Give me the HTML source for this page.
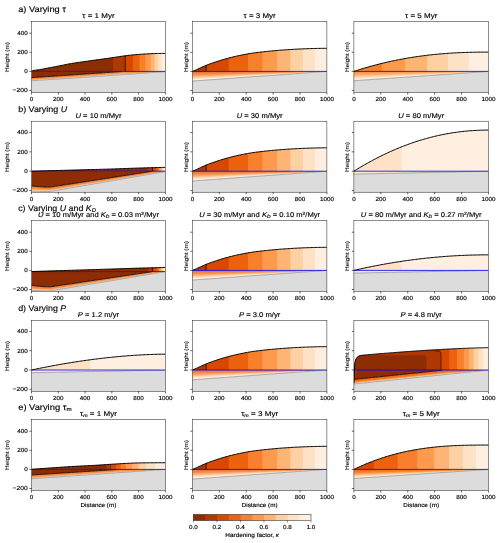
<!DOCTYPE html>
<html><head><meta charset="utf-8"><style>
html,body{margin:0;padding:0;background:#fff;width:500px;height:543px;overflow:hidden;position:relative;}
svg{display:block;position:absolute;left:0;top:0;will-change:transform;}
.yl{position:absolute;font-family:"Liberation Sans", sans-serif;color:#000;white-space:nowrap;line-height:1;transform-origin:0 0;will-change:transform;-webkit-text-stroke:0.08px #000;}
text{font-family:"Liberation Sans", sans-serif;fill:#000;stroke:#000;stroke-width:0.14px;text-rendering:geometricPrecision;}
</style></head><body>
<svg width="500" height="543" viewBox="0 0 500 543">
<defs><linearGradient id="g1" x1="0" y1="0" x2="0" y2="1"><stop offset="0" stop-color="#dc4c04"/><stop offset="0.38" stop-color="#f6802e"/><stop offset="0.7" stop-color="#fdcc9c"/><stop offset="0.9" stop-color="#fff1e4"/><stop offset="1" stop-color="#fff5eb"/></linearGradient>
<linearGradient id="g2" x1="0" y1="0" x2="0" y2="1"><stop offset="0" stop-color="#ea6010"/><stop offset="0.38" stop-color="#f88a3a"/><stop offset="0.72" stop-color="#fdd0a0"/><stop offset="0.92" stop-color="#fff3e6"/><stop offset="1" stop-color="#fff5eb"/></linearGradient>
<linearGradient id="g3" x1="0" y1="0" x2="0" y2="1"><stop offset="0" stop-color="#f98a3a"/><stop offset="0.35" stop-color="#fdac6a"/><stop offset="0.75" stop-color="#fee6cc"/><stop offset="1" stop-color="#fff5eb"/></linearGradient>
<linearGradient id="g4" x1="0" y1="0" x2="0" y2="1"><stop offset="0" stop-color="#e85a0a"/><stop offset="0.5" stop-color="#f57a22"/><stop offset="0.75" stop-color="#fcac6a"/><stop offset="0.9" stop-color="#feead6"/><stop offset="1" stop-color="#fff5eb"/></linearGradient>
<linearGradient id="g5" x1="0" y1="0" x2="0" y2="1"><stop offset="0" stop-color="#fee0c4"/><stop offset="1" stop-color="#fff3e8"/></linearGradient>
<clipPath id="clip00"><rect x="31.5" y="21.4" width="133.9" height="71"/></clipPath>
<clipPath id="clip01"><rect x="192.4" y="21.4" width="134.5" height="71"/></clipPath>
<clipPath id="clip02"><rect x="353.9" y="21.4" width="134.6" height="71"/></clipPath>
<clipPath id="clip10"><rect x="31.5" y="121.2" width="133.9" height="71"/></clipPath>
<clipPath id="clip11"><rect x="192.4" y="121.2" width="134.5" height="71"/></clipPath>
<clipPath id="clip12"><rect x="353.9" y="121.2" width="134.6" height="71"/></clipPath>
<clipPath id="clip20"><rect x="31.5" y="220.3" width="133.9" height="71"/></clipPath>
<clipPath id="clip21"><rect x="192.4" y="220.3" width="134.5" height="71"/></clipPath>
<clipPath id="clip22"><rect x="353.9" y="220.3" width="134.6" height="71"/></clipPath>
<clipPath id="clip30"><rect x="31.5" y="320.4" width="133.9" height="71"/></clipPath>
<clipPath id="clip31"><rect x="192.4" y="320.4" width="134.5" height="71"/></clipPath>
<clipPath id="clip32"><rect x="353.9" y="320.4" width="134.6" height="71"/></clipPath>
<clipPath id="clip40"><rect x="31.5" y="419.4" width="133.9" height="71"/></clipPath>
<clipPath id="clip41"><rect x="192.4" y="419.4" width="134.5" height="71"/></clipPath>
<clipPath id="clip42"><rect x="353.9" y="419.4" width="134.6" height="71"/></clipPath></defs>
<rect width="500" height="543" fill="#fff"/>
<g clip-path="url(#clip00)">
<path d="M31.5,80.76 L34.18,80.58 L36.86,80.4 L39.53,80.21 L42.21,80.03 L44.89,79.85 L47.57,79.67 L50.25,79.49 L52.92,79.31 L55.6,79.13 L58.28,78.94 L60.96,78.76 L63.64,78.58 L66.31,78.4 L68.99,78.22 L71.67,78.04 L74.35,77.86 L77.03,77.67 L79.7,77.49 L82.38,77.31 L85.06,77.13 L87.74,76.95 L90.42,76.77 L93.09,76.59 L95.77,76.4 L98.45,76.22 L101.13,76.04 L103.81,75.86 L106.48,75.68 L109.16,75.5 L111.84,75.32 L114.52,75.13 L117.2,74.95 L119.87,74.77 L122.55,74.59 L125.23,74.41 L127.91,74.23 L130.59,74.05 L133.26,73.86 L135.94,73.68 L138.62,73.5 L141.3,73.32 L143.98,73.14 L146.65,72.96 L149.33,72.78 L152.01,72.59 L154.69,72.41 L157.37,72.23 L160.04,72.05 L162.72,71.87 L165.4,71.69 L165.4,92.41 L31.5,92.41 Z" fill="#dcdcdc"/>
<rect x="31.5" y="77.57" width="1.15" height="3.15" fill="url(#g4)"/>
<rect x="32.5" y="77.51" width="1.15" height="3.15" fill="url(#g4)"/>
<rect x="33.5" y="77.44" width="1.15" height="3.15" fill="url(#g4)"/>
<rect x="34.5" y="77.37" width="1.15" height="3.15" fill="url(#g4)"/>
<rect x="35.5" y="77.3" width="1.15" height="3.15" fill="url(#g4)"/>
<rect x="36.5" y="77.23" width="1.15" height="3.15" fill="url(#g4)"/>
<rect x="37.5" y="77.17" width="1.15" height="3.15" fill="url(#g4)"/>
<rect x="38.5" y="77.1" width="1.15" height="3.15" fill="url(#g4)"/>
<rect x="39.5" y="77.03" width="1.15" height="3.15" fill="url(#g4)"/>
<rect x="40.5" y="76.96" width="1.15" height="3.15" fill="url(#g4)"/>
<rect x="41.5" y="76.9" width="1.15" height="3.15" fill="url(#g4)"/>
<rect x="42.5" y="76.83" width="1.15" height="3.15" fill="url(#g4)"/>
<rect x="43.5" y="76.76" width="1.15" height="3.15" fill="url(#g4)"/>
<rect x="44.5" y="76.69" width="1.15" height="3.15" fill="url(#g4)"/>
<rect x="45.5" y="76.63" width="1.15" height="3.15" fill="url(#g4)"/>
<rect x="46.5" y="76.56" width="1.15" height="3.15" fill="url(#g4)"/>
<rect x="47.5" y="76.49" width="1.15" height="3.15" fill="url(#g4)"/>
<rect x="48.5" y="76.42" width="1.15" height="3.15" fill="url(#g4)"/>
<rect x="49.5" y="76.35" width="1.15" height="3.15" fill="url(#g4)"/>
<rect x="50.5" y="76.29" width="1.15" height="3.15" fill="url(#g4)"/>
<rect x="51.5" y="76.22" width="1.15" height="3.15" fill="url(#g4)"/>
<rect x="52.5" y="76.15" width="1.15" height="3.15" fill="url(#g4)"/>
<rect x="53.5" y="76.08" width="1.15" height="3.15" fill="url(#g4)"/>
<rect x="54.5" y="76.02" width="1.15" height="3.15" fill="url(#g4)"/>
<rect x="55.5" y="75.95" width="1.15" height="3.15" fill="url(#g4)"/>
<rect x="56.5" y="75.88" width="1.15" height="3.15" fill="url(#g4)"/>
<rect x="57.5" y="75.81" width="1.15" height="3.15" fill="url(#g4)"/>
<rect x="58.5" y="75.74" width="1.15" height="3.15" fill="url(#g4)"/>
<rect x="59.5" y="75.68" width="1.15" height="3.15" fill="url(#g4)"/>
<rect x="60.5" y="75.61" width="1.15" height="3.15" fill="url(#g4)"/>
<rect x="61.5" y="75.54" width="1.15" height="3.15" fill="url(#g4)"/>
<rect x="62.5" y="75.47" width="1.15" height="3.15" fill="url(#g4)"/>
<rect x="63.5" y="75.41" width="1.15" height="3.15" fill="url(#g4)"/>
<rect x="64.5" y="75.34" width="1.15" height="3.15" fill="url(#g4)"/>
<rect x="65.5" y="75.27" width="1.15" height="3.15" fill="url(#g4)"/>
<rect x="66.5" y="75.2" width="1.15" height="3.15" fill="url(#g4)"/>
<rect x="67.5" y="75.13" width="1.15" height="3.15" fill="url(#g4)"/>
<rect x="68.5" y="75.07" width="1.15" height="3.15" fill="url(#g4)"/>
<rect x="69.5" y="75" width="1.15" height="3.15" fill="url(#g4)"/>
<rect x="70.5" y="74.93" width="1.15" height="3.15" fill="url(#g4)"/>
<rect x="71.5" y="74.86" width="1.15" height="3.15" fill="url(#g4)"/>
<rect x="72.5" y="74.8" width="1.15" height="3.15" fill="url(#g4)"/>
<rect x="73.5" y="74.73" width="1.15" height="3.15" fill="url(#g4)"/>
<rect x="74.5" y="74.66" width="1.15" height="3.15" fill="url(#g4)"/>
<rect x="75.5" y="74.59" width="1.15" height="3.15" fill="url(#g4)"/>
<rect x="76.5" y="74.52" width="1.15" height="3.15" fill="url(#g4)"/>
<rect x="77.5" y="74.46" width="1.15" height="3.15" fill="url(#g4)"/>
<rect x="78.5" y="74.39" width="1.15" height="3.15" fill="url(#g4)"/>
<rect x="79.5" y="74.32" width="1.15" height="3.15" fill="url(#g4)"/>
<rect x="80.5" y="74.25" width="1.15" height="3.15" fill="url(#g4)"/>
<rect x="81.5" y="74.19" width="1.15" height="3.15" fill="url(#g4)"/>
<rect x="82.5" y="74.12" width="1.15" height="3.15" fill="url(#g4)"/>
<rect x="83.5" y="74.05" width="1.15" height="3.15" fill="url(#g4)"/>
<rect x="84.5" y="73.98" width="1.15" height="3.15" fill="url(#g4)"/>
<rect x="85.5" y="73.91" width="1.15" height="3.15" fill="url(#g4)"/>
<rect x="86.5" y="73.85" width="1.15" height="3.15" fill="url(#g4)"/>
<rect x="87.5" y="73.78" width="1.15" height="3.15" fill="url(#g4)"/>
<rect x="88.5" y="73.71" width="1.15" height="3.15" fill="url(#g4)"/>
<rect x="89.5" y="73.64" width="1.15" height="3.15" fill="url(#g4)"/>
<rect x="90.5" y="73.58" width="1.15" height="3.15" fill="url(#g4)"/>
<rect x="91.5" y="73.51" width="1.15" height="3.15" fill="url(#g4)"/>
<rect x="92.5" y="73.44" width="1.15" height="3.15" fill="url(#g4)"/>
<rect x="93.5" y="73.37" width="1.15" height="3.15" fill="url(#g4)"/>
<rect x="94.5" y="73.31" width="1.15" height="3.15" fill="url(#g4)"/>
<rect x="95.5" y="73.24" width="1.15" height="3.15" fill="url(#g4)"/>
<rect x="96.5" y="73.17" width="1.15" height="3.15" fill="url(#g4)"/>
<rect x="97.5" y="73.1" width="1.15" height="3.15" fill="url(#g4)"/>
<rect x="98.5" y="73.03" width="1.15" height="3.15" fill="url(#g4)"/>
<rect x="99.5" y="72.97" width="1.15" height="3.15" fill="url(#g4)"/>
<rect x="100.5" y="72.9" width="1.15" height="3.15" fill="url(#g4)"/>
<rect x="101.5" y="72.83" width="1.15" height="3.15" fill="url(#g4)"/>
<rect x="102.5" y="72.76" width="1.15" height="3.15" fill="url(#g4)"/>
<rect x="103.5" y="72.7" width="1.15" height="3.15" fill="url(#g4)"/>
<rect x="104.5" y="72.63" width="1.15" height="3.15" fill="url(#g4)"/>
<rect x="105.5" y="72.56" width="1.15" height="3.15" fill="url(#g4)"/>
<rect x="106.5" y="72.49" width="1.15" height="3.15" fill="url(#g4)"/>
<rect x="107.5" y="72.42" width="1.15" height="3.15" fill="url(#g4)"/>
<rect x="108.5" y="72.36" width="1.15" height="3.15" fill="url(#g4)"/>
<rect x="109.5" y="72.29" width="1.15" height="3.15" fill="url(#g4)"/>
<rect x="110.5" y="72.22" width="1.15" height="3.15" fill="url(#g4)"/>
<rect x="111.5" y="72.15" width="1.15" height="3.15" fill="url(#g4)"/>
<rect x="112.5" y="72.09" width="1.15" height="3.15" fill="url(#g4)"/>
<rect x="113.5" y="72.02" width="1.15" height="3.15" fill="url(#g4)"/>
<rect x="114.5" y="71.95" width="1.15" height="3.15" fill="url(#g4)"/>
<rect x="115.5" y="71.88" width="1.15" height="3.15" fill="url(#g4)"/>
<rect x="116.5" y="71.81" width="1.15" height="3.15" fill="url(#g4)"/>
<rect x="117.5" y="71.75" width="1.15" height="3.15" fill="url(#g4)"/>
<rect x="118.5" y="71.68" width="1.15" height="3.15" fill="url(#g4)"/>
<rect x="119.5" y="71.61" width="1.15" height="3.15" fill="url(#g4)"/>
<rect x="120.5" y="71.54" width="1.15" height="3.15" fill="url(#g4)"/>
<rect x="121.5" y="71.48" width="1.15" height="3.15" fill="url(#g4)"/>
<rect x="122.5" y="71.41" width="1.15" height="3.15" fill="url(#g4)"/>
<rect x="123.5" y="71.4" width="1.15" height="3.09" fill="url(#g4)"/>
<rect x="124.5" y="71.4" width="1.15" height="3.02" fill="url(#g4)"/>
<rect x="125.5" y="71.4" width="1.15" height="2.96" fill="url(#g4)"/>
<rect x="126.5" y="71.4" width="1.15" height="2.89" fill="url(#g4)"/>
<rect x="127.5" y="71.4" width="1.15" height="2.82" fill="url(#g4)"/>
<rect x="128.5" y="71.4" width="1.15" height="2.75" fill="url(#g4)"/>
<rect x="129.5" y="71.4" width="1.15" height="2.69" fill="url(#g4)"/>
<rect x="130.5" y="71.4" width="1.15" height="2.62" fill="url(#g4)"/>
<rect x="131.5" y="71.4" width="1.15" height="2.55" fill="url(#g4)"/>
<rect x="132.5" y="71.4" width="1.15" height="2.48" fill="url(#g4)"/>
<rect x="133.5" y="71.4" width="1.15" height="2.41" fill="url(#g4)"/>
<rect x="134.5" y="71.4" width="1.15" height="2.35" fill="url(#g4)"/>
<rect x="135.5" y="71.4" width="1.15" height="2.28" fill="url(#g4)"/>
<rect x="136.5" y="71.4" width="1.15" height="2.21" fill="url(#g4)"/>
<rect x="137.5" y="71.4" width="1.15" height="2.14" fill="url(#g4)"/>
<rect x="138.5" y="71.4" width="1.15" height="2.08" fill="url(#g4)"/>
<rect x="139.5" y="71.4" width="1.15" height="2.01" fill="url(#g4)"/>
<rect x="140.5" y="71.4" width="1.15" height="1.94" fill="url(#g4)"/>
<rect x="141.5" y="71.4" width="1.15" height="1.87" fill="url(#g4)"/>
<rect x="142.5" y="71.4" width="1.15" height="1.8" fill="url(#g4)"/>
<rect x="143.5" y="71.4" width="1.15" height="1.74" fill="url(#g4)"/>
<rect x="144.5" y="71.4" width="1.15" height="1.67" fill="url(#g4)"/>
<rect x="145.5" y="71.4" width="1.15" height="1.6" fill="url(#g4)"/>
<rect x="146.5" y="71.4" width="1.15" height="1.53" fill="url(#g4)"/>
<rect x="147.5" y="71.4" width="1.15" height="1.47" fill="url(#g4)"/>
<rect x="148.5" y="71.4" width="1.15" height="1.4" fill="url(#g4)"/>
<rect x="149.5" y="71.4" width="1.15" height="1.33" fill="url(#g4)"/>
<rect x="150.5" y="71.4" width="1.15" height="1.26" fill="url(#g4)"/>
<rect x="151.5" y="71.4" width="1.15" height="1.19" fill="url(#g4)"/>
<rect x="152.5" y="71.4" width="1.15" height="1.13" fill="url(#g4)"/>
<rect x="153.5" y="71.4" width="1.15" height="1.06" fill="url(#g4)"/>
<rect x="154.5" y="71.4" width="1.15" height="0.99" fill="url(#g4)"/>
<rect x="155.5" y="71.4" width="1.15" height="0.92" fill="url(#g4)"/>
<rect x="156.5" y="71.4" width="1.15" height="0.86" fill="url(#g4)"/>
<rect x="157.5" y="71.4" width="1.15" height="0.79" fill="url(#g4)"/>
<rect x="158.5" y="71.4" width="1.15" height="0.72" fill="url(#g4)"/>
<rect x="159.5" y="71.4" width="1.15" height="0.65" fill="url(#g4)"/>
<rect x="160.5" y="71.4" width="1.15" height="0.58" fill="url(#g4)"/>
<rect x="161.5" y="71.4" width="1.15" height="0.52" fill="url(#g4)"/>
<rect x="162.5" y="71.4" width="1.15" height="0.45" fill="url(#g4)"/>
<rect x="163.5" y="71.4" width="1.15" height="0.38" fill="url(#g4)"/>
<rect x="164.5" y="71.4" width="1.05" height="0.32" fill="url(#g4)"/>
<path d="M31.5,71.4 L31.5,77.61 L32.84,77.52 L34.18,77.43 L35.52,77.34 L36.86,77.24 L38.2,77.15 L39.53,77.06 L40.87,76.97 L42.21,76.88 L43.55,76.79 L44.89,76.7 L46.23,76.61 L47.57,76.52 L48.91,76.43 L50.25,76.34 L51.59,76.25 L52.92,76.16 L54.26,76.07 L55.6,75.97 L56.94,75.88 L58.28,75.79 L59.62,75.7 L60.96,75.61 L62.3,75.52 L63.64,75.43 L64.97,75.34 L66.31,75.25 L67.65,75.16 L68.99,75.07 L70.33,74.98 L71.67,74.89 L73.01,74.8 L74.35,74.7 L75.69,74.61 L77.03,74.52 L78.37,74.43 L79.7,74.34 L81.04,74.25 L82.38,74.16 L83.72,74.07 L85.06,73.98 L86.4,73.89 L87.74,73.8 L89.08,73.71 L90.42,73.62 L91.75,73.52 L93.09,73.43 L94.43,73.34 L95.77,73.25 L97.11,73.16 L98.45,73.07 L99.79,72.98 L101.13,72.89 L102.47,72.8 L103.81,72.71 L105.15,72.62 L106.48,72.53 L107.82,72.44 L109.16,72.35 L110.5,72.25 L111.84,72.16 L113.18,72.07 L114.52,71.98 L115.86,71.89 L117.2,71.8 L118.54,71.71 L119.87,71.62 L121.21,71.53 L122.55,71.44 L123.89,71.4 L125.23,71.4 L126.57,71.4 L127.91,71.4 L129.25,71.4 L130.59,71.4 L131.93,71.4 L133.26,71.4 L134.6,71.4 L135.94,71.4 L137.28,71.4 L138.62,71.4 L139.96,71.4 L141.3,71.4 L142.64,71.4 L143.98,71.4 L145.31,71.4 L146.65,71.4 L147.99,71.4 L149.33,71.4 L150.67,71.4 L152.01,71.4 L153.35,71.4 L154.69,71.4 L156.03,71.4 L157.37,71.4 L158.7,71.4 L160.04,71.4 L161.38,71.4 L162.72,71.4 L164.06,71.4 L165.4,71.4 L165.4,71.4 Z" fill="#8e2d04"/>
<path d="M31.5,77.61 L32.84,77.52 L34.18,77.43 L35.52,77.34 L36.86,77.24 L38.2,77.15 L39.53,77.06 L40.87,76.97 L42.21,76.88 L43.55,76.79 L44.89,76.7 L46.23,76.61 L47.57,76.52 L48.91,76.43 L50.25,76.34 L51.59,76.25 L52.92,76.16 L54.26,76.07 L55.6,75.97 L56.94,75.88 L58.28,75.79 L59.62,75.7 L60.96,75.61 L62.3,75.52 L63.64,75.43 L64.97,75.34 L66.31,75.25 L67.65,75.16 L68.99,75.07 L70.33,74.98 L71.67,74.89 L73.01,74.8 L74.35,74.7 L75.69,74.61 L77.03,74.52 L78.37,74.43 L79.7,74.34 L81.04,74.25 L82.38,74.16 L83.72,74.07 L85.06,73.98 L86.4,73.89 L87.74,73.8 L89.08,73.71 L90.42,73.62 L91.75,73.52 L93.09,73.43 L94.43,73.34 L95.77,73.25 L97.11,73.16 L98.45,73.07 L99.79,72.98 L101.13,72.89 L102.47,72.8 L103.81,72.71 L105.15,72.62 L106.48,72.53 L107.82,72.44 L109.16,72.35 L110.5,72.25 L111.84,72.16 L113.18,72.07 L114.52,71.98 L115.86,71.89 L117.2,71.8 L118.54,71.71 L119.87,71.62 L121.21,71.53" fill="none" stroke="#1a0600" stroke-width="0.95" stroke-linejoin="round" stroke-linecap="butt" opacity="0.9"/>
<path d="M31.5,80.76 L34.18,80.58 L36.86,80.4 L39.53,80.21 L42.21,80.03 L44.89,79.85 L47.57,79.67 L50.25,79.49 L52.92,79.31 L55.6,79.13 L58.28,78.94 L60.96,78.76 L63.64,78.58 L66.31,78.4 L68.99,78.22 L71.67,78.04 L74.35,77.86 L77.03,77.67 L79.7,77.49 L82.38,77.31 L85.06,77.13 L87.74,76.95 L90.42,76.77 L93.09,76.59 L95.77,76.4 L98.45,76.22 L101.13,76.04 L103.81,75.86 L106.48,75.68 L109.16,75.5 L111.84,75.32 L114.52,75.13 L117.2,74.95 L119.87,74.77 L122.55,74.59 L125.23,74.41 L127.91,74.23 L130.59,74.05 L133.26,73.86 L135.94,73.68 L138.62,73.5 L141.3,73.32 L143.98,73.14 L146.65,72.96 L149.33,72.78 L152.01,72.59 L154.69,72.41 L157.37,72.23 L160.04,72.05 L162.72,71.87 L165.4,71.69" fill="none" stroke="#6a6a6a" stroke-width="0.55" stroke-linejoin="round" stroke-linecap="butt"/>
<path d="M31.5,71.4 L36.68,70 L41.86,69.25 L47.04,68.25 L52.22,67.25 L57.4,66.27 L62.58,65.24 L67.76,64.16 L72.94,63.26 L78.12,62.47 L83.3,61.74 L88.48,61.02 L93.66,60.29 L98.84,59.57 L104.02,58.86 L109.2,58.14 L114.38,57.37 L114.38,71.4 L31.5,71.4 Z" fill="#8e2d04"/>
<path d="M113.18,57.55 L114.01,57.43 L114.84,57.3 L115.66,57.17 L116.49,57.04 L117.32,56.91 L118.15,56.78 L118.98,56.66 L119.8,56.53 L120.63,56.41 L121.46,56.29 L122.29,56.17 L123.12,56.05 L123.95,55.94 L124.77,55.83 L125.6,55.73 L126.43,55.62 L126.43,71.4 L113.18,71.4 Z" fill="#b03903"/>
<path d="M125.23,55.77 L125.78,55.7 L126.33,55.63 L126.89,55.57 L127.44,55.5 L127.99,55.44 L128.54,55.37 L129.09,55.31 L129.65,55.25 L130.2,55.19 L130.75,55.13 L131.3,55.07 L131.85,55.02 L132.41,54.96 L132.96,54.91 L133.51,54.86 L134.06,54.8 L134.06,71.4 L125.23,71.4 Z" fill="#d94801"/>
<path d="M132.86,54.92 L133.36,54.87 L133.85,54.82 L134.34,54.78 L134.84,54.73 L135.33,54.69 L135.82,54.64 L136.32,54.6 L136.81,54.56 L137.3,54.51 L137.8,54.47 L138.29,54.43 L138.78,54.39 L139.28,54.35 L139.77,54.32 L140.26,54.28 L140.76,54.25 L140.76,71.4 L132.86,71.4 Z" fill="#ec620f"/>
<path d="M139.56,54.33 L140,54.3 L140.44,54.27 L140.89,54.24 L141.33,54.21 L141.77,54.18 L142.22,54.15 L142.66,54.12 L143.1,54.09 L143.55,54.06 L143.99,54.04 L144.43,54.01 L144.88,53.98 L145.32,53.96 L145.76,53.93 L146.21,53.91 L146.65,53.88 L146.65,71.4 L139.56,71.4 Z" fill="#f87f2c"/>
<path d="M145.45,53.95 L145.85,53.93 L146.25,53.9 L146.65,53.88 L147.05,53.86 L147.46,53.84 L147.86,53.82 L148.26,53.8 L148.66,53.79 L149.06,53.77 L149.46,53.75 L149.86,53.74 L150.27,53.72 L150.67,53.71 L151.07,53.69 L151.47,53.68 L151.87,53.67 L151.87,71.4 L145.45,71.4 Z" fill="#fd9a4e"/>
<path d="M150.67,53.71 L150.99,53.7 L151.31,53.69 L151.62,53.68 L151.94,53.66 L152.26,53.65 L152.58,53.64 L152.89,53.63 L153.21,53.62 L153.53,53.61 L153.85,53.6 L154.17,53.59 L154.48,53.58 L154.8,53.57 L155.12,53.56 L155.44,53.55 L155.75,53.54 L155.75,71.4 L150.67,71.4 Z" fill="#fdb576"/>
<path d="M154.55,53.58 L154.84,53.57 L155.12,53.56 L155.41,53.55 L155.69,53.54 L155.98,53.53 L156.26,53.52 L156.54,53.52 L156.83,53.51 L157.11,53.5 L157.4,53.49 L157.68,53.48 L157.96,53.48 L158.25,53.47 L158.53,53.46 L158.82,53.46 L159.1,53.45 L159.1,71.4 L154.55,71.4 Z" fill="#fdd1a3"/>
<path d="M157.9,53.48 L158.21,53.47 L158.52,53.46 L158.83,53.45 L159.14,53.45 L159.45,53.44 L159.76,53.43 L160.07,53.43 L160.38,53.42 L160.69,53.41 L160.99,53.41 L161.3,53.4 L161.61,53.4 L161.92,53.39 L162.23,53.39 L162.54,53.38 L162.85,53.38 L162.85,71.4 L157.9,71.4 Z" fill="#fee2c6"/>
<path d="M161.65,53.39 L161.89,53.39 L162.12,53.39 L162.35,53.38 L162.59,53.38 L162.82,53.38 L163.06,53.37 L163.29,53.37 L163.53,53.37 L163.76,53.36 L163.99,53.36 L164.23,53.36 L164.46,53.36 L164.7,53.36 L164.93,53.35 L165.17,53.35 L165.4,53.35 L165.4,71.4 L161.65,71.4 Z" fill="#ffefe0"/>
<path d="M125.23,71.4 L125.23,55.77" fill="none" stroke="#000" stroke-width="0.7" stroke-linejoin="round" stroke-linecap="butt" opacity="1.0"/>
<path d="M31.5,71.4 L165.4,71.4" fill="none" stroke="#0000ff" stroke-width="1.0" stroke-linejoin="round" stroke-linecap="butt" opacity="0.82"/>
<path d="M31.5,71.4 L32.84,70.68 L34.18,70.36 L35.52,70.14 L36.86,69.98 L38.2,69.83 L39.53,69.65 L40.87,69.43 L42.21,69.18 L43.55,68.93 L44.89,68.67 L46.23,68.41 L47.57,68.14 L48.91,67.88 L50.25,67.62 L51.59,67.37 L52.92,67.12 L54.26,66.87 L55.6,66.61 L56.94,66.36 L58.28,66.1 L59.62,65.84 L60.96,65.58 L62.3,65.3 L63.64,65.02 L64.97,64.73 L66.31,64.46 L67.65,64.18 L68.99,63.93 L70.33,63.69 L71.67,63.46 L73.01,63.25 L74.35,63.03 L75.69,62.83 L77.03,62.63 L78.37,62.43 L79.7,62.24 L81.04,62.05 L82.38,61.86 L83.72,61.68 L85.06,61.49 L86.4,61.31 L87.74,61.12 L89.08,60.93 L90.42,60.74 L91.75,60.55 L93.09,60.36 L94.43,60.18 L95.77,59.99 L97.11,59.81 L98.45,59.63 L99.79,59.44 L101.13,59.26 L102.47,59.08 L103.81,58.89 L105.15,58.71 L106.48,58.52 L107.82,58.33 L109.16,58.14 L110.5,57.95 L111.84,57.76 L113.18,57.55 L114.52,57.35 L115.86,57.14 L117.2,56.93 L118.54,56.72 L119.87,56.52 L121.21,56.32 L122.55,56.13 L123.89,55.95 L125.23,55.77 L126.57,55.61 L127.91,55.45 L129.25,55.29 L130.59,55.15 L131.93,55.01 L133.26,54.88 L134.6,54.75 L135.94,54.63 L137.28,54.52 L138.62,54.41 L139.96,54.3 L141.3,54.21 L142.64,54.12 L143.98,54.04 L145.31,53.96 L146.65,53.88 L147.99,53.82 L149.33,53.76 L150.67,53.71 L152.01,53.66 L153.35,53.62 L154.69,53.57 L156.03,53.53 L157.37,53.49 L158.7,53.46 L160.04,53.43 L161.38,53.4 L162.72,53.38 L164.06,53.36 L165.4,53.35" fill="none" stroke="#000" stroke-width="1.0" stroke-linejoin="round" stroke-linecap="butt"/>
</g>
<path d="M31.5,92.4 v2.1 M58.28,92.4 v2.1 M85.06,92.4 v2.1 M111.84,92.4 v2.1 M138.62,92.4 v2.1 M165.4,92.4 v2.1 M31.5,90.5 h-2.1 M31.5,71.4 h-2.1 M31.5,52.3 h-2.1 M31.5,33.2 h-2.1" stroke="#000" stroke-width="0.6" fill="none"/>
<rect x="31.5" y="21.4" width="133.9" height="71" fill="none" stroke="#000" stroke-width="0.45"/>
<text x="31.5" y="100.75" font-size="5.83" text-anchor="middle" textLength="3.5" lengthAdjust="spacingAndGlyphs">0</text>
<text x="58.28" y="100.75" font-size="5.83" text-anchor="middle" textLength="10.5" lengthAdjust="spacingAndGlyphs">200</text>
<text x="85.06" y="100.75" font-size="5.83" text-anchor="middle" textLength="10.5" lengthAdjust="spacingAndGlyphs">400</text>
<text x="111.84" y="100.75" font-size="5.83" text-anchor="middle" textLength="10.5" lengthAdjust="spacingAndGlyphs">600</text>
<text x="138.62" y="100.75" font-size="5.83" text-anchor="middle" textLength="10.5" lengthAdjust="spacingAndGlyphs">800</text>
<text x="165.4" y="100.75" font-size="5.83" text-anchor="middle" textLength="14" lengthAdjust="spacingAndGlyphs">1000</text>
<text x="27.65" y="92.4" font-size="5.83" text-anchor="end" textLength="15.11" lengthAdjust="spacingAndGlyphs">−200</text>
<text x="27.65" y="73.3" font-size="5.83" text-anchor="end" textLength="3.5" lengthAdjust="spacingAndGlyphs">0</text>
<text x="27.65" y="54.2" font-size="5.83" text-anchor="end" textLength="10.5" lengthAdjust="spacingAndGlyphs">200</text>
<text x="27.65" y="35.1" font-size="5.83" text-anchor="end" textLength="10.5" lengthAdjust="spacingAndGlyphs">400</text>
<g clip-path="url(#clip01)">
<path d="M192.4,81.05 L195.09,80.85 L197.78,80.66 L200.47,80.47 L203.16,80.27 L205.85,80.08 L208.54,79.89 L211.23,79.7 L213.92,79.5 L216.61,79.31 L219.3,79.12 L221.99,78.92 L224.68,78.73 L227.37,78.54 L230.06,78.34 L232.75,78.15 L235.44,77.96 L238.13,77.77 L240.82,77.57 L243.51,77.38 L246.2,77.19 L248.89,76.99 L251.58,76.8 L254.27,76.61 L256.96,76.42 L259.65,76.22 L262.34,76.03 L265.03,75.84 L267.72,75.64 L270.41,75.45 L273.1,75.26 L275.79,75.07 L278.48,74.87 L281.17,74.68 L283.86,74.49 L286.55,74.29 L289.24,74.1 L291.93,73.91 L294.62,73.71 L297.31,73.52 L300,73.33 L302.69,73.14 L305.38,72.94 L308.07,72.75 L310.76,72.56 L313.45,72.36 L316.14,72.17 L318.83,71.98 L321.52,71.79 L324.21,71.59 L326.9,71.4 L326.9,92.41 L192.4,92.41 Z" fill="#dcdcdc"/>
<rect x="192.4" y="71.4" width="1.15" height="9.61" fill="url(#g1)"/>
<rect x="193.4" y="71.4" width="1.15" height="9.54" fill="url(#g1)"/>
<rect x="194.4" y="71.4" width="1.15" height="9.47" fill="url(#g1)"/>
<rect x="195.4" y="71.4" width="1.15" height="9.39" fill="url(#g1)"/>
<rect x="196.4" y="71.4" width="1.15" height="9.32" fill="url(#g1)"/>
<rect x="197.4" y="71.4" width="1.15" height="9.25" fill="url(#g1)"/>
<rect x="198.4" y="71.4" width="1.15" height="9.18" fill="url(#g1)"/>
<rect x="199.4" y="71.4" width="1.15" height="9.11" fill="url(#g1)"/>
<rect x="200.4" y="71.4" width="1.15" height="9.04" fill="url(#g1)"/>
<rect x="201.4" y="71.4" width="1.15" height="8.96" fill="url(#g1)"/>
<rect x="202.4" y="71.4" width="1.15" height="8.89" fill="url(#g1)"/>
<rect x="203.4" y="71.4" width="1.15" height="8.82" fill="url(#g1)"/>
<rect x="204.4" y="71.4" width="1.15" height="8.75" fill="url(#g1)"/>
<rect x="205.4" y="71.4" width="1.15" height="8.68" fill="url(#g1)"/>
<rect x="206.4" y="71.4" width="1.15" height="8.61" fill="url(#g1)"/>
<rect x="207.4" y="71.4" width="1.15" height="8.53" fill="url(#g1)"/>
<rect x="208.4" y="71.4" width="1.15" height="8.46" fill="url(#g1)"/>
<rect x="209.4" y="71.4" width="1.15" height="8.39" fill="url(#g1)"/>
<rect x="210.4" y="71.4" width="1.15" height="8.32" fill="url(#g1)"/>
<rect x="211.4" y="71.4" width="1.15" height="8.25" fill="url(#g1)"/>
<rect x="212.4" y="71.4" width="1.15" height="8.18" fill="url(#g1)"/>
<rect x="213.4" y="71.4" width="1.15" height="8.1" fill="url(#g1)"/>
<rect x="214.4" y="71.4" width="1.15" height="8.03" fill="url(#g1)"/>
<rect x="215.4" y="71.4" width="1.15" height="7.96" fill="url(#g1)"/>
<rect x="216.4" y="71.4" width="1.15" height="7.89" fill="url(#g1)"/>
<rect x="217.4" y="71.4" width="1.15" height="7.82" fill="url(#g1)"/>
<rect x="218.4" y="71.4" width="1.15" height="7.75" fill="url(#g1)"/>
<rect x="219.4" y="71.4" width="1.15" height="7.67" fill="url(#g1)"/>
<rect x="220.4" y="71.4" width="1.15" height="7.6" fill="url(#g1)"/>
<rect x="221.4" y="71.4" width="1.15" height="7.53" fill="url(#g1)"/>
<rect x="222.4" y="71.4" width="1.15" height="7.46" fill="url(#g1)"/>
<rect x="223.4" y="71.4" width="1.15" height="7.39" fill="url(#g1)"/>
<rect x="224.4" y="71.4" width="1.15" height="7.31" fill="url(#g1)"/>
<rect x="225.4" y="71.4" width="1.15" height="7.24" fill="url(#g1)"/>
<rect x="226.4" y="71.4" width="1.15" height="7.17" fill="url(#g1)"/>
<rect x="227.4" y="71.4" width="1.15" height="7.1" fill="url(#g1)"/>
<rect x="228.4" y="71.4" width="1.15" height="7.03" fill="url(#g1)"/>
<rect x="229.4" y="71.4" width="1.15" height="6.96" fill="url(#g1)"/>
<rect x="230.4" y="71.4" width="1.15" height="6.88" fill="url(#g1)"/>
<rect x="231.4" y="71.4" width="1.15" height="6.81" fill="url(#g1)"/>
<rect x="232.4" y="71.4" width="1.15" height="6.74" fill="url(#g1)"/>
<rect x="233.4" y="71.4" width="1.15" height="6.67" fill="url(#g1)"/>
<rect x="234.4" y="71.4" width="1.15" height="6.6" fill="url(#g1)"/>
<rect x="235.4" y="71.4" width="1.15" height="6.53" fill="url(#g1)"/>
<rect x="236.4" y="71.4" width="1.15" height="6.45" fill="url(#g1)"/>
<rect x="237.4" y="71.4" width="1.15" height="6.38" fill="url(#g1)"/>
<rect x="238.4" y="71.4" width="1.15" height="6.31" fill="url(#g1)"/>
<rect x="239.4" y="71.4" width="1.15" height="6.24" fill="url(#g1)"/>
<rect x="240.4" y="71.4" width="1.15" height="6.17" fill="url(#g1)"/>
<rect x="241.4" y="71.4" width="1.15" height="6.1" fill="url(#g1)"/>
<rect x="242.4" y="71.4" width="1.15" height="6.02" fill="url(#g1)"/>
<rect x="243.4" y="71.4" width="1.15" height="5.95" fill="url(#g1)"/>
<rect x="244.4" y="71.4" width="1.15" height="5.88" fill="url(#g1)"/>
<rect x="245.4" y="71.4" width="1.15" height="5.81" fill="url(#g1)"/>
<rect x="246.4" y="71.4" width="1.15" height="5.74" fill="url(#g1)"/>
<rect x="247.4" y="71.4" width="1.15" height="5.67" fill="url(#g1)"/>
<rect x="248.4" y="71.4" width="1.15" height="5.59" fill="url(#g1)"/>
<rect x="249.4" y="71.4" width="1.15" height="5.52" fill="url(#g1)"/>
<rect x="250.4" y="71.4" width="1.15" height="5.45" fill="url(#g1)"/>
<rect x="251.4" y="71.4" width="1.15" height="5.38" fill="url(#g1)"/>
<rect x="252.4" y="71.4" width="1.15" height="5.31" fill="url(#g1)"/>
<rect x="253.4" y="71.4" width="1.15" height="5.24" fill="url(#g1)"/>
<rect x="254.4" y="71.4" width="1.15" height="5.16" fill="url(#g1)"/>
<rect x="255.4" y="71.4" width="1.15" height="5.09" fill="url(#g1)"/>
<rect x="256.4" y="71.4" width="1.15" height="5.02" fill="url(#g1)"/>
<rect x="257.4" y="71.4" width="1.15" height="4.95" fill="url(#g1)"/>
<rect x="258.4" y="71.4" width="1.15" height="4.88" fill="url(#g1)"/>
<rect x="259.4" y="71.4" width="1.15" height="4.8" fill="url(#g1)"/>
<rect x="260.4" y="71.4" width="1.15" height="4.73" fill="url(#g1)"/>
<rect x="261.4" y="71.4" width="1.15" height="4.66" fill="url(#g1)"/>
<rect x="262.4" y="71.4" width="1.15" height="4.59" fill="url(#g1)"/>
<rect x="263.4" y="71.4" width="1.15" height="4.52" fill="url(#g1)"/>
<rect x="264.4" y="71.4" width="1.15" height="4.45" fill="url(#g1)"/>
<rect x="265.4" y="71.4" width="1.15" height="4.37" fill="url(#g1)"/>
<rect x="266.4" y="71.4" width="1.15" height="4.3" fill="url(#g1)"/>
<rect x="267.4" y="71.4" width="1.15" height="4.23" fill="url(#g1)"/>
<rect x="268.4" y="71.4" width="1.15" height="4.16" fill="url(#g1)"/>
<rect x="269.4" y="71.4" width="1.15" height="4.09" fill="url(#g1)"/>
<rect x="270.4" y="71.4" width="1.15" height="4.02" fill="url(#g1)"/>
<rect x="271.4" y="71.4" width="1.15" height="3.94" fill="url(#g1)"/>
<rect x="272.4" y="71.4" width="1.15" height="3.87" fill="url(#g1)"/>
<rect x="273.4" y="71.4" width="1.15" height="3.8" fill="url(#g1)"/>
<rect x="274.4" y="71.4" width="1.15" height="3.73" fill="url(#g1)"/>
<rect x="275.4" y="71.4" width="1.15" height="3.66" fill="url(#g1)"/>
<rect x="276.4" y="71.4" width="1.15" height="3.59" fill="url(#g1)"/>
<rect x="277.4" y="71.4" width="1.15" height="3.51" fill="url(#g1)"/>
<rect x="278.4" y="71.4" width="1.15" height="3.44" fill="url(#g1)"/>
<rect x="279.4" y="71.4" width="1.15" height="3.37" fill="url(#g1)"/>
<rect x="280.4" y="71.4" width="1.15" height="3.3" fill="url(#g1)"/>
<rect x="281.4" y="71.4" width="1.15" height="3.23" fill="url(#g1)"/>
<rect x="282.4" y="71.4" width="1.15" height="3.16" fill="url(#g1)"/>
<rect x="283.4" y="71.4" width="1.15" height="3.08" fill="url(#g1)"/>
<rect x="284.4" y="71.4" width="1.15" height="3.01" fill="url(#g1)"/>
<rect x="285.4" y="71.4" width="1.15" height="2.94" fill="url(#g1)"/>
<rect x="286.4" y="71.4" width="1.15" height="2.87" fill="url(#g1)"/>
<rect x="287.4" y="71.4" width="1.15" height="2.8" fill="url(#g1)"/>
<rect x="288.4" y="71.4" width="1.15" height="2.73" fill="url(#g1)"/>
<rect x="289.4" y="71.4" width="1.15" height="2.65" fill="url(#g1)"/>
<rect x="290.4" y="71.4" width="1.15" height="2.58" fill="url(#g1)"/>
<rect x="291.4" y="71.4" width="1.15" height="2.51" fill="url(#g1)"/>
<rect x="292.4" y="71.4" width="1.15" height="2.44" fill="url(#g1)"/>
<rect x="293.4" y="71.4" width="1.15" height="2.37" fill="url(#g1)"/>
<rect x="294.4" y="71.4" width="1.15" height="2.29" fill="url(#g1)"/>
<rect x="295.4" y="71.4" width="1.15" height="2.22" fill="url(#g1)"/>
<rect x="296.4" y="71.4" width="1.15" height="2.15" fill="url(#g1)"/>
<rect x="297.4" y="71.4" width="1.15" height="2.08" fill="url(#g1)"/>
<rect x="298.4" y="71.4" width="1.15" height="2.01" fill="url(#g1)"/>
<rect x="299.4" y="71.4" width="1.15" height="1.94" fill="url(#g1)"/>
<rect x="300.4" y="71.4" width="1.15" height="1.86" fill="url(#g1)"/>
<rect x="301.4" y="71.4" width="1.15" height="1.79" fill="url(#g1)"/>
<rect x="302.4" y="71.4" width="1.15" height="1.72" fill="url(#g1)"/>
<rect x="303.4" y="71.4" width="1.15" height="1.65" fill="url(#g1)"/>
<rect x="304.4" y="71.4" width="1.15" height="1.58" fill="url(#g1)"/>
<rect x="305.4" y="71.4" width="1.15" height="1.51" fill="url(#g1)"/>
<rect x="306.4" y="71.4" width="1.15" height="1.43" fill="url(#g1)"/>
<rect x="307.4" y="71.4" width="1.15" height="1.36" fill="url(#g1)"/>
<rect x="308.4" y="71.4" width="1.15" height="1.29" fill="url(#g1)"/>
<rect x="309.4" y="71.4" width="1.15" height="1.22" fill="url(#g1)"/>
<rect x="310.4" y="71.4" width="1.15" height="1.15" fill="url(#g1)"/>
<rect x="311.4" y="71.4" width="1.15" height="1.08" fill="url(#g1)"/>
<rect x="312.4" y="71.4" width="1.15" height="1" fill="url(#g1)"/>
<rect x="313.4" y="71.4" width="1.15" height="0.93" fill="url(#g1)"/>
<rect x="314.4" y="71.4" width="1.15" height="0.86" fill="url(#g1)"/>
<rect x="315.4" y="71.4" width="1.15" height="0.79" fill="url(#g1)"/>
<rect x="316.4" y="71.4" width="1.15" height="0.72" fill="url(#g1)"/>
<rect x="317.4" y="71.4" width="1.15" height="0.65" fill="url(#g1)"/>
<rect x="318.4" y="71.4" width="1.15" height="0.57" fill="url(#g1)"/>
<rect x="319.4" y="71.4" width="1.15" height="0.5" fill="url(#g1)"/>
<rect x="320.4" y="71.4" width="1.15" height="0.43" fill="url(#g1)"/>
<rect x="321.4" y="71.4" width="1.15" height="0.36" fill="url(#g1)"/>
<rect x="322.4" y="71.4" width="1.15" height="0.29" fill="url(#g1)"/>
<rect x="323.4" y="71.4" width="1.15" height="0.22" fill="url(#g1)"/>
<rect x="324.4" y="71.4" width="1.15" height="0.14" fill="url(#g1)"/>
<rect x="325.4" y="71.4" width="1.15" height="0.07" fill="url(#g1)"/>
<path d="M192.4,81.05 L195.09,80.85 L197.78,80.66 L200.47,80.47 L203.16,80.27 L205.85,80.08 L208.54,79.89 L211.23,79.7 L213.92,79.5 L216.61,79.31 L219.3,79.12 L221.99,78.92 L224.68,78.73 L227.37,78.54 L230.06,78.34 L232.75,78.15 L235.44,77.96 L238.13,77.77 L240.82,77.57 L243.51,77.38 L246.2,77.19 L248.89,76.99 L251.58,76.8 L254.27,76.61 L256.96,76.42 L259.65,76.22 L262.34,76.03 L265.03,75.84 L267.72,75.64 L270.41,75.45 L273.1,75.26 L275.79,75.07 L278.48,74.87 L281.17,74.68 L283.86,74.49 L286.55,74.29 L289.24,74.1 L291.93,73.91 L294.62,73.71 L297.31,73.52 L300,73.33 L302.69,73.14 L305.38,72.94 L308.07,72.75 L310.76,72.56 L313.45,72.36 L316.14,72.17 L318.83,71.98 L321.52,71.79 L324.21,71.59 L326.9,71.4" fill="none" stroke="#6a6a6a" stroke-width="0.55" stroke-linejoin="round" stroke-linecap="butt"/>
<path d="M192.4,71.4 L193.33,71.04 L194.26,70.68 L195.2,70.3 L196.13,69.9 L197.06,69.48 L197.99,69.05 L198.93,68.62 L199.86,68.18 L200.79,67.73 L201.72,67.3 L202.66,66.86 L203.59,66.44 L204.52,66.03 L205.45,65.64 L206.39,65.27 L207.32,64.9 L207.32,71.4 L192.4,71.4 Z" fill="#b03903"/>
<path d="M206.12,65.37 L207.61,64.79 L209.09,64.23 L210.58,63.69 L212.07,63.16 L213.56,62.65 L215.04,62.15 L216.53,61.66 L218.02,61.18 L219.5,60.7 L220.99,60.24 L222.48,59.79 L223.97,59.34 L225.45,58.92 L226.94,58.5 L228.43,58.1 L229.91,57.72 L229.91,71.4 L206.12,71.4 Z" fill="#d94801"/>
<path d="M228.72,58.03 L230,57.7 L231.29,57.38 L232.57,57.06 L233.86,56.75 L235.14,56.45 L236.43,56.16 L237.71,55.87 L239,55.6 L240.28,55.33 L241.57,55.07 L242.86,54.81 L244.14,54.56 L245.43,54.32 L246.71,54.08 L248,53.85 L249.28,53.63 L249.28,71.4 L228.72,71.4 Z" fill="#ec620f"/>
<path d="M248.08,53.84 L249.05,53.67 L250.02,53.51 L250.98,53.36 L251.95,53.21 L252.91,53.07 L253.88,52.93 L254.85,52.8 L255.81,52.67 L256.78,52.55 L257.74,52.43 L258.71,52.32 L259.68,52.21 L260.64,52.1 L261.61,51.99 L262.57,51.89 L263.54,51.78 L263.54,71.4 L248.08,71.4 Z" fill="#f87f2c"/>
<path d="M262.34,51.91 L263.34,51.8 L264.34,51.69 L265.34,51.59 L266.34,51.48 L267.34,51.37 L268.34,51.27 L269.34,51.17 L270.34,51.07 L271.34,50.97 L272.34,50.88 L273.34,50.78 L274.34,50.69 L275.34,50.6 L276.34,50.52 L277.34,50.44 L278.33,50.35 L278.33,71.4 L262.34,71.4 Z" fill="#fd9a4e"/>
<path d="M277.13,50.45 L278.04,50.38 L278.95,50.31 L279.86,50.23 L280.76,50.16 L281.67,50.1 L282.58,50.03 L283.49,49.96 L284.39,49.9 L285.3,49.84 L286.21,49.77 L287.11,49.71 L288.02,49.66 L288.93,49.6 L289.84,49.54 L290.74,49.49 L291.65,49.44 L291.65,71.4 L277.13,71.4 Z" fill="#fdb576"/>
<path d="M290.45,49.51 L291.3,49.46 L292.15,49.41 L293,49.36 L293.84,49.31 L294.69,49.26 L295.54,49.21 L296.39,49.17 L297.24,49.12 L298.09,49.08 L298.93,49.04 L299.78,49 L300.63,48.96 L301.48,48.92 L302.33,48.89 L303.18,48.85 L304.02,48.82 L304.02,71.4 L290.45,71.4 Z" fill="#fdd1a3"/>
<path d="M302.82,48.87 L303.67,48.83 L304.52,48.8 L305.37,48.77 L306.22,48.74 L307.07,48.71 L307.91,48.68 L308.76,48.65 L309.61,48.62 L310.46,48.6 L311.31,48.57 L312.16,48.55 L313,48.53 L313.85,48.5 L314.7,48.48 L315.55,48.47 L316.4,48.45 L316.4,71.4 L302.82,71.4 Z" fill="#fee2c6"/>
<path d="M315.2,48.47 L315.93,48.46 L316.66,48.44 L317.39,48.43 L318.12,48.41 L318.86,48.4 L319.59,48.39 L320.32,48.37 L321.05,48.36 L321.78,48.35 L322.51,48.34 L323.24,48.33 L323.97,48.32 L324.71,48.31 L325.44,48.3 L326.17,48.3 L326.9,48.29 L326.9,71.4 L315.2,71.4 Z" fill="#ffefe0"/>
<path d="M206.12,71.4 L206.12,65.37" fill="none" stroke="#000" stroke-width="0.7" stroke-linejoin="round" stroke-linecap="butt" opacity="1.0"/>
<path d="M192.4,71.4 L326.9,71.4" fill="none" stroke="#0000ff" stroke-width="1.0" stroke-linejoin="round" stroke-linecap="butt" opacity="0.82"/>
<path d="M192.4,71.4 L193.75,70.88 L195.09,70.34 L196.44,69.76 L197.78,69.15 L199.12,68.52 L200.47,67.89 L201.81,67.25 L203.16,66.63 L204.5,66.04 L205.85,65.48 L207.19,64.95 L208.54,64.44 L209.88,63.94 L211.23,63.45 L212.57,62.98 L213.92,62.52 L215.27,62.07 L216.61,61.63 L217.96,61.2 L219.3,60.77 L220.65,60.35 L221.99,59.93 L223.34,59.53 L224.68,59.14 L226.03,58.76 L227.37,58.39 L228.72,58.03 L230.06,57.68 L231.41,57.35 L232.75,57.02 L234.09,56.7 L235.44,56.38 L236.78,56.08 L238.13,55.78 L239.47,55.5 L240.82,55.22 L242.16,54.95 L243.51,54.68 L244.85,54.43 L246.2,54.18 L247.54,53.93 L248.89,53.7 L250.23,53.48 L251.58,53.26 L252.93,53.06 L254.27,52.88 L255.61,52.7 L256.96,52.53 L258.31,52.37 L259.65,52.21 L261,52.06 L262.34,51.91 L263.69,51.76 L265.03,51.62 L266.38,51.48 L267.72,51.33 L269.06,51.2 L270.41,51.06 L271.75,50.93 L273.1,50.81 L274.44,50.68 L275.79,50.56 L277.13,50.45 L278.48,50.34 L279.82,50.24 L281.17,50.13 L282.51,50.03 L283.86,49.94 L285.2,49.84 L286.55,49.75 L287.89,49.66 L289.24,49.58 L290.58,49.5 L291.93,49.42 L293.27,49.34 L294.62,49.26 L295.96,49.19 L297.31,49.12 L298.65,49.05 L300,48.99 L301.34,48.93 L302.69,48.87 L304.03,48.82 L305.38,48.77 L306.72,48.72 L308.07,48.67 L309.41,48.63 L310.76,48.59 L312.1,48.55 L313.45,48.51 L314.79,48.48 L316.14,48.45 L317.49,48.43 L318.83,48.4 L320.17,48.38 L321.52,48.35 L322.87,48.33 L324.21,48.32 L325.55,48.3 L326.9,48.29" fill="none" stroke="#000" stroke-width="1.0" stroke-linejoin="round" stroke-linecap="butt"/>
</g>
<path d="M192.4,92.4 v2.1 M219.3,92.4 v2.1 M246.2,92.4 v2.1 M273.1,92.4 v2.1 M300,92.4 v2.1 M326.9,92.4 v2.1 M192.4,90.5 h-2.1 M192.4,71.4 h-2.1 M192.4,52.3 h-2.1 M192.4,33.2 h-2.1" stroke="#000" stroke-width="0.6" fill="none"/>
<rect x="192.4" y="21.4" width="134.5" height="71" fill="none" stroke="#000" stroke-width="0.45"/>
<text x="192.4" y="100.75" font-size="5.83" text-anchor="middle" textLength="3.5" lengthAdjust="spacingAndGlyphs">0</text>
<text x="219.3" y="100.75" font-size="5.83" text-anchor="middle" textLength="10.5" lengthAdjust="spacingAndGlyphs">200</text>
<text x="246.2" y="100.75" font-size="5.83" text-anchor="middle" textLength="10.5" lengthAdjust="spacingAndGlyphs">400</text>
<text x="273.1" y="100.75" font-size="5.83" text-anchor="middle" textLength="10.5" lengthAdjust="spacingAndGlyphs">600</text>
<text x="300" y="100.75" font-size="5.83" text-anchor="middle" textLength="10.5" lengthAdjust="spacingAndGlyphs">800</text>
<text x="326.9" y="100.75" font-size="5.83" text-anchor="middle" textLength="14" lengthAdjust="spacingAndGlyphs">1000</text>
<g clip-path="url(#clip02)">
<path d="M353.9,80.76 L356.59,80.57 L359.28,80.38 L361.98,80.2 L364.67,80.01 L367.36,79.82 L370.05,79.64 L372.74,79.45 L375.44,79.26 L378.13,79.07 L380.82,78.89 L383.51,78.7 L386.2,78.51 L388.9,78.33 L391.59,78.14 L394.28,77.95 L396.97,77.76 L399.66,77.58 L402.36,77.39 L405.05,77.2 L407.74,77.02 L410.43,76.83 L413.12,76.64 L415.82,76.45 L418.51,76.27 L421.2,76.08 L423.89,75.89 L426.58,75.71 L429.28,75.52 L431.97,75.33 L434.66,75.14 L437.35,74.96 L440.04,74.77 L442.74,74.58 L445.43,74.39 L448.12,74.21 L450.81,74.02 L453.5,73.83 L456.2,73.65 L458.89,73.46 L461.58,73.27 L464.27,73.08 L466.96,72.9 L469.66,72.71 L472.35,72.52 L475.04,72.34 L477.73,72.15 L480.42,71.96 L483.12,71.77 L485.81,71.59 L488.5,71.4 L488.5,92.41 L353.9,92.41 Z" fill="#dcdcdc"/>
<rect x="353.9" y="71.4" width="1.15" height="9.32" fill="url(#g3)"/>
<rect x="354.9" y="71.4" width="1.15" height="9.25" fill="url(#g3)"/>
<rect x="355.9" y="71.4" width="1.15" height="9.19" fill="url(#g3)"/>
<rect x="356.9" y="71.4" width="1.15" height="9.12" fill="url(#g3)"/>
<rect x="357.9" y="71.4" width="1.15" height="9.05" fill="url(#g3)"/>
<rect x="358.9" y="71.4" width="1.15" height="8.98" fill="url(#g3)"/>
<rect x="359.9" y="71.4" width="1.15" height="8.91" fill="url(#g3)"/>
<rect x="360.9" y="71.4" width="1.15" height="8.84" fill="url(#g3)"/>
<rect x="361.9" y="71.4" width="1.15" height="8.77" fill="url(#g3)"/>
<rect x="362.9" y="71.4" width="1.15" height="8.7" fill="url(#g3)"/>
<rect x="363.9" y="71.4" width="1.15" height="8.63" fill="url(#g3)"/>
<rect x="364.9" y="71.4" width="1.15" height="8.56" fill="url(#g3)"/>
<rect x="365.9" y="71.4" width="1.15" height="8.49" fill="url(#g3)"/>
<rect x="366.9" y="71.4" width="1.15" height="8.42" fill="url(#g3)"/>
<rect x="367.9" y="71.4" width="1.15" height="8.35" fill="url(#g3)"/>
<rect x="368.9" y="71.4" width="1.15" height="8.28" fill="url(#g3)"/>
<rect x="369.9" y="71.4" width="1.15" height="8.21" fill="url(#g3)"/>
<rect x="370.9" y="71.4" width="1.15" height="8.14" fill="url(#g3)"/>
<rect x="371.9" y="71.4" width="1.15" height="8.07" fill="url(#g3)"/>
<rect x="372.9" y="71.4" width="1.15" height="8" fill="url(#g3)"/>
<rect x="373.9" y="71.4" width="1.15" height="7.93" fill="url(#g3)"/>
<rect x="374.9" y="71.4" width="1.15" height="7.86" fill="url(#g3)"/>
<rect x="375.9" y="71.4" width="1.15" height="7.79" fill="url(#g3)"/>
<rect x="376.9" y="71.4" width="1.15" height="7.72" fill="url(#g3)"/>
<rect x="377.9" y="71.4" width="1.15" height="7.66" fill="url(#g3)"/>
<rect x="378.9" y="71.4" width="1.15" height="7.59" fill="url(#g3)"/>
<rect x="379.9" y="71.4" width="1.15" height="7.52" fill="url(#g3)"/>
<rect x="380.9" y="71.4" width="1.15" height="7.45" fill="url(#g3)"/>
<rect x="381.9" y="71.4" width="1.15" height="7.38" fill="url(#g3)"/>
<rect x="382.9" y="71.4" width="1.15" height="7.31" fill="url(#g3)"/>
<rect x="383.9" y="71.4" width="1.15" height="7.24" fill="url(#g3)"/>
<rect x="384.9" y="71.4" width="1.15" height="7.17" fill="url(#g3)"/>
<rect x="385.9" y="71.4" width="1.15" height="7.1" fill="url(#g3)"/>
<rect x="386.9" y="71.4" width="1.15" height="7.03" fill="url(#g3)"/>
<rect x="387.9" y="71.4" width="1.15" height="6.96" fill="url(#g3)"/>
<rect x="388.9" y="71.4" width="1.15" height="6.89" fill="url(#g3)"/>
<rect x="389.9" y="71.4" width="1.15" height="6.82" fill="url(#g3)"/>
<rect x="390.9" y="71.4" width="1.15" height="6.75" fill="url(#g3)"/>
<rect x="391.9" y="71.4" width="1.15" height="6.68" fill="url(#g3)"/>
<rect x="392.9" y="71.4" width="1.15" height="6.61" fill="url(#g3)"/>
<rect x="393.9" y="71.4" width="1.15" height="6.54" fill="url(#g3)"/>
<rect x="394.9" y="71.4" width="1.15" height="6.47" fill="url(#g3)"/>
<rect x="395.9" y="71.4" width="1.15" height="6.4" fill="url(#g3)"/>
<rect x="396.9" y="71.4" width="1.15" height="6.33" fill="url(#g3)"/>
<rect x="397.9" y="71.4" width="1.15" height="6.26" fill="url(#g3)"/>
<rect x="398.9" y="71.4" width="1.15" height="6.2" fill="url(#g3)"/>
<rect x="399.9" y="71.4" width="1.15" height="6.13" fill="url(#g3)"/>
<rect x="400.9" y="71.4" width="1.15" height="6.06" fill="url(#g3)"/>
<rect x="401.9" y="71.4" width="1.15" height="5.99" fill="url(#g3)"/>
<rect x="402.9" y="71.4" width="1.15" height="5.92" fill="url(#g3)"/>
<rect x="403.9" y="71.4" width="1.15" height="5.85" fill="url(#g3)"/>
<rect x="404.9" y="71.4" width="1.15" height="5.78" fill="url(#g3)"/>
<rect x="405.9" y="71.4" width="1.15" height="5.71" fill="url(#g3)"/>
<rect x="406.9" y="71.4" width="1.15" height="5.64" fill="url(#g3)"/>
<rect x="407.9" y="71.4" width="1.15" height="5.57" fill="url(#g3)"/>
<rect x="408.9" y="71.4" width="1.15" height="5.5" fill="url(#g3)"/>
<rect x="409.9" y="71.4" width="1.15" height="5.43" fill="url(#g3)"/>
<rect x="410.9" y="71.4" width="1.15" height="5.36" fill="url(#g3)"/>
<rect x="411.9" y="71.4" width="1.15" height="5.29" fill="url(#g3)"/>
<rect x="412.9" y="71.4" width="1.15" height="5.22" fill="url(#g3)"/>
<rect x="413.9" y="71.4" width="1.15" height="5.15" fill="url(#g3)"/>
<rect x="414.9" y="71.4" width="1.15" height="5.08" fill="url(#g3)"/>
<rect x="415.9" y="71.4" width="1.15" height="5.01" fill="url(#g3)"/>
<rect x="416.9" y="71.4" width="1.15" height="4.94" fill="url(#g3)"/>
<rect x="417.9" y="71.4" width="1.15" height="4.87" fill="url(#g3)"/>
<rect x="418.9" y="71.4" width="1.15" height="4.8" fill="url(#g3)"/>
<rect x="419.9" y="71.4" width="1.15" height="4.74" fill="url(#g3)"/>
<rect x="420.9" y="71.4" width="1.15" height="4.67" fill="url(#g3)"/>
<rect x="421.9" y="71.4" width="1.15" height="4.6" fill="url(#g3)"/>
<rect x="422.9" y="71.4" width="1.15" height="4.53" fill="url(#g3)"/>
<rect x="423.9" y="71.4" width="1.15" height="4.46" fill="url(#g3)"/>
<rect x="424.9" y="71.4" width="1.15" height="4.39" fill="url(#g3)"/>
<rect x="425.9" y="71.4" width="1.15" height="4.32" fill="url(#g3)"/>
<rect x="426.9" y="71.4" width="1.15" height="4.25" fill="url(#g3)"/>
<rect x="427.9" y="71.4" width="1.15" height="4.18" fill="url(#g3)"/>
<rect x="428.9" y="71.4" width="1.15" height="4.11" fill="url(#g3)"/>
<rect x="429.9" y="71.4" width="1.15" height="4.04" fill="url(#g3)"/>
<rect x="430.9" y="71.4" width="1.15" height="3.97" fill="url(#g3)"/>
<rect x="431.9" y="71.4" width="1.15" height="3.9" fill="url(#g3)"/>
<rect x="432.9" y="71.4" width="1.15" height="3.83" fill="url(#g3)"/>
<rect x="433.9" y="71.4" width="1.15" height="3.76" fill="url(#g3)"/>
<rect x="434.9" y="71.4" width="1.15" height="3.69" fill="url(#g3)"/>
<rect x="435.9" y="71.4" width="1.15" height="3.62" fill="url(#g3)"/>
<rect x="436.9" y="71.4" width="1.15" height="3.55" fill="url(#g3)"/>
<rect x="437.9" y="71.4" width="1.15" height="3.48" fill="url(#g3)"/>
<rect x="438.9" y="71.4" width="1.15" height="3.41" fill="url(#g3)"/>
<rect x="439.9" y="71.4" width="1.15" height="3.34" fill="url(#g3)"/>
<rect x="440.9" y="71.4" width="1.15" height="3.27" fill="url(#g3)"/>
<rect x="441.9" y="71.4" width="1.15" height="3.21" fill="url(#g3)"/>
<rect x="442.9" y="71.4" width="1.15" height="3.14" fill="url(#g3)"/>
<rect x="443.9" y="71.4" width="1.15" height="3.07" fill="url(#g3)"/>
<rect x="444.9" y="71.4" width="1.15" height="3" fill="url(#g3)"/>
<rect x="445.9" y="71.4" width="1.15" height="2.93" fill="url(#g3)"/>
<rect x="446.9" y="71.4" width="1.15" height="2.86" fill="url(#g3)"/>
<rect x="447.9" y="71.4" width="1.15" height="2.79" fill="url(#g3)"/>
<rect x="448.9" y="71.4" width="1.15" height="2.72" fill="url(#g3)"/>
<rect x="449.9" y="71.4" width="1.15" height="2.65" fill="url(#g3)"/>
<rect x="450.9" y="71.4" width="1.15" height="2.58" fill="url(#g3)"/>
<rect x="451.9" y="71.4" width="1.15" height="2.51" fill="url(#g3)"/>
<rect x="452.9" y="71.4" width="1.15" height="2.44" fill="url(#g3)"/>
<rect x="453.9" y="71.4" width="1.15" height="2.37" fill="url(#g3)"/>
<rect x="454.9" y="71.4" width="1.15" height="2.3" fill="url(#g3)"/>
<rect x="455.9" y="71.4" width="1.15" height="2.23" fill="url(#g3)"/>
<rect x="456.9" y="71.4" width="1.15" height="2.16" fill="url(#g3)"/>
<rect x="457.9" y="71.4" width="1.15" height="2.09" fill="url(#g3)"/>
<rect x="458.9" y="71.4" width="1.15" height="2.02" fill="url(#g3)"/>
<rect x="459.9" y="71.4" width="1.15" height="1.95" fill="url(#g3)"/>
<rect x="460.9" y="71.4" width="1.15" height="1.88" fill="url(#g3)"/>
<rect x="461.9" y="71.4" width="1.15" height="1.81" fill="url(#g3)"/>
<rect x="462.9" y="71.4" width="1.15" height="1.75" fill="url(#g3)"/>
<rect x="463.9" y="71.4" width="1.15" height="1.68" fill="url(#g3)"/>
<rect x="464.9" y="71.4" width="1.15" height="1.61" fill="url(#g3)"/>
<rect x="465.9" y="71.4" width="1.15" height="1.54" fill="url(#g3)"/>
<rect x="466.9" y="71.4" width="1.15" height="1.47" fill="url(#g3)"/>
<rect x="467.9" y="71.4" width="1.15" height="1.4" fill="url(#g3)"/>
<rect x="468.9" y="71.4" width="1.15" height="1.33" fill="url(#g3)"/>
<rect x="469.9" y="71.4" width="1.15" height="1.26" fill="url(#g3)"/>
<rect x="470.9" y="71.4" width="1.15" height="1.19" fill="url(#g3)"/>
<rect x="471.9" y="71.4" width="1.15" height="1.12" fill="url(#g3)"/>
<rect x="472.9" y="71.4" width="1.15" height="1.05" fill="url(#g3)"/>
<rect x="473.9" y="71.4" width="1.15" height="0.98" fill="url(#g3)"/>
<rect x="474.9" y="71.4" width="1.15" height="0.91" fill="url(#g3)"/>
<rect x="475.9" y="71.4" width="1.15" height="0.84" fill="url(#g3)"/>
<rect x="476.9" y="71.4" width="1.15" height="0.77" fill="url(#g3)"/>
<rect x="477.9" y="71.4" width="1.15" height="0.7" fill="url(#g3)"/>
<rect x="478.9" y="71.4" width="1.15" height="0.63" fill="url(#g3)"/>
<rect x="479.9" y="71.4" width="1.15" height="0.56" fill="url(#g3)"/>
<rect x="480.9" y="71.4" width="1.15" height="0.49" fill="url(#g3)"/>
<rect x="481.9" y="71.4" width="1.15" height="0.42" fill="url(#g3)"/>
<rect x="482.9" y="71.4" width="1.15" height="0.35" fill="url(#g3)"/>
<rect x="483.9" y="71.4" width="1.15" height="0.29" fill="url(#g3)"/>
<rect x="484.9" y="71.4" width="1.15" height="0.22" fill="url(#g3)"/>
<rect x="485.9" y="71.4" width="1.15" height="0.15" fill="url(#g3)"/>
<rect x="486.9" y="71.4" width="1.15" height="0.08" fill="url(#g3)"/>
<path d="M353.9,80.76 L356.59,80.57 L359.28,80.38 L361.98,80.2 L364.67,80.01 L367.36,79.82 L370.05,79.64 L372.74,79.45 L375.44,79.26 L378.13,79.07 L380.82,78.89 L383.51,78.7 L386.2,78.51 L388.9,78.33 L391.59,78.14 L394.28,77.95 L396.97,77.76 L399.66,77.58 L402.36,77.39 L405.05,77.2 L407.74,77.02 L410.43,76.83 L413.12,76.64 L415.82,76.45 L418.51,76.27 L421.2,76.08 L423.89,75.89 L426.58,75.71 L429.28,75.52 L431.97,75.33 L434.66,75.14 L437.35,74.96 L440.04,74.77 L442.74,74.58 L445.43,74.39 L448.12,74.21 L450.81,74.02 L453.5,73.83 L456.2,73.65 L458.89,73.46 L461.58,73.27 L464.27,73.08 L466.96,72.9 L469.66,72.71 L472.35,72.52 L475.04,72.34 L477.73,72.15 L480.42,71.96 L483.12,71.77 L485.81,71.59 L488.5,71.4" fill="none" stroke="#6a6a6a" stroke-width="0.55" stroke-linejoin="round" stroke-linecap="butt"/>
<path d="M353.9,71.4 L355.72,70.81 L357.53,70.22 L359.35,69.65 L361.17,69.09 L362.98,68.54 L364.8,68 L366.61,67.46 L368.43,66.94 L370.25,66.43 L372.06,65.93 L373.88,65.44 L375.7,64.96 L377.51,64.49 L379.33,64.03 L381.15,63.58 L382.96,63.13 L382.96,71.4 L353.9,71.4 Z" fill="#f87f2c"/>
<path d="M381.76,63.42 L383.29,63.06 L384.82,62.69 L386.35,62.34 L387.88,61.99 L389.41,61.65 L390.94,61.31 L392.47,60.98 L394.01,60.66 L395.54,60.34 L397.07,60.04 L398.6,59.73 L400.13,59.44 L401.66,59.15 L403.19,58.87 L404.72,58.59 L406.25,58.32 L406.25,71.4 L381.76,71.4 Z" fill="#fd9a4e"/>
<path d="M405.05,58.53 L406.51,58.28 L407.97,58.03 L409.44,57.78 L410.9,57.54 L412.36,57.31 L413.83,57.08 L415.29,56.86 L416.75,56.65 L418.22,56.44 L419.68,56.23 L421.14,56.03 L422.6,55.84 L424.07,55.65 L425.53,55.47 L426.99,55.29 L428.46,55.12 L428.46,71.4 L405.05,71.4 Z" fill="#fdb576"/>
<path d="M427.26,55.26 L428.63,55.1 L430,54.95 L431.37,54.8 L432.74,54.65 L434.11,54.51 L435.48,54.37 L436.85,54.24 L438.22,54.11 L439.59,53.99 L440.96,53.87 L442.33,53.76 L443.7,53.65 L445.07,53.54 L446.44,53.44 L447.81,53.34 L449.19,53.25 L449.19,71.4 L427.26,71.4 Z" fill="#fdd1a3"/>
<path d="M447.99,53.33 L449.36,53.24 L450.73,53.15 L452.1,53.06 L453.47,52.98 L454.84,52.91 L456.21,52.83 L457.58,52.76 L458.95,52.7 L460.32,52.64 L461.69,52.58 L463.06,52.53 L464.43,52.48 L465.8,52.43 L467.17,52.39 L468.54,52.35 L469.91,52.31 L469.91,71.4 L447.99,71.4 Z" fill="#fee2c6"/>
<path d="M468.71,52.34 L469.95,52.31 L471.19,52.28 L472.42,52.25 L473.66,52.23 L474.9,52.21 L476.13,52.19 L477.37,52.17 L478.61,52.16 L479.84,52.14 L481.08,52.13 L482.32,52.13 L483.55,52.12 L484.79,52.11 L486.03,52.11 L487.26,52.11 L488.5,52.11 L488.5,71.4 L468.71,71.4 Z" fill="#ffefe0"/>
<path d="M353.9,71.4 L488.5,71.4" fill="none" stroke="#0000ff" stroke-width="1.0" stroke-linejoin="round" stroke-linecap="butt" opacity="0.82"/>
<path d="M353.9,71.4 L355.25,70.96 L356.59,70.52 L357.94,70.09 L359.28,69.67 L360.63,69.25 L361.98,68.84 L363.32,68.43 L364.67,68.03 L366.01,67.64 L367.36,67.25 L368.71,66.86 L370.05,66.49 L371.4,66.11 L372.74,65.75 L374.09,65.38 L375.44,65.03 L376.78,64.68 L378.13,64.33 L379.47,63.99 L380.82,63.66 L382.17,63.33 L383.51,63 L384.86,62.68 L386.2,62.37 L387.55,62.06 L388.9,61.76 L390.24,61.46 L391.59,61.17 L392.93,60.88 L394.28,60.6 L395.63,60.33 L396.97,60.05 L398.32,59.79 L399.66,59.53 L401.01,59.27 L402.36,59.02 L403.7,58.77 L405.05,58.53 L406.39,58.3 L407.74,58.07 L409.09,57.84 L410.43,57.62 L411.78,57.4 L413.12,57.19 L414.47,56.99 L415.82,56.78 L417.16,56.59 L418.51,56.4 L419.85,56.21 L421.2,56.03 L422.55,55.85 L423.89,55.68 L425.24,55.51 L426.58,55.34 L427.93,55.18 L429.28,55.03 L430.62,54.88 L431.97,54.73 L433.31,54.59 L434.66,54.45 L436.01,54.32 L437.35,54.19 L438.7,54.07 L440.04,53.95 L441.39,53.83 L442.74,53.72 L444.08,53.62 L445.43,53.51 L446.77,53.41 L448.12,53.32 L449.47,53.23 L450.81,53.14 L452.16,53.06 L453.5,52.98 L454.85,52.9 L456.2,52.83 L457.54,52.77 L458.89,52.7 L460.23,52.64 L461.58,52.59 L462.93,52.53 L464.27,52.48 L465.62,52.44 L466.96,52.39 L468.31,52.35 L469.66,52.32 L471,52.29 L472.35,52.26 L473.69,52.23 L475.04,52.21 L476.39,52.18 L477.73,52.17 L479.08,52.15 L480.42,52.14 L481.77,52.13 L483.12,52.12 L484.46,52.12 L485.81,52.11 L487.15,52.11 L488.5,52.11" fill="none" stroke="#000" stroke-width="1.0" stroke-linejoin="round" stroke-linecap="butt"/>
</g>
<path d="M353.9,92.4 v2.1 M380.82,92.4 v2.1 M407.74,92.4 v2.1 M434.66,92.4 v2.1 M461.58,92.4 v2.1 M488.5,92.4 v2.1 M353.9,90.5 h-2.1 M353.9,71.4 h-2.1 M353.9,52.3 h-2.1 M353.9,33.2 h-2.1" stroke="#000" stroke-width="0.6" fill="none"/>
<rect x="353.9" y="21.4" width="134.6" height="71" fill="none" stroke="#000" stroke-width="0.45"/>
<text x="353.9" y="100.75" font-size="5.83" text-anchor="middle" textLength="3.5" lengthAdjust="spacingAndGlyphs">0</text>
<text x="380.82" y="100.75" font-size="5.83" text-anchor="middle" textLength="10.5" lengthAdjust="spacingAndGlyphs">200</text>
<text x="407.74" y="100.75" font-size="5.83" text-anchor="middle" textLength="10.5" lengthAdjust="spacingAndGlyphs">400</text>
<text x="434.66" y="100.75" font-size="5.83" text-anchor="middle" textLength="10.5" lengthAdjust="spacingAndGlyphs">600</text>
<text x="461.58" y="100.75" font-size="5.83" text-anchor="middle" textLength="10.5" lengthAdjust="spacingAndGlyphs">800</text>
<text x="488.5" y="100.75" font-size="5.83" text-anchor="middle" textLength="14" lengthAdjust="spacingAndGlyphs">1000</text>
<g clip-path="url(#clip10)">
<path d="M31.5,190.94 L34.18,191.07 L36.86,191.19 L39.53,191.32 L42.21,191.41 L44.89,191.49 L47.57,191.57 L50.25,191.38 L52.92,190.92 L55.6,190.46 L58.28,190 L60.96,189.53 L63.64,189.07 L66.31,188.61 L68.99,188.14 L71.67,187.68 L74.35,187.22 L77.03,186.76 L79.7,186.29 L82.38,185.83 L85.06,185.37 L87.74,184.91 L90.42,184.44 L93.09,183.98 L95.77,183.52 L98.45,183.06 L101.13,182.59 L103.81,182.13 L106.48,181.67 L109.16,181.21 L111.84,180.74 L114.52,180.28 L117.2,179.82 L119.87,179.35 L122.55,178.89 L125.23,178.43 L127.91,177.97 L130.59,177.5 L133.26,177.04 L135.94,176.58 L138.62,176.12 L141.3,175.65 L143.98,175.19 L146.65,174.73 L149.33,174.27 L152.01,173.8 L154.69,173.34 L157.37,172.88 L160.04,172.42 L162.72,171.95 L165.4,171.49 L165.4,192.48 L31.5,192.48 Z" fill="#dcdcdc"/>
<rect x="31.5" y="186.05" width="1.15" height="4.91" fill="url(#g4)"/>
<rect x="32.5" y="186.14" width="1.15" height="4.87" fill="url(#g4)"/>
<rect x="33.5" y="186.23" width="1.15" height="4.83" fill="url(#g4)"/>
<rect x="34.5" y="186.32" width="1.15" height="4.79" fill="url(#g4)"/>
<rect x="35.5" y="186.41" width="1.15" height="4.74" fill="url(#g4)"/>
<rect x="36.5" y="186.5" width="1.15" height="4.71" fill="url(#g4)"/>
<rect x="37.5" y="186.57" width="1.15" height="4.68" fill="url(#g4)"/>
<rect x="38.5" y="186.64" width="1.15" height="4.66" fill="url(#g4)"/>
<rect x="39.5" y="186.71" width="1.15" height="4.62" fill="url(#g4)"/>
<rect x="40.5" y="186.79" width="1.15" height="4.58" fill="url(#g4)"/>
<rect x="41.5" y="186.86" width="1.15" height="4.54" fill="url(#g4)"/>
<rect x="42.5" y="186.93" width="1.15" height="4.5" fill="url(#g4)"/>
<rect x="43.5" y="186.98" width="1.15" height="4.49" fill="url(#g4)"/>
<rect x="44.5" y="186.99" width="1.15" height="4.5" fill="url(#g4)"/>
<rect x="45.5" y="187.01" width="1.15" height="4.52" fill="url(#g4)"/>
<rect x="46.5" y="187.02" width="1.15" height="4.54" fill="url(#g4)"/>
<rect x="47.5" y="187.03" width="1.15" height="4.55" fill="url(#g4)"/>
<rect x="48.5" y="187.05" width="1.15" height="4.55" fill="url(#g4)"/>
<rect x="49.5" y="187.06" width="1.15" height="4.36" fill="url(#g4)"/>
<rect x="50.5" y="186.95" width="1.15" height="4.3" fill="url(#g4)"/>
<rect x="51.5" y="186.8" width="1.15" height="4.28" fill="url(#g4)"/>
<rect x="52.5" y="186.64" width="1.15" height="4.27" fill="url(#g4)"/>
<rect x="53.5" y="186.49" width="1.15" height="4.25" fill="url(#g4)"/>
<rect x="54.5" y="186.33" width="1.15" height="4.23" fill="url(#g4)"/>
<rect x="55.5" y="186.18" width="1.15" height="4.21" fill="url(#g4)"/>
<rect x="56.5" y="186.02" width="1.15" height="4.2" fill="url(#g4)"/>
<rect x="57.5" y="185.87" width="1.15" height="4.18" fill="url(#g4)"/>
<rect x="58.5" y="185.71" width="1.15" height="4.16" fill="url(#g4)"/>
<rect x="59.5" y="185.56" width="1.15" height="4.14" fill="url(#g4)"/>
<rect x="60.5" y="185.4" width="1.15" height="4.12" fill="url(#g4)"/>
<rect x="61.5" y="185.25" width="1.15" height="4.11" fill="url(#g4)"/>
<rect x="62.5" y="185.09" width="1.15" height="4.09" fill="url(#g4)"/>
<rect x="63.5" y="184.94" width="1.15" height="4.07" fill="url(#g4)"/>
<rect x="64.5" y="184.78" width="1.15" height="4.05" fill="url(#g4)"/>
<rect x="65.5" y="184.63" width="1.15" height="4.03" fill="url(#g4)"/>
<rect x="66.5" y="184.47" width="1.15" height="4.02" fill="url(#g4)"/>
<rect x="67.5" y="184.32" width="1.15" height="4" fill="url(#g4)"/>
<rect x="68.5" y="184.16" width="1.15" height="3.98" fill="url(#g4)"/>
<rect x="69.5" y="184.01" width="1.15" height="3.96" fill="url(#g4)"/>
<rect x="70.5" y="183.85" width="1.15" height="3.95" fill="url(#g4)"/>
<rect x="71.5" y="183.7" width="1.15" height="3.93" fill="url(#g4)"/>
<rect x="72.5" y="183.54" width="1.15" height="3.91" fill="url(#g4)"/>
<rect x="73.5" y="183.39" width="1.15" height="3.89" fill="url(#g4)"/>
<rect x="74.5" y="183.23" width="1.15" height="3.87" fill="url(#g4)"/>
<rect x="75.5" y="183.08" width="1.15" height="3.86" fill="url(#g4)"/>
<rect x="76.5" y="182.92" width="1.15" height="3.84" fill="url(#g4)"/>
<rect x="77.5" y="182.77" width="1.15" height="3.82" fill="url(#g4)"/>
<rect x="78.5" y="182.61" width="1.15" height="3.8" fill="url(#g4)"/>
<rect x="79.5" y="182.46" width="1.15" height="3.78" fill="url(#g4)"/>
<rect x="80.5" y="182.3" width="1.15" height="3.77" fill="url(#g4)"/>
<rect x="81.5" y="182.15" width="1.15" height="3.75" fill="url(#g4)"/>
<rect x="82.5" y="181.99" width="1.15" height="3.73" fill="url(#g4)"/>
<rect x="83.5" y="181.84" width="1.15" height="3.71" fill="url(#g4)"/>
<rect x="84.5" y="181.68" width="1.15" height="3.7" fill="url(#g4)"/>
<rect x="85.5" y="181.53" width="1.15" height="3.68" fill="url(#g4)"/>
<rect x="86.5" y="181.37" width="1.15" height="3.66" fill="url(#g4)"/>
<rect x="87.5" y="181.22" width="1.15" height="3.64" fill="url(#g4)"/>
<rect x="88.5" y="181.06" width="1.15" height="3.62" fill="url(#g4)"/>
<rect x="89.5" y="180.91" width="1.15" height="3.61" fill="url(#g4)"/>
<rect x="90.5" y="180.75" width="1.15" height="3.59" fill="url(#g4)"/>
<rect x="91.5" y="180.6" width="1.15" height="3.57" fill="url(#g4)"/>
<rect x="92.5" y="180.44" width="1.15" height="3.55" fill="url(#g4)"/>
<rect x="93.5" y="180.29" width="1.15" height="3.54" fill="url(#g4)"/>
<rect x="94.5" y="180.13" width="1.15" height="3.52" fill="url(#g4)"/>
<rect x="95.5" y="179.98" width="1.15" height="3.5" fill="url(#g4)"/>
<rect x="96.5" y="179.82" width="1.15" height="3.48" fill="url(#g4)"/>
<rect x="97.5" y="179.67" width="1.15" height="3.46" fill="url(#g4)"/>
<rect x="98.5" y="179.51" width="1.15" height="3.45" fill="url(#g4)"/>
<rect x="99.5" y="179.36" width="1.15" height="3.43" fill="url(#g4)"/>
<rect x="100.5" y="179.21" width="1.15" height="3.41" fill="url(#g4)"/>
<rect x="101.5" y="179.05" width="1.15" height="3.39" fill="url(#g4)"/>
<rect x="102.5" y="178.9" width="1.15" height="3.37" fill="url(#g4)"/>
<rect x="103.5" y="178.74" width="1.15" height="3.36" fill="url(#g4)"/>
<rect x="104.5" y="178.59" width="1.15" height="3.34" fill="url(#g4)"/>
<rect x="105.5" y="178.43" width="1.15" height="3.32" fill="url(#g4)"/>
<rect x="106.5" y="178.28" width="1.15" height="3.3" fill="url(#g4)"/>
<rect x="107.5" y="178.12" width="1.15" height="3.29" fill="url(#g4)"/>
<rect x="108.5" y="177.97" width="1.15" height="3.27" fill="url(#g4)"/>
<rect x="109.5" y="177.81" width="1.15" height="3.25" fill="url(#g4)"/>
<rect x="110.5" y="177.66" width="1.15" height="3.23" fill="url(#g4)"/>
<rect x="111.5" y="177.5" width="1.15" height="3.21" fill="url(#g4)"/>
<rect x="112.5" y="177.35" width="1.15" height="3.2" fill="url(#g4)"/>
<rect x="113.5" y="177.19" width="1.15" height="3.18" fill="url(#g4)"/>
<rect x="114.5" y="177.04" width="1.15" height="3.16" fill="url(#g4)"/>
<rect x="115.5" y="176.88" width="1.15" height="3.14" fill="url(#g4)"/>
<rect x="116.5" y="176.73" width="1.15" height="3.12" fill="url(#g4)"/>
<rect x="117.5" y="176.57" width="1.15" height="3.11" fill="url(#g4)"/>
<rect x="118.5" y="176.42" width="1.15" height="3.09" fill="url(#g4)"/>
<rect x="119.5" y="176.26" width="1.15" height="3.07" fill="url(#g4)"/>
<rect x="120.5" y="176.11" width="1.15" height="3.05" fill="url(#g4)"/>
<rect x="121.5" y="175.95" width="1.15" height="3.04" fill="url(#g4)"/>
<rect x="122.5" y="175.8" width="1.15" height="3.02" fill="url(#g4)"/>
<rect x="123.5" y="175.64" width="1.15" height="3" fill="url(#g4)"/>
<rect x="124.5" y="175.49" width="1.15" height="2.98" fill="url(#g4)"/>
<rect x="125.5" y="175.33" width="1.15" height="2.96" fill="url(#g4)"/>
<rect x="126.5" y="175.18" width="1.15" height="2.95" fill="url(#g4)"/>
<rect x="127.5" y="175.02" width="1.15" height="2.93" fill="url(#g4)"/>
<rect x="128.5" y="174.87" width="1.15" height="2.91" fill="url(#g4)"/>
<rect x="129.5" y="174.71" width="1.15" height="2.89" fill="url(#g4)"/>
<rect x="130.5" y="174.56" width="1.15" height="2.87" fill="url(#g4)"/>
<rect x="131.5" y="174.4" width="1.15" height="2.86" fill="url(#g4)"/>
<rect x="132.5" y="174.25" width="1.15" height="2.84" fill="url(#g4)"/>
<rect x="133.5" y="174.09" width="1.15" height="2.82" fill="url(#g4)"/>
<rect x="134.5" y="173.94" width="1.15" height="2.8" fill="url(#g4)"/>
<rect x="135.5" y="173.78" width="1.15" height="2.79" fill="url(#g4)"/>
<rect x="136.5" y="173.63" width="1.15" height="2.77" fill="url(#g4)"/>
<rect x="137.5" y="173.47" width="1.15" height="2.75" fill="url(#g4)"/>
<rect x="138.5" y="173.32" width="1.15" height="2.73" fill="url(#g4)"/>
<rect x="139.5" y="173.16" width="1.15" height="2.71" fill="url(#g4)"/>
<rect x="140.5" y="173.01" width="1.15" height="2.7" fill="url(#g4)"/>
<rect x="141.5" y="172.85" width="1.15" height="2.68" fill="url(#g4)"/>
<rect x="142.5" y="172.7" width="1.15" height="2.66" fill="url(#g4)"/>
<rect x="143.5" y="172.54" width="1.15" height="2.64" fill="url(#g4)"/>
<rect x="144.5" y="172.39" width="1.15" height="2.62" fill="url(#g4)"/>
<rect x="145.5" y="172.23" width="1.15" height="2.61" fill="url(#g4)"/>
<rect x="146.5" y="172.08" width="1.15" height="2.59" fill="url(#g4)"/>
<rect x="147.5" y="171.92" width="1.15" height="2.57" fill="url(#g4)"/>
<rect x="148.5" y="171.77" width="1.15" height="2.55" fill="url(#g4)"/>
<rect x="149.5" y="171.62" width="1.15" height="2.54" fill="url(#g4)"/>
<rect x="150.5" y="171.46" width="1.15" height="2.52" fill="url(#g4)"/>
<rect x="151.5" y="171.31" width="1.15" height="2.5" fill="url(#g4)"/>
<rect x="152.5" y="171.2" width="1.15" height="2.43" fill="url(#g4)"/>
<rect x="153.5" y="171.2" width="1.15" height="2.26" fill="url(#g4)"/>
<rect x="154.5" y="171.2" width="1.15" height="2.09" fill="url(#g4)"/>
<rect x="155.5" y="171.2" width="1.15" height="1.91" fill="url(#g4)"/>
<rect x="156.5" y="171.2" width="1.15" height="1.74" fill="url(#g4)"/>
<rect x="157.5" y="171.2" width="1.15" height="1.57" fill="url(#g4)"/>
<rect x="158.5" y="171.2" width="1.15" height="1.4" fill="url(#g4)"/>
<rect x="159.5" y="171.2" width="1.15" height="1.22" fill="url(#g4)"/>
<rect x="160.5" y="171.2" width="1.15" height="1.05" fill="url(#g4)"/>
<rect x="161.5" y="171.2" width="1.15" height="0.88" fill="url(#g4)"/>
<rect x="162.5" y="171.2" width="1.15" height="0.7" fill="url(#g4)"/>
<rect x="163.5" y="171.2" width="1.15" height="0.53" fill="url(#g4)"/>
<rect x="164.5" y="171.2" width="1.05" height="0.37" fill="url(#g4)"/>
<path d="M31.5,171.2 L31.5,186 L32.84,186.12 L34.18,186.24 L35.52,186.37 L36.86,186.49 L38.2,186.58 L39.53,186.68 L40.87,186.78 L42.21,186.87 L43.55,186.97 L44.89,186.99 L46.23,187.01 L47.57,187.03 L48.91,187.05 L50.25,187.07 L51.59,186.86 L52.92,186.65 L54.26,186.44 L55.6,186.24 L56.94,186.03 L58.28,185.82 L59.62,185.62 L60.96,185.41 L62.3,185.2 L63.64,184.99 L64.97,184.79 L66.31,184.58 L67.65,184.37 L68.99,184.16 L70.33,183.96 L71.67,183.75 L73.01,183.54 L74.35,183.33 L75.69,183.13 L77.03,182.92 L78.37,182.71 L79.7,182.5 L81.04,182.3 L82.38,182.09 L83.72,181.88 L85.06,181.67 L86.4,181.47 L87.74,181.26 L89.08,181.05 L90.42,180.84 L91.75,180.64 L93.09,180.43 L94.43,180.22 L95.77,180.01 L97.11,179.81 L98.45,179.6 L99.79,179.39 L101.13,179.19 L102.47,178.98 L103.81,178.77 L105.15,178.56 L106.48,178.36 L107.82,178.15 L109.16,177.94 L110.5,177.73 L111.84,177.53 L113.18,177.32 L114.52,177.11 L115.86,176.9 L117.2,176.7 L118.54,176.49 L119.87,176.28 L121.21,176.07 L122.55,175.87 L123.89,175.66 L125.23,175.45 L126.57,175.24 L127.91,175.04 L129.25,174.83 L130.59,174.62 L131.93,174.41 L133.26,174.21 L134.6,174 L135.94,173.79 L137.28,173.59 L138.62,173.38 L139.96,173.17 L141.3,172.96 L142.64,172.76 L143.98,172.55 L145.31,172.34 L146.65,172.13 L147.99,171.93 L149.33,171.72 L150.67,171.51 L152.01,171.3 L153.35,171.2 L154.69,171.2 L156.03,171.2 L157.37,171.2 L158.7,171.2 L160.04,171.2 L161.38,171.2 L162.72,171.2 L164.06,171.2 L165.4,171.2 L165.4,171.2 Z" fill="#8e2d04"/>
<path d="M31.5,186 L32.84,186.12 L34.18,186.24 L35.52,186.37 L36.86,186.49 L38.2,186.58 L39.53,186.68 L40.87,186.78 L42.21,186.87 L43.55,186.97 L44.89,186.99 L46.23,187.01 L47.57,187.03 L48.91,187.05 L50.25,187.07 L51.59,186.86 L52.92,186.65 L54.26,186.44 L55.6,186.24 L56.94,186.03 L58.28,185.82 L59.62,185.62 L60.96,185.41 L62.3,185.2 L63.64,184.99 L64.97,184.79 L66.31,184.58 L67.65,184.37 L68.99,184.16 L70.33,183.96 L71.67,183.75 L73.01,183.54 L74.35,183.33 L75.69,183.13 L77.03,182.92 L78.37,182.71 L79.7,182.5 L81.04,182.3 L82.38,182.09 L83.72,181.88 L85.06,181.67 L86.4,181.47 L87.74,181.26 L89.08,181.05 L90.42,180.84 L91.75,180.64 L93.09,180.43 L94.43,180.22 L95.77,180.01 L97.11,179.81 L98.45,179.6 L99.79,179.39 L101.13,179.19 L102.47,178.98 L103.81,178.77 L105.15,178.56 L106.48,178.36 L107.82,178.15 L109.16,177.94 L110.5,177.73 L111.84,177.53 L113.18,177.32 L114.52,177.11 L115.86,176.9 L117.2,176.7 L118.54,176.49 L119.87,176.28 L121.21,176.07 L122.55,175.87 L123.89,175.66 L125.23,175.45 L126.57,175.24 L127.91,175.04 L129.25,174.83 L130.59,174.62 L131.93,174.41 L133.26,174.21 L134.6,174 L135.94,173.79 L137.28,173.59 L138.62,173.38 L139.96,173.17 L141.3,172.96 L142.64,172.76 L143.98,172.55 L145.31,172.34 L146.65,172.13 L147.99,171.93 L149.33,171.72 L150.67,171.51 L152.01,171.3" fill="none" stroke="#1a0600" stroke-width="0.95" stroke-linejoin="round" stroke-linecap="butt" opacity="0.9"/>
<path d="M31.5,190.94 L34.18,191.07 L36.86,191.19 L39.53,191.32 L42.21,191.41 L44.89,191.49 L47.57,191.57 L50.25,191.38 L52.92,190.92 L55.6,190.46 L58.28,190 L60.96,189.53 L63.64,189.07 L66.31,188.61 L68.99,188.14 L71.67,187.68 L74.35,187.22 L77.03,186.76 L79.7,186.29 L82.38,185.83 L85.06,185.37 L87.74,184.91 L90.42,184.44 L93.09,183.98 L95.77,183.52 L98.45,183.06 L101.13,182.59 L103.81,182.13 L106.48,181.67 L109.16,181.21 L111.84,180.74 L114.52,180.28 L117.2,179.82 L119.87,179.35 L122.55,178.89 L125.23,178.43 L127.91,177.97 L130.59,177.5 L133.26,177.04 L135.94,176.58 L138.62,176.12 L141.3,175.65 L143.98,175.19 L146.65,174.73 L149.33,174.27 L152.01,173.8 L154.69,173.34 L157.37,172.88 L160.04,172.42 L162.72,171.95 L165.4,171.49" fill="none" stroke="#6a6a6a" stroke-width="0.55" stroke-linejoin="round" stroke-linecap="butt"/>
<path d="M31.5,171.2 L38.83,171 L46.16,170.8 L53.49,170.6 L60.82,170.4 L68.15,170.21 L75.48,170.01 L82.81,169.81 L90.15,169.61 L97.48,169.41 L104.81,169.21 L112.14,168.99 L119.47,168.73 L126.8,168.47 L134.13,168.21 L141.46,167.97 L148.79,167.77 L148.79,171.2 L31.5,171.2 Z" fill="#8e2d04"/>
<path d="M147.59,167.8 L147.98,167.79 L148.36,167.78 L148.75,167.77 L149.13,167.76 L149.51,167.75 L149.9,167.74 L150.28,167.73 L150.67,167.72 L151.05,167.71 L151.44,167.7 L151.82,167.69 L152.21,167.68 L152.59,167.67 L152.98,167.66 L153.36,167.65 L153.75,167.64 L153.75,171.2 L147.59,171.2 Z" fill="#b03903"/>
<path d="M152.55,167.67 L152.84,167.66 L153.13,167.66 L153.42,167.65 L153.72,167.64 L154.01,167.63 L154.3,167.63 L154.59,167.62 L154.89,167.61 L155.18,167.6 L155.47,167.59 L155.76,167.59 L156.06,167.58 L156.35,167.57 L156.64,167.56 L156.93,167.56 L157.23,167.55 L157.23,171.2 L152.55,171.2 Z" fill="#d94801"/>
<path d="M156.03,167.58 L156.27,167.57 L156.51,167.57 L156.75,167.56 L157,167.55 L157.24,167.55 L157.48,167.54 L157.72,167.53 L157.97,167.53 L158.21,167.52 L158.45,167.51 L158.69,167.51 L158.94,167.5 L159.18,167.5 L159.42,167.49 L159.66,167.48 L159.91,167.48 L159.91,171.2 L156.03,171.2 Z" fill="#ec620f"/>
<path d="M158.7,167.51 L158.91,167.5 L159.11,167.5 L159.31,167.49 L159.51,167.49 L159.71,167.48 L159.91,167.48 L160.11,167.47 L160.31,167.47 L160.51,167.46 L160.71,167.45 L160.91,167.45 L161.11,167.44 L161.31,167.44 L161.51,167.43 L161.71,167.43 L161.91,167.42 L161.91,171.2 L158.7,171.2 Z" fill="#fd9a4e"/>
<path d="M160.71,167.45 L160.9,167.45 L161.08,167.44 L161.26,167.44 L161.45,167.44 L161.63,167.43 L161.82,167.43 L162,167.42 L162.18,167.42 L162.37,167.41 L162.55,167.41 L162.74,167.4 L162.92,167.4 L163.1,167.39 L163.29,167.39 L163.47,167.38 L163.65,167.38 L163.65,171.2 L160.71,171.2 Z" fill="#fdb576"/>
<path d="M162.45,167.41 L162.63,167.4 L162.81,167.4 L162.98,167.39 L163.16,167.39 L163.33,167.39 L163.51,167.38 L163.68,167.38 L163.86,167.37 L164.03,167.37 L164.21,167.36 L164.38,167.36 L164.56,167.35 L164.73,167.35 L164.91,167.34 L165.09,167.34 L165.26,167.33 L165.26,171.2 L162.45,171.2 Z" fill="#fee2c6"/>
<path d="M164.06,167.37 L164.14,167.36 L164.23,167.36 L164.31,167.36 L164.4,167.36 L164.48,167.35 L164.56,167.35 L164.65,167.35 L164.73,167.35 L164.81,167.35 L164.9,167.34 L164.98,167.34 L165.07,167.34 L165.15,167.34 L165.23,167.33 L165.32,167.33 L165.4,167.33 L165.4,171.2 L164.06,171.2 Z" fill="#ffefe0"/>
<path d="M152.55,171.2 L152.55,167.67" fill="none" stroke="#000" stroke-width="0.7" stroke-linejoin="round" stroke-linecap="butt" opacity="1.0"/>
<path d="M31.5,171.2 L165.4,171.2" fill="none" stroke="#0000ff" stroke-width="1.0" stroke-linejoin="round" stroke-linecap="butt" opacity="0.82"/>
<path d="M31.5,171.2 L32.84,171.16 L34.18,171.13 L35.52,171.09 L36.86,171.05 L38.2,171.02 L39.53,170.98 L40.87,170.95 L42.21,170.91 L43.55,170.87 L44.89,170.84 L46.23,170.8 L47.57,170.76 L48.91,170.73 L50.25,170.69 L51.59,170.66 L52.92,170.62 L54.26,170.58 L55.6,170.55 L56.94,170.51 L58.28,170.47 L59.62,170.44 L60.96,170.4 L62.3,170.36 L63.64,170.33 L64.97,170.29 L66.31,170.26 L67.65,170.22 L68.99,170.18 L70.33,170.15 L71.67,170.11 L73.01,170.07 L74.35,170.04 L75.69,170 L77.03,169.97 L78.37,169.93 L79.7,169.89 L81.04,169.86 L82.38,169.82 L83.72,169.78 L85.06,169.75 L86.4,169.71 L87.74,169.67 L89.08,169.64 L90.42,169.6 L91.75,169.57 L93.09,169.53 L94.43,169.49 L95.77,169.46 L97.11,169.42 L98.45,169.38 L99.79,169.35 L101.13,169.31 L102.47,169.27 L103.81,169.24 L105.15,169.2 L106.48,169.17 L107.82,169.13 L109.16,169.09 L110.5,169.05 L111.84,169 L113.18,168.96 L114.52,168.91 L115.86,168.86 L117.2,168.81 L118.54,168.77 L119.87,168.72 L121.21,168.67 L122.55,168.62 L123.89,168.58 L125.23,168.53 L126.57,168.48 L127.91,168.43 L129.25,168.39 L130.59,168.34 L131.93,168.29 L133.26,168.24 L134.6,168.2 L135.94,168.15 L137.28,168.1 L138.62,168.05 L139.96,168.01 L141.3,167.97 L142.64,167.94 L143.98,167.9 L145.31,167.86 L146.65,167.83 L147.99,167.79 L149.33,167.76 L150.67,167.72 L152.01,167.69 L153.35,167.65 L154.69,167.62 L156.03,167.58 L157.37,167.54 L158.7,167.51 L160.04,167.47 L161.38,167.44 L162.72,167.4 L164.06,167.37 L165.4,167.33" fill="none" stroke="#000" stroke-width="1.0" stroke-linejoin="round" stroke-linecap="butt"/>
</g>
<path d="M31.5,192.2 v2.1 M58.28,192.2 v2.1 M85.06,192.2 v2.1 M111.84,192.2 v2.1 M138.62,192.2 v2.1 M165.4,192.2 v2.1 M31.5,190.55 h-2.1 M31.5,171.2 h-2.1 M31.5,151.85 h-2.1 M31.5,132.5 h-2.1" stroke="#000" stroke-width="0.6" fill="none"/>
<rect x="31.5" y="121.2" width="133.9" height="71" fill="none" stroke="#000" stroke-width="0.45"/>
<text x="31.5" y="200.55" font-size="5.83" text-anchor="middle" textLength="3.5" lengthAdjust="spacingAndGlyphs">0</text>
<text x="58.28" y="200.55" font-size="5.83" text-anchor="middle" textLength="10.5" lengthAdjust="spacingAndGlyphs">200</text>
<text x="85.06" y="200.55" font-size="5.83" text-anchor="middle" textLength="10.5" lengthAdjust="spacingAndGlyphs">400</text>
<text x="111.84" y="200.55" font-size="5.83" text-anchor="middle" textLength="10.5" lengthAdjust="spacingAndGlyphs">600</text>
<text x="138.62" y="200.55" font-size="5.83" text-anchor="middle" textLength="10.5" lengthAdjust="spacingAndGlyphs">800</text>
<text x="165.4" y="200.55" font-size="5.83" text-anchor="middle" textLength="14" lengthAdjust="spacingAndGlyphs">1000</text>
<text x="27.65" y="192.45" font-size="5.83" text-anchor="end" textLength="15.11" lengthAdjust="spacingAndGlyphs">−200</text>
<text x="27.65" y="173.1" font-size="5.83" text-anchor="end" textLength="3.5" lengthAdjust="spacingAndGlyphs">0</text>
<text x="27.65" y="153.75" font-size="5.83" text-anchor="end" textLength="10.5" lengthAdjust="spacingAndGlyphs">200</text>
<text x="27.65" y="134.4" font-size="5.83" text-anchor="end" textLength="10.5" lengthAdjust="spacingAndGlyphs">400</text>
<g clip-path="url(#clip11)">
<path d="M192.4,180.97 L195.09,180.78 L197.78,180.58 L200.47,180.39 L203.16,180.19 L205.85,179.99 L208.54,179.8 L211.23,179.6 L213.92,179.41 L216.61,179.21 L219.3,179.02 L221.99,178.82 L224.68,178.63 L227.37,178.43 L230.06,178.24 L232.75,178.04 L235.44,177.84 L238.13,177.65 L240.82,177.45 L243.51,177.26 L246.2,177.06 L248.89,176.87 L251.58,176.67 L254.27,176.48 L256.96,176.28 L259.65,176.09 L262.34,175.89 L265.03,175.7 L267.72,175.5 L270.41,175.3 L273.1,175.11 L275.79,174.91 L278.48,174.72 L281.17,174.52 L283.86,174.33 L286.55,174.13 L289.24,173.94 L291.93,173.74 L294.62,173.55 L297.31,173.35 L300,173.15 L302.69,172.96 L305.38,172.76 L308.07,172.57 L310.76,172.37 L313.45,172.18 L316.14,171.98 L318.83,171.79 L321.52,171.59 L324.21,171.4 L326.9,171.2 L326.9,192.48 L192.4,192.48 Z" fill="#dcdcdc"/>
<rect x="192.4" y="171.2" width="1.15" height="9.74" fill="url(#g1)"/>
<rect x="193.4" y="171.2" width="1.15" height="9.66" fill="url(#g1)"/>
<rect x="194.4" y="171.2" width="1.15" height="9.59" fill="url(#g1)"/>
<rect x="195.4" y="171.2" width="1.15" height="9.52" fill="url(#g1)"/>
<rect x="196.4" y="171.2" width="1.15" height="9.44" fill="url(#g1)"/>
<rect x="197.4" y="171.2" width="1.15" height="9.37" fill="url(#g1)"/>
<rect x="198.4" y="171.2" width="1.15" height="9.3" fill="url(#g1)"/>
<rect x="199.4" y="171.2" width="1.15" height="9.23" fill="url(#g1)"/>
<rect x="200.4" y="171.2" width="1.15" height="9.15" fill="url(#g1)"/>
<rect x="201.4" y="171.2" width="1.15" height="9.08" fill="url(#g1)"/>
<rect x="202.4" y="171.2" width="1.15" height="9.01" fill="url(#g1)"/>
<rect x="203.4" y="171.2" width="1.15" height="8.94" fill="url(#g1)"/>
<rect x="204.4" y="171.2" width="1.15" height="8.86" fill="url(#g1)"/>
<rect x="205.4" y="171.2" width="1.15" height="8.79" fill="url(#g1)"/>
<rect x="206.4" y="171.2" width="1.15" height="8.72" fill="url(#g1)"/>
<rect x="207.4" y="171.2" width="1.15" height="8.65" fill="url(#g1)"/>
<rect x="208.4" y="171.2" width="1.15" height="8.57" fill="url(#g1)"/>
<rect x="209.4" y="171.2" width="1.15" height="8.5" fill="url(#g1)"/>
<rect x="210.4" y="171.2" width="1.15" height="8.43" fill="url(#g1)"/>
<rect x="211.4" y="171.2" width="1.15" height="8.36" fill="url(#g1)"/>
<rect x="212.4" y="171.2" width="1.15" height="8.28" fill="url(#g1)"/>
<rect x="213.4" y="171.2" width="1.15" height="8.21" fill="url(#g1)"/>
<rect x="214.4" y="171.2" width="1.15" height="8.14" fill="url(#g1)"/>
<rect x="215.4" y="171.2" width="1.15" height="8.06" fill="url(#g1)"/>
<rect x="216.4" y="171.2" width="1.15" height="7.99" fill="url(#g1)"/>
<rect x="217.4" y="171.2" width="1.15" height="7.92" fill="url(#g1)"/>
<rect x="218.4" y="171.2" width="1.15" height="7.85" fill="url(#g1)"/>
<rect x="219.4" y="171.2" width="1.15" height="7.77" fill="url(#g1)"/>
<rect x="220.4" y="171.2" width="1.15" height="7.7" fill="url(#g1)"/>
<rect x="221.4" y="171.2" width="1.15" height="7.63" fill="url(#g1)"/>
<rect x="222.4" y="171.2" width="1.15" height="7.56" fill="url(#g1)"/>
<rect x="223.4" y="171.2" width="1.15" height="7.48" fill="url(#g1)"/>
<rect x="224.4" y="171.2" width="1.15" height="7.41" fill="url(#g1)"/>
<rect x="225.4" y="171.2" width="1.15" height="7.34" fill="url(#g1)"/>
<rect x="226.4" y="171.2" width="1.15" height="7.27" fill="url(#g1)"/>
<rect x="227.4" y="171.2" width="1.15" height="7.19" fill="url(#g1)"/>
<rect x="228.4" y="171.2" width="1.15" height="7.12" fill="url(#g1)"/>
<rect x="229.4" y="171.2" width="1.15" height="7.05" fill="url(#g1)"/>
<rect x="230.4" y="171.2" width="1.15" height="6.97" fill="url(#g1)"/>
<rect x="231.4" y="171.2" width="1.15" height="6.9" fill="url(#g1)"/>
<rect x="232.4" y="171.2" width="1.15" height="6.83" fill="url(#g1)"/>
<rect x="233.4" y="171.2" width="1.15" height="6.76" fill="url(#g1)"/>
<rect x="234.4" y="171.2" width="1.15" height="6.68" fill="url(#g1)"/>
<rect x="235.4" y="171.2" width="1.15" height="6.61" fill="url(#g1)"/>
<rect x="236.4" y="171.2" width="1.15" height="6.54" fill="url(#g1)"/>
<rect x="237.4" y="171.2" width="1.15" height="6.47" fill="url(#g1)"/>
<rect x="238.4" y="171.2" width="1.15" height="6.39" fill="url(#g1)"/>
<rect x="239.4" y="171.2" width="1.15" height="6.32" fill="url(#g1)"/>
<rect x="240.4" y="171.2" width="1.15" height="6.25" fill="url(#g1)"/>
<rect x="241.4" y="171.2" width="1.15" height="6.18" fill="url(#g1)"/>
<rect x="242.4" y="171.2" width="1.15" height="6.1" fill="url(#g1)"/>
<rect x="243.4" y="171.2" width="1.15" height="6.03" fill="url(#g1)"/>
<rect x="244.4" y="171.2" width="1.15" height="5.96" fill="url(#g1)"/>
<rect x="245.4" y="171.2" width="1.15" height="5.88" fill="url(#g1)"/>
<rect x="246.4" y="171.2" width="1.15" height="5.81" fill="url(#g1)"/>
<rect x="247.4" y="171.2" width="1.15" height="5.74" fill="url(#g1)"/>
<rect x="248.4" y="171.2" width="1.15" height="5.67" fill="url(#g1)"/>
<rect x="249.4" y="171.2" width="1.15" height="5.59" fill="url(#g1)"/>
<rect x="250.4" y="171.2" width="1.15" height="5.52" fill="url(#g1)"/>
<rect x="251.4" y="171.2" width="1.15" height="5.45" fill="url(#g1)"/>
<rect x="252.4" y="171.2" width="1.15" height="5.38" fill="url(#g1)"/>
<rect x="253.4" y="171.2" width="1.15" height="5.3" fill="url(#g1)"/>
<rect x="254.4" y="171.2" width="1.15" height="5.23" fill="url(#g1)"/>
<rect x="255.4" y="171.2" width="1.15" height="5.16" fill="url(#g1)"/>
<rect x="256.4" y="171.2" width="1.15" height="5.09" fill="url(#g1)"/>
<rect x="257.4" y="171.2" width="1.15" height="5.01" fill="url(#g1)"/>
<rect x="258.4" y="171.2" width="1.15" height="4.94" fill="url(#g1)"/>
<rect x="259.4" y="171.2" width="1.15" height="4.87" fill="url(#g1)"/>
<rect x="260.4" y="171.2" width="1.15" height="4.8" fill="url(#g1)"/>
<rect x="261.4" y="171.2" width="1.15" height="4.72" fill="url(#g1)"/>
<rect x="262.4" y="171.2" width="1.15" height="4.65" fill="url(#g1)"/>
<rect x="263.4" y="171.2" width="1.15" height="4.58" fill="url(#g1)"/>
<rect x="264.4" y="171.2" width="1.15" height="4.5" fill="url(#g1)"/>
<rect x="265.4" y="171.2" width="1.15" height="4.43" fill="url(#g1)"/>
<rect x="266.4" y="171.2" width="1.15" height="4.36" fill="url(#g1)"/>
<rect x="267.4" y="171.2" width="1.15" height="4.29" fill="url(#g1)"/>
<rect x="268.4" y="171.2" width="1.15" height="4.21" fill="url(#g1)"/>
<rect x="269.4" y="171.2" width="1.15" height="4.14" fill="url(#g1)"/>
<rect x="270.4" y="171.2" width="1.15" height="4.07" fill="url(#g1)"/>
<rect x="271.4" y="171.2" width="1.15" height="4" fill="url(#g1)"/>
<rect x="272.4" y="171.2" width="1.15" height="3.92" fill="url(#g1)"/>
<rect x="273.4" y="171.2" width="1.15" height="3.85" fill="url(#g1)"/>
<rect x="274.4" y="171.2" width="1.15" height="3.78" fill="url(#g1)"/>
<rect x="275.4" y="171.2" width="1.15" height="3.71" fill="url(#g1)"/>
<rect x="276.4" y="171.2" width="1.15" height="3.63" fill="url(#g1)"/>
<rect x="277.4" y="171.2" width="1.15" height="3.56" fill="url(#g1)"/>
<rect x="278.4" y="171.2" width="1.15" height="3.49" fill="url(#g1)"/>
<rect x="279.4" y="171.2" width="1.15" height="3.41" fill="url(#g1)"/>
<rect x="280.4" y="171.2" width="1.15" height="3.34" fill="url(#g1)"/>
<rect x="281.4" y="171.2" width="1.15" height="3.27" fill="url(#g1)"/>
<rect x="282.4" y="171.2" width="1.15" height="3.2" fill="url(#g1)"/>
<rect x="283.4" y="171.2" width="1.15" height="3.12" fill="url(#g1)"/>
<rect x="284.4" y="171.2" width="1.15" height="3.05" fill="url(#g1)"/>
<rect x="285.4" y="171.2" width="1.15" height="2.98" fill="url(#g1)"/>
<rect x="286.4" y="171.2" width="1.15" height="2.91" fill="url(#g1)"/>
<rect x="287.4" y="171.2" width="1.15" height="2.83" fill="url(#g1)"/>
<rect x="288.4" y="171.2" width="1.15" height="2.76" fill="url(#g1)"/>
<rect x="289.4" y="171.2" width="1.15" height="2.69" fill="url(#g1)"/>
<rect x="290.4" y="171.2" width="1.15" height="2.62" fill="url(#g1)"/>
<rect x="291.4" y="171.2" width="1.15" height="2.54" fill="url(#g1)"/>
<rect x="292.4" y="171.2" width="1.15" height="2.47" fill="url(#g1)"/>
<rect x="293.4" y="171.2" width="1.15" height="2.4" fill="url(#g1)"/>
<rect x="294.4" y="171.2" width="1.15" height="2.32" fill="url(#g1)"/>
<rect x="295.4" y="171.2" width="1.15" height="2.25" fill="url(#g1)"/>
<rect x="296.4" y="171.2" width="1.15" height="2.18" fill="url(#g1)"/>
<rect x="297.4" y="171.2" width="1.15" height="2.11" fill="url(#g1)"/>
<rect x="298.4" y="171.2" width="1.15" height="2.03" fill="url(#g1)"/>
<rect x="299.4" y="171.2" width="1.15" height="1.96" fill="url(#g1)"/>
<rect x="300.4" y="171.2" width="1.15" height="1.89" fill="url(#g1)"/>
<rect x="301.4" y="171.2" width="1.15" height="1.82" fill="url(#g1)"/>
<rect x="302.4" y="171.2" width="1.15" height="1.74" fill="url(#g1)"/>
<rect x="303.4" y="171.2" width="1.15" height="1.67" fill="url(#g1)"/>
<rect x="304.4" y="171.2" width="1.15" height="1.6" fill="url(#g1)"/>
<rect x="305.4" y="171.2" width="1.15" height="1.53" fill="url(#g1)"/>
<rect x="306.4" y="171.2" width="1.15" height="1.45" fill="url(#g1)"/>
<rect x="307.4" y="171.2" width="1.15" height="1.38" fill="url(#g1)"/>
<rect x="308.4" y="171.2" width="1.15" height="1.31" fill="url(#g1)"/>
<rect x="309.4" y="171.2" width="1.15" height="1.24" fill="url(#g1)"/>
<rect x="310.4" y="171.2" width="1.15" height="1.16" fill="url(#g1)"/>
<rect x="311.4" y="171.2" width="1.15" height="1.09" fill="url(#g1)"/>
<rect x="312.4" y="171.2" width="1.15" height="1.02" fill="url(#g1)"/>
<rect x="313.4" y="171.2" width="1.15" height="0.94" fill="url(#g1)"/>
<rect x="314.4" y="171.2" width="1.15" height="0.87" fill="url(#g1)"/>
<rect x="315.4" y="171.2" width="1.15" height="0.8" fill="url(#g1)"/>
<rect x="316.4" y="171.2" width="1.15" height="0.73" fill="url(#g1)"/>
<rect x="317.4" y="171.2" width="1.15" height="0.65" fill="url(#g1)"/>
<rect x="318.4" y="171.2" width="1.15" height="0.58" fill="url(#g1)"/>
<rect x="319.4" y="171.2" width="1.15" height="0.51" fill="url(#g1)"/>
<rect x="320.4" y="171.2" width="1.15" height="0.44" fill="url(#g1)"/>
<rect x="321.4" y="171.2" width="1.15" height="0.36" fill="url(#g1)"/>
<rect x="322.4" y="171.2" width="1.15" height="0.29" fill="url(#g1)"/>
<rect x="323.4" y="171.2" width="1.15" height="0.22" fill="url(#g1)"/>
<rect x="324.4" y="171.2" width="1.15" height="0.15" fill="url(#g1)"/>
<rect x="325.4" y="171.2" width="1.15" height="0.07" fill="url(#g1)"/>
<path d="M192.4,180.97 L195.09,180.78 L197.78,180.58 L200.47,180.39 L203.16,180.19 L205.85,179.99 L208.54,179.8 L211.23,179.6 L213.92,179.41 L216.61,179.21 L219.3,179.02 L221.99,178.82 L224.68,178.63 L227.37,178.43 L230.06,178.24 L232.75,178.04 L235.44,177.84 L238.13,177.65 L240.82,177.45 L243.51,177.26 L246.2,177.06 L248.89,176.87 L251.58,176.67 L254.27,176.48 L256.96,176.28 L259.65,176.09 L262.34,175.89 L265.03,175.7 L267.72,175.5 L270.41,175.3 L273.1,175.11 L275.79,174.91 L278.48,174.72 L281.17,174.52 L283.86,174.33 L286.55,174.13 L289.24,173.94 L291.93,173.74 L294.62,173.55 L297.31,173.35 L300,173.15 L302.69,172.96 L305.38,172.76 L308.07,172.57 L310.76,172.37 L313.45,172.18 L316.14,171.98 L318.83,171.79 L321.52,171.59 L324.21,171.4 L326.9,171.2" fill="none" stroke="#6a6a6a" stroke-width="0.55" stroke-linejoin="round" stroke-linecap="butt"/>
<path d="M192.4,171.2 L193.33,170.84 L194.26,170.47 L195.2,170.08 L196.13,169.68 L197.06,169.26 L197.99,168.82 L198.93,168.38 L199.86,167.93 L200.79,167.49 L201.72,167.04 L202.66,166.6 L203.59,166.18 L204.52,165.76 L205.45,165.36 L206.39,164.99 L207.32,164.62 L207.32,171.2 L192.4,171.2 Z" fill="#b03903"/>
<path d="M206.12,165.09 L207.61,164.5 L209.09,163.94 L210.58,163.38 L212.07,162.85 L213.56,162.33 L215.04,161.82 L216.53,161.33 L218.02,160.84 L219.5,160.36 L220.99,159.89 L222.48,159.43 L223.97,158.99 L225.45,158.55 L226.94,158.13 L228.43,157.73 L229.91,157.34 L229.91,171.2 L206.12,171.2 Z" fill="#d94801"/>
<path d="M228.72,157.66 L230,157.32 L231.29,156.99 L232.57,156.67 L233.86,156.36 L235.14,156.06 L236.43,155.76 L237.71,155.47 L239,155.19 L240.28,154.92 L241.57,154.65 L242.86,154.39 L244.14,154.14 L245.43,153.9 L246.71,153.66 L248,153.42 L249.28,153.2 L249.28,171.2 L228.72,171.2 Z" fill="#ec620f"/>
<path d="M248.08,153.41 L249.05,153.24 L250.02,153.08 L250.98,152.92 L251.95,152.77 L252.91,152.63 L253.88,152.49 L254.85,152.36 L255.81,152.23 L256.78,152.11 L257.74,151.99 L258.71,151.87 L259.68,151.76 L260.64,151.65 L261.61,151.54 L262.57,151.43 L263.54,151.32 L263.54,171.2 L248.08,171.2 Z" fill="#f87f2c"/>
<path d="M262.34,151.46 L263.34,151.34 L264.34,151.23 L265.34,151.13 L266.34,151.02 L267.34,150.91 L268.34,150.81 L269.34,150.7 L270.34,150.6 L271.34,150.5 L272.34,150.41 L273.34,150.31 L274.34,150.22 L275.34,150.13 L276.34,150.05 L277.34,149.96 L278.33,149.88 L278.33,171.2 L262.34,171.2 Z" fill="#fd9a4e"/>
<path d="M277.13,149.98 L278.04,149.9 L278.95,149.83 L279.86,149.76 L280.76,149.69 L281.67,149.62 L282.58,149.55 L283.49,149.48 L284.39,149.42 L285.3,149.35 L286.21,149.29 L287.11,149.23 L288.02,149.17 L288.93,149.11 L289.84,149.06 L290.74,149 L291.65,148.95 L291.65,171.2 L277.13,171.2 Z" fill="#fdb576"/>
<path d="M290.45,149.02 L291.3,148.97 L292.15,148.92 L293,148.87 L293.84,148.82 L294.69,148.77 L295.54,148.72 L296.39,148.68 L297.24,148.63 L298.09,148.59 L298.93,148.55 L299.78,148.51 L300.63,148.47 L301.48,148.43 L302.33,148.39 L303.18,148.36 L304.02,148.32 L304.02,171.2 L290.45,171.2 Z" fill="#fdd1a3"/>
<path d="M302.82,148.37 L303.67,148.34 L304.52,148.31 L305.37,148.27 L306.22,148.24 L307.07,148.21 L307.91,148.18 L308.76,148.15 L309.61,148.12 L310.46,148.1 L311.31,148.07 L312.16,148.05 L313,148.03 L313.85,148 L314.7,147.98 L315.55,147.97 L316.4,147.95 L316.4,171.2 L302.82,171.2 Z" fill="#fee2c6"/>
<path d="M315.2,147.97 L315.93,147.96 L316.66,147.94 L317.39,147.93 L318.12,147.91 L318.86,147.9 L319.59,147.89 L320.32,147.87 L321.05,147.86 L321.78,147.85 L322.51,147.84 L323.24,147.83 L323.97,147.82 L324.71,147.81 L325.44,147.8 L326.17,147.79 L326.9,147.79 L326.9,171.2 L315.2,171.2 Z" fill="#ffefe0"/>
<path d="M206.12,171.2 L206.12,165.09" fill="none" stroke="#000" stroke-width="0.7" stroke-linejoin="round" stroke-linecap="butt" opacity="1.0"/>
<path d="M192.4,171.2 L326.9,171.2" fill="none" stroke="#0000ff" stroke-width="1.0" stroke-linejoin="round" stroke-linecap="butt" opacity="0.82"/>
<path d="M192.4,171.2 L193.75,170.68 L195.09,170.13 L196.44,169.54 L197.78,168.92 L199.12,168.29 L200.47,167.64 L201.81,167 L203.16,166.37 L204.5,165.77 L205.85,165.2 L207.19,164.67 L208.54,164.15 L209.88,163.64 L211.23,163.15 L212.57,162.67 L213.92,162.21 L215.27,161.75 L216.61,161.3 L217.96,160.86 L219.3,160.43 L220.65,160 L221.99,159.58 L223.34,159.17 L224.68,158.78 L226.03,158.39 L227.37,158.02 L228.72,157.66 L230.06,157.3 L231.41,156.96 L232.75,156.63 L234.09,156.3 L235.44,155.99 L236.78,155.68 L238.13,155.38 L239.47,155.09 L240.82,154.81 L242.16,154.53 L243.51,154.27 L244.85,154 L246.2,153.75 L247.54,153.5 L248.89,153.27 L250.23,153.04 L251.58,152.83 L252.93,152.62 L254.27,152.43 L255.61,152.25 L256.96,152.08 L258.31,151.92 L259.65,151.76 L261,151.61 L262.34,151.46 L263.69,151.31 L265.03,151.16 L266.38,151.01 L267.72,150.87 L269.06,150.73 L270.41,150.6 L271.75,150.46 L273.1,150.34 L274.44,150.21 L275.79,150.09 L277.13,149.98 L278.48,149.87 L279.82,149.76 L281.17,149.66 L282.51,149.55 L283.86,149.46 L285.2,149.36 L286.55,149.27 L287.89,149.18 L289.24,149.09 L290.58,149.01 L291.93,148.93 L293.27,148.85 L294.62,148.78 L295.96,148.7 L297.31,148.63 L298.65,148.56 L300,148.5 L301.34,148.43 L302.69,148.38 L304.03,148.32 L305.38,148.27 L306.72,148.22 L308.07,148.18 L309.41,148.13 L310.76,148.09 L312.1,148.05 L313.45,148.01 L314.79,147.98 L316.14,147.95 L317.49,147.93 L318.83,147.9 L320.17,147.88 L321.52,147.85 L322.87,147.83 L324.21,147.81 L325.55,147.8 L326.9,147.79" fill="none" stroke="#000" stroke-width="1.0" stroke-linejoin="round" stroke-linecap="butt"/>
</g>
<path d="M192.4,192.2 v2.1 M219.3,192.2 v2.1 M246.2,192.2 v2.1 M273.1,192.2 v2.1 M300,192.2 v2.1 M326.9,192.2 v2.1 M192.4,190.55 h-2.1 M192.4,171.2 h-2.1 M192.4,151.85 h-2.1 M192.4,132.5 h-2.1" stroke="#000" stroke-width="0.6" fill="none"/>
<rect x="192.4" y="121.2" width="134.5" height="71" fill="none" stroke="#000" stroke-width="0.45"/>
<text x="192.4" y="200.55" font-size="5.83" text-anchor="middle" textLength="3.5" lengthAdjust="spacingAndGlyphs">0</text>
<text x="219.3" y="200.55" font-size="5.83" text-anchor="middle" textLength="10.5" lengthAdjust="spacingAndGlyphs">200</text>
<text x="246.2" y="200.55" font-size="5.83" text-anchor="middle" textLength="10.5" lengthAdjust="spacingAndGlyphs">400</text>
<text x="273.1" y="200.55" font-size="5.83" text-anchor="middle" textLength="10.5" lengthAdjust="spacingAndGlyphs">600</text>
<text x="300" y="200.55" font-size="5.83" text-anchor="middle" textLength="10.5" lengthAdjust="spacingAndGlyphs">800</text>
<text x="326.9" y="200.55" font-size="5.83" text-anchor="middle" textLength="14" lengthAdjust="spacingAndGlyphs">1000</text>
<g clip-path="url(#clip12)">
<path d="M353.9,174.1 L356.59,174.04 L359.28,173.99 L361.98,173.93 L364.67,173.87 L367.36,173.81 L370.05,173.75 L372.74,173.7 L375.44,173.64 L378.13,173.58 L380.82,173.52 L383.51,173.46 L386.2,173.41 L388.9,173.35 L391.59,173.29 L394.28,173.23 L396.97,173.17 L399.66,173.12 L402.36,173.06 L405.05,173 L407.74,172.94 L410.43,172.88 L413.12,172.83 L415.82,172.77 L418.51,172.71 L421.2,172.65 L423.89,172.59 L426.58,172.54 L429.28,172.48 L431.97,172.42 L434.66,172.36 L437.35,172.3 L440.04,172.24 L442.74,172.19 L445.43,172.13 L448.12,172.07 L450.81,172.01 L453.5,171.95 L456.2,171.9 L458.89,171.84 L461.58,171.78 L464.27,171.72 L466.96,171.66 L469.66,171.61 L472.35,171.55 L475.04,171.49 L477.73,171.43 L480.42,171.37 L483.12,171.32 L485.81,171.26 L488.5,171.2 L488.5,192.48 L353.9,192.48 Z" fill="#dcdcdc"/>
<rect x="353.9" y="171.2" width="1.15" height="2.89" fill="url(#g5)"/>
<rect x="354.9" y="171.2" width="1.15" height="2.87" fill="url(#g5)"/>
<rect x="355.9" y="171.2" width="1.15" height="2.85" fill="url(#g5)"/>
<rect x="356.9" y="171.2" width="1.15" height="2.83" fill="url(#g5)"/>
<rect x="357.9" y="171.2" width="1.15" height="2.81" fill="url(#g5)"/>
<rect x="358.9" y="171.2" width="1.15" height="2.78" fill="url(#g5)"/>
<rect x="359.9" y="171.2" width="1.15" height="2.76" fill="url(#g5)"/>
<rect x="360.9" y="171.2" width="1.15" height="2.74" fill="url(#g5)"/>
<rect x="361.9" y="171.2" width="1.15" height="2.72" fill="url(#g5)"/>
<rect x="362.9" y="171.2" width="1.15" height="2.7" fill="url(#g5)"/>
<rect x="363.9" y="171.2" width="1.15" height="2.68" fill="url(#g5)"/>
<rect x="364.9" y="171.2" width="1.15" height="2.65" fill="url(#g5)"/>
<rect x="365.9" y="171.2" width="1.15" height="2.63" fill="url(#g5)"/>
<rect x="366.9" y="171.2" width="1.15" height="2.61" fill="url(#g5)"/>
<rect x="367.9" y="171.2" width="1.15" height="2.59" fill="url(#g5)"/>
<rect x="368.9" y="171.2" width="1.15" height="2.57" fill="url(#g5)"/>
<rect x="369.9" y="171.2" width="1.15" height="2.55" fill="url(#g5)"/>
<rect x="370.9" y="171.2" width="1.15" height="2.53" fill="url(#g5)"/>
<rect x="371.9" y="171.2" width="1.15" height="2.5" fill="url(#g5)"/>
<rect x="372.9" y="171.2" width="1.15" height="2.48" fill="url(#g5)"/>
<rect x="373.9" y="171.2" width="1.15" height="2.46" fill="url(#g5)"/>
<rect x="374.9" y="171.2" width="1.15" height="2.44" fill="url(#g5)"/>
<rect x="375.9" y="171.2" width="1.15" height="2.42" fill="url(#g5)"/>
<rect x="376.9" y="171.2" width="1.15" height="2.4" fill="url(#g5)"/>
<rect x="377.9" y="171.2" width="1.15" height="2.37" fill="url(#g5)"/>
<rect x="378.9" y="171.2" width="1.15" height="2.35" fill="url(#g5)"/>
<rect x="379.9" y="171.2" width="1.15" height="2.33" fill="url(#g5)"/>
<rect x="380.9" y="171.2" width="1.15" height="2.31" fill="url(#g5)"/>
<rect x="381.9" y="171.2" width="1.15" height="2.29" fill="url(#g5)"/>
<rect x="382.9" y="171.2" width="1.15" height="2.27" fill="url(#g5)"/>
<rect x="383.9" y="171.2" width="1.15" height="2.24" fill="url(#g5)"/>
<rect x="384.9" y="171.2" width="1.15" height="2.22" fill="url(#g5)"/>
<rect x="385.9" y="171.2" width="1.15" height="2.2" fill="url(#g5)"/>
<rect x="386.9" y="171.2" width="1.15" height="2.18" fill="url(#g5)"/>
<rect x="387.9" y="171.2" width="1.15" height="2.16" fill="url(#g5)"/>
<rect x="388.9" y="171.2" width="1.15" height="2.14" fill="url(#g5)"/>
<rect x="389.9" y="171.2" width="1.15" height="2.12" fill="url(#g5)"/>
<rect x="390.9" y="171.2" width="1.15" height="2.09" fill="url(#g5)"/>
<rect x="391.9" y="171.2" width="1.15" height="2.07" fill="url(#g5)"/>
<rect x="392.9" y="171.2" width="1.15" height="2.05" fill="url(#g5)"/>
<rect x="393.9" y="171.2" width="1.15" height="2.03" fill="url(#g5)"/>
<rect x="394.9" y="171.2" width="1.15" height="2.01" fill="url(#g5)"/>
<rect x="395.9" y="171.2" width="1.15" height="1.99" fill="url(#g5)"/>
<rect x="396.9" y="171.2" width="1.15" height="1.96" fill="url(#g5)"/>
<rect x="397.9" y="171.2" width="1.15" height="1.94" fill="url(#g5)"/>
<rect x="398.9" y="171.2" width="1.15" height="1.92" fill="url(#g5)"/>
<rect x="399.9" y="171.2" width="1.15" height="1.9" fill="url(#g5)"/>
<rect x="400.9" y="171.2" width="1.15" height="1.88" fill="url(#g5)"/>
<rect x="401.9" y="171.2" width="1.15" height="1.86" fill="url(#g5)"/>
<rect x="402.9" y="171.2" width="1.15" height="1.84" fill="url(#g5)"/>
<rect x="403.9" y="171.2" width="1.15" height="1.81" fill="url(#g5)"/>
<rect x="404.9" y="171.2" width="1.15" height="1.79" fill="url(#g5)"/>
<rect x="405.9" y="171.2" width="1.15" height="1.77" fill="url(#g5)"/>
<rect x="406.9" y="171.2" width="1.15" height="1.75" fill="url(#g5)"/>
<rect x="407.9" y="171.2" width="1.15" height="1.73" fill="url(#g5)"/>
<rect x="408.9" y="171.2" width="1.15" height="1.71" fill="url(#g5)"/>
<rect x="409.9" y="171.2" width="1.15" height="1.68" fill="url(#g5)"/>
<rect x="410.9" y="171.2" width="1.15" height="1.66" fill="url(#g5)"/>
<rect x="411.9" y="171.2" width="1.15" height="1.64" fill="url(#g5)"/>
<rect x="412.9" y="171.2" width="1.15" height="1.62" fill="url(#g5)"/>
<rect x="413.9" y="171.2" width="1.15" height="1.6" fill="url(#g5)"/>
<rect x="414.9" y="171.2" width="1.15" height="1.58" fill="url(#g5)"/>
<rect x="415.9" y="171.2" width="1.15" height="1.55" fill="url(#g5)"/>
<rect x="416.9" y="171.2" width="1.15" height="1.53" fill="url(#g5)"/>
<rect x="417.9" y="171.2" width="1.15" height="1.51" fill="url(#g5)"/>
<rect x="418.9" y="171.2" width="1.15" height="1.49" fill="url(#g5)"/>
<rect x="419.9" y="171.2" width="1.15" height="1.47" fill="url(#g5)"/>
<rect x="420.9" y="171.2" width="1.15" height="1.45" fill="url(#g5)"/>
<rect x="421.9" y="171.2" width="1.15" height="1.43" fill="url(#g5)"/>
<rect x="422.9" y="171.2" width="1.15" height="1.4" fill="url(#g5)"/>
<rect x="423.9" y="171.2" width="1.15" height="1.38" fill="url(#g5)"/>
<rect x="424.9" y="171.2" width="1.15" height="1.36" fill="url(#g5)"/>
<rect x="425.9" y="171.2" width="1.15" height="1.34" fill="url(#g5)"/>
<rect x="426.9" y="171.2" width="1.15" height="1.32" fill="url(#g5)"/>
<rect x="427.9" y="171.2" width="1.15" height="1.3" fill="url(#g5)"/>
<rect x="428.9" y="171.2" width="1.15" height="1.27" fill="url(#g5)"/>
<rect x="429.9" y="171.2" width="1.15" height="1.25" fill="url(#g5)"/>
<rect x="430.9" y="171.2" width="1.15" height="1.23" fill="url(#g5)"/>
<rect x="431.9" y="171.2" width="1.15" height="1.21" fill="url(#g5)"/>
<rect x="432.9" y="171.2" width="1.15" height="1.19" fill="url(#g5)"/>
<rect x="433.9" y="171.2" width="1.15" height="1.17" fill="url(#g5)"/>
<rect x="434.9" y="171.2" width="1.15" height="1.15" fill="url(#g5)"/>
<rect x="435.9" y="171.2" width="1.15" height="1.12" fill="url(#g5)"/>
<rect x="436.9" y="171.2" width="1.15" height="1.1" fill="url(#g5)"/>
<rect x="437.9" y="171.2" width="1.15" height="1.08" fill="url(#g5)"/>
<rect x="438.9" y="171.2" width="1.15" height="1.06" fill="url(#g5)"/>
<rect x="439.9" y="171.2" width="1.15" height="1.04" fill="url(#g5)"/>
<rect x="440.9" y="171.2" width="1.15" height="1.02" fill="url(#g5)"/>
<rect x="441.9" y="171.2" width="1.15" height="0.99" fill="url(#g5)"/>
<rect x="442.9" y="171.2" width="1.15" height="0.97" fill="url(#g5)"/>
<rect x="443.9" y="171.2" width="1.15" height="0.95" fill="url(#g5)"/>
<rect x="444.9" y="171.2" width="1.15" height="0.93" fill="url(#g5)"/>
<rect x="445.9" y="171.2" width="1.15" height="0.91" fill="url(#g5)"/>
<rect x="446.9" y="171.2" width="1.15" height="0.89" fill="url(#g5)"/>
<rect x="447.9" y="171.2" width="1.15" height="0.86" fill="url(#g5)"/>
<rect x="448.9" y="171.2" width="1.15" height="0.84" fill="url(#g5)"/>
<rect x="449.9" y="171.2" width="1.15" height="0.82" fill="url(#g5)"/>
<rect x="450.9" y="171.2" width="1.15" height="0.8" fill="url(#g5)"/>
<rect x="451.9" y="171.2" width="1.15" height="0.78" fill="url(#g5)"/>
<rect x="452.9" y="171.2" width="1.15" height="0.76" fill="url(#g5)"/>
<rect x="453.9" y="171.2" width="1.15" height="0.74" fill="url(#g5)"/>
<rect x="454.9" y="171.2" width="1.15" height="0.71" fill="url(#g5)"/>
<rect x="455.9" y="171.2" width="1.15" height="0.69" fill="url(#g5)"/>
<rect x="456.9" y="171.2" width="1.15" height="0.67" fill="url(#g5)"/>
<rect x="457.9" y="171.2" width="1.15" height="0.65" fill="url(#g5)"/>
<rect x="458.9" y="171.2" width="1.15" height="0.63" fill="url(#g5)"/>
<rect x="459.9" y="171.2" width="1.15" height="0.61" fill="url(#g5)"/>
<rect x="460.9" y="171.2" width="1.15" height="0.58" fill="url(#g5)"/>
<rect x="461.9" y="171.2" width="1.15" height="0.56" fill="url(#g5)"/>
<rect x="462.9" y="171.2" width="1.15" height="0.54" fill="url(#g5)"/>
<rect x="463.9" y="171.2" width="1.15" height="0.52" fill="url(#g5)"/>
<rect x="464.9" y="171.2" width="1.15" height="0.5" fill="url(#g5)"/>
<rect x="465.9" y="171.2" width="1.15" height="0.48" fill="url(#g5)"/>
<rect x="466.9" y="171.2" width="1.15" height="0.45" fill="url(#g5)"/>
<rect x="467.9" y="171.2" width="1.15" height="0.43" fill="url(#g5)"/>
<rect x="468.9" y="171.2" width="1.15" height="0.41" fill="url(#g5)"/>
<rect x="469.9" y="171.2" width="1.15" height="0.39" fill="url(#g5)"/>
<rect x="470.9" y="171.2" width="1.15" height="0.37" fill="url(#g5)"/>
<rect x="471.9" y="171.2" width="1.15" height="0.35" fill="url(#g5)"/>
<rect x="472.9" y="171.2" width="1.15" height="0.33" fill="url(#g5)"/>
<rect x="473.9" y="171.2" width="1.15" height="0.3" fill="url(#g5)"/>
<rect x="474.9" y="171.2" width="1.15" height="0.28" fill="url(#g5)"/>
<rect x="475.9" y="171.2" width="1.15" height="0.26" fill="url(#g5)"/>
<rect x="476.9" y="171.2" width="1.15" height="0.24" fill="url(#g5)"/>
<rect x="477.9" y="171.2" width="1.15" height="0.22" fill="url(#g5)"/>
<rect x="478.9" y="171.2" width="1.15" height="0.2" fill="url(#g5)"/>
<rect x="479.9" y="171.2" width="1.15" height="0.17" fill="url(#g5)"/>
<rect x="480.9" y="171.2" width="1.15" height="0.15" fill="url(#g5)"/>
<rect x="481.9" y="171.2" width="1.15" height="0.13" fill="url(#g5)"/>
<rect x="482.9" y="171.2" width="1.15" height="0.11" fill="url(#g5)"/>
<rect x="483.9" y="171.2" width="1.15" height="0.09" fill="url(#g5)"/>
<rect x="484.9" y="171.2" width="1.15" height="0.07" fill="url(#g5)"/>
<path d="M353.9,174.1 L356.59,174.04 L359.28,173.99 L361.98,173.93 L364.67,173.87 L367.36,173.81 L370.05,173.75 L372.74,173.7 L375.44,173.64 L378.13,173.58 L380.82,173.52 L383.51,173.46 L386.2,173.41 L388.9,173.35 L391.59,173.29 L394.28,173.23 L396.97,173.17 L399.66,173.12 L402.36,173.06 L405.05,173 L407.74,172.94 L410.43,172.88 L413.12,172.83 L415.82,172.77 L418.51,172.71 L421.2,172.65 L423.89,172.59 L426.58,172.54 L429.28,172.48 L431.97,172.42 L434.66,172.36 L437.35,172.3 L440.04,172.24 L442.74,172.19 L445.43,172.13 L448.12,172.07 L450.81,172.01 L453.5,171.95 L456.2,171.9 L458.89,171.84 L461.58,171.78 L464.27,171.72 L466.96,171.66 L469.66,171.61 L472.35,171.55 L475.04,171.49 L477.73,171.43 L480.42,171.37 L483.12,171.32 L485.81,171.26 L488.5,171.2" fill="none" stroke="#6a6a6a" stroke-width="0.55" stroke-linejoin="round" stroke-linecap="butt"/>
<path d="M353.9,171.2 L356.96,169.31 L360.02,167.46 L363.08,165.65 L366.15,163.9 L369.21,162.19 L372.27,160.52 L375.33,158.9 L378.39,157.32 L381.45,155.79 L384.51,154.31 L387.58,152.87 L390.64,151.47 L393.7,150.12 L396.76,148.82 L399.82,147.56 L402.88,146.35 L402.88,171.2 L353.9,171.2 Z" fill="#fee2c6"/>
<path d="M401.68,146.82 L407.11,144.74 L412.54,142.81 L417.96,141.02 L423.39,139.36 L428.81,137.84 L434.24,136.47 L439.67,135.23 L445.09,134.12 L450.52,133.15 L455.94,132.32 L461.37,131.62 L466.8,131.06 L472.22,130.62 L477.65,130.32 L483.07,130.14 L488.5,130.08 L488.5,171.2 L401.68,171.2 Z" fill="#ffefe0"/>
<path d="M353.9,171.2 L488.5,171.2" fill="none" stroke="#0000ff" stroke-width="1.0" stroke-linejoin="round" stroke-linecap="butt" opacity="0.82"/>
<path d="M353.9,171.2 L355.25,170.36 L356.59,169.53 L357.94,168.71 L359.28,167.9 L360.63,167.1 L361.98,166.3 L363.32,165.52 L364.67,164.74 L366.01,163.97 L367.36,163.21 L368.71,162.46 L370.05,161.72 L371.4,160.99 L372.74,160.26 L374.09,159.55 L375.44,158.84 L376.78,158.15 L378.13,157.46 L379.47,156.78 L380.82,156.11 L382.17,155.44 L383.51,154.79 L384.86,154.14 L386.2,153.51 L387.55,152.88 L388.9,152.26 L390.24,151.65 L391.59,151.05 L392.93,150.46 L394.28,149.87 L395.63,149.3 L396.97,148.73 L398.32,148.17 L399.66,147.62 L401.01,147.08 L402.36,146.55 L403.7,146.03 L405.05,145.51 L406.39,145.01 L407.74,144.51 L409.09,144.02 L410.43,143.54 L411.78,143.07 L413.12,142.61 L414.47,142.15 L415.82,141.71 L417.16,141.27 L418.51,140.84 L419.85,140.42 L421.2,140.01 L422.55,139.61 L423.89,139.21 L425.24,138.83 L426.58,138.45 L427.93,138.08 L429.28,137.72 L430.62,137.37 L431.97,137.03 L433.31,136.69 L434.66,136.37 L436.01,136.05 L437.35,135.74 L438.7,135.44 L440.04,135.14 L441.39,134.86 L442.74,134.58 L444.08,134.32 L445.43,134.06 L446.77,133.81 L448.12,133.57 L449.47,133.33 L450.81,133.11 L452.16,132.89 L453.5,132.68 L454.85,132.48 L456.2,132.29 L457.54,132.1 L458.89,131.93 L460.23,131.76 L461.58,131.6 L462.93,131.45 L464.27,131.3 L465.62,131.17 L466.96,131.04 L468.31,130.92 L469.66,130.81 L471,130.71 L472.35,130.61 L473.69,130.53 L475.04,130.45 L476.39,130.38 L477.73,130.31 L479.08,130.26 L480.42,130.21 L481.77,130.17 L483.12,130.14 L484.46,130.11 L485.81,130.09 L487.15,130.08 L488.5,130.08" fill="none" stroke="#000" stroke-width="1.0" stroke-linejoin="round" stroke-linecap="butt"/>
</g>
<path d="M353.9,192.2 v2.1 M380.82,192.2 v2.1 M407.74,192.2 v2.1 M434.66,192.2 v2.1 M461.58,192.2 v2.1 M488.5,192.2 v2.1 M353.9,190.55 h-2.1 M353.9,171.2 h-2.1 M353.9,151.85 h-2.1 M353.9,132.5 h-2.1" stroke="#000" stroke-width="0.6" fill="none"/>
<rect x="353.9" y="121.2" width="134.6" height="71" fill="none" stroke="#000" stroke-width="0.45"/>
<text x="353.9" y="200.55" font-size="5.83" text-anchor="middle" textLength="3.5" lengthAdjust="spacingAndGlyphs">0</text>
<text x="380.82" y="200.55" font-size="5.83" text-anchor="middle" textLength="10.5" lengthAdjust="spacingAndGlyphs">200</text>
<text x="407.74" y="200.55" font-size="5.83" text-anchor="middle" textLength="10.5" lengthAdjust="spacingAndGlyphs">400</text>
<text x="434.66" y="200.55" font-size="5.83" text-anchor="middle" textLength="10.5" lengthAdjust="spacingAndGlyphs">600</text>
<text x="461.58" y="200.55" font-size="5.83" text-anchor="middle" textLength="10.5" lengthAdjust="spacingAndGlyphs">800</text>
<text x="488.5" y="200.55" font-size="5.83" text-anchor="middle" textLength="14" lengthAdjust="spacingAndGlyphs">1000</text>
<g clip-path="url(#clip20)">
<path d="M31.5,290.17 L34.18,290.33 L36.86,290.49 L39.53,290.65 L42.21,290.76 L44.89,290.86 L47.57,290.97 L50.25,290.81 L52.92,290.36 L55.6,289.91 L58.28,289.47 L60.96,289.02 L63.64,288.58 L66.31,288.13 L68.99,287.69 L71.67,287.24 L74.35,286.79 L77.03,286.35 L79.7,285.9 L82.38,285.46 L85.06,285.01 L87.74,284.57 L90.42,284.12 L93.09,283.67 L95.77,283.23 L98.45,282.78 L101.13,282.34 L103.81,281.89 L106.48,281.45 L109.16,281 L111.84,280.55 L114.52,280.11 L117.2,279.66 L119.87,279.22 L122.55,278.77 L125.23,278.33 L127.91,277.88 L130.59,277.44 L133.26,276.99 L135.94,276.54 L138.62,276.1 L141.3,275.65 L143.98,275.21 L146.65,274.76 L149.33,274.32 L152.01,273.87 L154.69,273.42 L157.37,272.98 L160.04,272.53 L162.72,272.09 L165.4,271.64 L165.4,291.41 L31.5,291.41 Z" fill="#dcdcdc"/>
<rect x="31.5" y="285.37" width="1.15" height="4.83" fill="url(#g4)"/>
<rect x="32.5" y="285.51" width="1.15" height="4.75" fill="url(#g4)"/>
<rect x="33.5" y="285.65" width="1.15" height="4.66" fill="url(#g4)"/>
<rect x="34.5" y="285.8" width="1.15" height="4.58" fill="url(#g4)"/>
<rect x="35.5" y="285.94" width="1.15" height="4.5" fill="url(#g4)"/>
<rect x="36.5" y="286.07" width="1.15" height="4.42" fill="url(#g4)"/>
<rect x="37.5" y="286.16" width="1.15" height="4.39" fill="url(#g4)"/>
<rect x="38.5" y="286.25" width="1.15" height="4.37" fill="url(#g4)"/>
<rect x="39.5" y="286.33" width="1.15" height="4.33" fill="url(#g4)"/>
<rect x="40.5" y="286.42" width="1.15" height="4.29" fill="url(#g4)"/>
<rect x="41.5" y="286.5" width="1.15" height="4.24" fill="url(#g4)"/>
<rect x="42.5" y="286.59" width="1.15" height="4.2" fill="url(#g4)"/>
<rect x="43.5" y="286.65" width="1.15" height="4.18" fill="url(#g4)"/>
<rect x="44.5" y="286.68" width="1.15" height="4.19" fill="url(#g4)"/>
<rect x="45.5" y="286.7" width="1.15" height="4.2" fill="url(#g4)"/>
<rect x="46.5" y="286.73" width="1.15" height="4.22" fill="url(#g4)"/>
<rect x="47.5" y="286.76" width="1.15" height="4.23" fill="url(#g4)"/>
<rect x="48.5" y="286.79" width="1.15" height="4.22" fill="url(#g4)"/>
<rect x="49.5" y="286.82" width="1.15" height="4.03" fill="url(#g4)"/>
<rect x="50.5" y="286.71" width="1.15" height="3.97" fill="url(#g4)"/>
<rect x="51.5" y="286.56" width="1.15" height="3.95" fill="url(#g4)"/>
<rect x="52.5" y="286.42" width="1.15" height="3.93" fill="url(#g4)"/>
<rect x="53.5" y="286.27" width="1.15" height="3.91" fill="url(#g4)"/>
<rect x="54.5" y="286.12" width="1.15" height="3.9" fill="url(#g4)"/>
<rect x="55.5" y="285.97" width="1.15" height="3.88" fill="url(#g4)"/>
<rect x="56.5" y="285.82" width="1.15" height="3.86" fill="url(#g4)"/>
<rect x="57.5" y="285.67" width="1.15" height="3.85" fill="url(#g4)"/>
<rect x="58.5" y="285.52" width="1.15" height="3.83" fill="url(#g4)"/>
<rect x="59.5" y="285.37" width="1.15" height="3.81" fill="url(#g4)"/>
<rect x="60.5" y="285.22" width="1.15" height="3.79" fill="url(#g4)"/>
<rect x="61.5" y="285.07" width="1.15" height="3.78" fill="url(#g4)"/>
<rect x="62.5" y="284.92" width="1.15" height="3.76" fill="url(#g4)"/>
<rect x="63.5" y="284.77" width="1.15" height="3.74" fill="url(#g4)"/>
<rect x="64.5" y="284.63" width="1.15" height="3.72" fill="url(#g4)"/>
<rect x="65.5" y="284.48" width="1.15" height="3.71" fill="url(#g4)"/>
<rect x="66.5" y="284.33" width="1.15" height="3.69" fill="url(#g4)"/>
<rect x="67.5" y="284.18" width="1.15" height="3.67" fill="url(#g4)"/>
<rect x="68.5" y="284.03" width="1.15" height="3.66" fill="url(#g4)"/>
<rect x="69.5" y="283.88" width="1.15" height="3.64" fill="url(#g4)"/>
<rect x="70.5" y="283.73" width="1.15" height="3.62" fill="url(#g4)"/>
<rect x="71.5" y="283.58" width="1.15" height="3.6" fill="url(#g4)"/>
<rect x="72.5" y="283.43" width="1.15" height="3.59" fill="url(#g4)"/>
<rect x="73.5" y="283.28" width="1.15" height="3.57" fill="url(#g4)"/>
<rect x="74.5" y="283.13" width="1.15" height="3.55" fill="url(#g4)"/>
<rect x="75.5" y="282.98" width="1.15" height="3.53" fill="url(#g4)"/>
<rect x="76.5" y="282.84" width="1.15" height="3.52" fill="url(#g4)"/>
<rect x="77.5" y="282.69" width="1.15" height="3.5" fill="url(#g4)"/>
<rect x="78.5" y="282.54" width="1.15" height="3.48" fill="url(#g4)"/>
<rect x="79.5" y="282.39" width="1.15" height="3.47" fill="url(#g4)"/>
<rect x="80.5" y="282.24" width="1.15" height="3.45" fill="url(#g4)"/>
<rect x="81.5" y="282.09" width="1.15" height="3.43" fill="url(#g4)"/>
<rect x="82.5" y="281.94" width="1.15" height="3.41" fill="url(#g4)"/>
<rect x="83.5" y="281.79" width="1.15" height="3.4" fill="url(#g4)"/>
<rect x="84.5" y="281.64" width="1.15" height="3.38" fill="url(#g4)"/>
<rect x="85.5" y="281.49" width="1.15" height="3.36" fill="url(#g4)"/>
<rect x="86.5" y="281.34" width="1.15" height="3.35" fill="url(#g4)"/>
<rect x="87.5" y="281.19" width="1.15" height="3.33" fill="url(#g4)"/>
<rect x="88.5" y="281.05" width="1.15" height="3.31" fill="url(#g4)"/>
<rect x="89.5" y="280.9" width="1.15" height="3.29" fill="url(#g4)"/>
<rect x="90.5" y="280.75" width="1.15" height="3.28" fill="url(#g4)"/>
<rect x="91.5" y="280.6" width="1.15" height="3.26" fill="url(#g4)"/>
<rect x="92.5" y="280.45" width="1.15" height="3.24" fill="url(#g4)"/>
<rect x="93.5" y="280.3" width="1.15" height="3.22" fill="url(#g4)"/>
<rect x="94.5" y="280.15" width="1.15" height="3.21" fill="url(#g4)"/>
<rect x="95.5" y="280" width="1.15" height="3.19" fill="url(#g4)"/>
<rect x="96.5" y="279.85" width="1.15" height="3.17" fill="url(#g4)"/>
<rect x="97.5" y="279.7" width="1.15" height="3.16" fill="url(#g4)"/>
<rect x="98.5" y="279.55" width="1.15" height="3.14" fill="url(#g4)"/>
<rect x="99.5" y="279.4" width="1.15" height="3.12" fill="url(#g4)"/>
<rect x="100.5" y="279.26" width="1.15" height="3.1" fill="url(#g4)"/>
<rect x="101.5" y="279.11" width="1.15" height="3.09" fill="url(#g4)"/>
<rect x="102.5" y="278.96" width="1.15" height="3.07" fill="url(#g4)"/>
<rect x="103.5" y="278.81" width="1.15" height="3.05" fill="url(#g4)"/>
<rect x="104.5" y="278.66" width="1.15" height="3.03" fill="url(#g4)"/>
<rect x="105.5" y="278.51" width="1.15" height="3.02" fill="url(#g4)"/>
<rect x="106.5" y="278.36" width="1.15" height="3" fill="url(#g4)"/>
<rect x="107.5" y="278.21" width="1.15" height="2.98" fill="url(#g4)"/>
<rect x="108.5" y="278.06" width="1.15" height="2.97" fill="url(#g4)"/>
<rect x="109.5" y="277.91" width="1.15" height="2.95" fill="url(#g4)"/>
<rect x="110.5" y="277.76" width="1.15" height="2.93" fill="url(#g4)"/>
<rect x="111.5" y="277.61" width="1.15" height="2.91" fill="url(#g4)"/>
<rect x="112.5" y="277.46" width="1.15" height="2.9" fill="url(#g4)"/>
<rect x="113.5" y="277.32" width="1.15" height="2.88" fill="url(#g4)"/>
<rect x="114.5" y="277.17" width="1.15" height="2.86" fill="url(#g4)"/>
<rect x="115.5" y="277.02" width="1.15" height="2.85" fill="url(#g4)"/>
<rect x="116.5" y="276.87" width="1.15" height="2.83" fill="url(#g4)"/>
<rect x="117.5" y="276.72" width="1.15" height="2.81" fill="url(#g4)"/>
<rect x="118.5" y="276.57" width="1.15" height="2.79" fill="url(#g4)"/>
<rect x="119.5" y="276.42" width="1.15" height="2.78" fill="url(#g4)"/>
<rect x="120.5" y="276.27" width="1.15" height="2.76" fill="url(#g4)"/>
<rect x="121.5" y="276.12" width="1.15" height="2.74" fill="url(#g4)"/>
<rect x="122.5" y="275.97" width="1.15" height="2.72" fill="url(#g4)"/>
<rect x="123.5" y="275.82" width="1.15" height="2.71" fill="url(#g4)"/>
<rect x="124.5" y="275.67" width="1.15" height="2.69" fill="url(#g4)"/>
<rect x="125.5" y="275.53" width="1.15" height="2.67" fill="url(#g4)"/>
<rect x="126.5" y="275.38" width="1.15" height="2.66" fill="url(#g4)"/>
<rect x="127.5" y="275.23" width="1.15" height="2.64" fill="url(#g4)"/>
<rect x="128.5" y="275.08" width="1.15" height="2.62" fill="url(#g4)"/>
<rect x="129.5" y="274.93" width="1.15" height="2.6" fill="url(#g4)"/>
<rect x="130.5" y="274.78" width="1.15" height="2.59" fill="url(#g4)"/>
<rect x="131.5" y="274.63" width="1.15" height="2.57" fill="url(#g4)"/>
<rect x="132.5" y="274.48" width="1.15" height="2.55" fill="url(#g4)"/>
<rect x="133.5" y="274.33" width="1.15" height="2.53" fill="url(#g4)"/>
<rect x="134.5" y="274.18" width="1.15" height="2.52" fill="url(#g4)"/>
<rect x="135.5" y="274.03" width="1.15" height="2.5" fill="url(#g4)"/>
<rect x="136.5" y="273.88" width="1.15" height="2.48" fill="url(#g4)"/>
<rect x="137.5" y="273.74" width="1.15" height="2.47" fill="url(#g4)"/>
<rect x="138.5" y="273.59" width="1.15" height="2.45" fill="url(#g4)"/>
<rect x="139.5" y="273.44" width="1.15" height="2.43" fill="url(#g4)"/>
<rect x="140.5" y="273.29" width="1.15" height="2.41" fill="url(#g4)"/>
<rect x="141.5" y="273.14" width="1.15" height="2.4" fill="url(#g4)"/>
<rect x="142.5" y="272.99" width="1.15" height="2.38" fill="url(#g4)"/>
<rect x="143.5" y="272.84" width="1.15" height="2.36" fill="url(#g4)"/>
<rect x="144.5" y="272.69" width="1.15" height="2.34" fill="url(#g4)"/>
<rect x="145.5" y="272.54" width="1.15" height="2.33" fill="url(#g4)"/>
<rect x="146.5" y="272.39" width="1.15" height="2.31" fill="url(#g4)"/>
<rect x="147.5" y="272.24" width="1.15" height="2.29" fill="url(#g4)"/>
<rect x="148.5" y="272.09" width="1.15" height="2.28" fill="url(#g4)"/>
<rect x="149.5" y="271.95" width="1.15" height="2.26" fill="url(#g4)"/>
<rect x="150.5" y="271.8" width="1.15" height="2.24" fill="url(#g4)"/>
<rect x="151.5" y="271.65" width="1.15" height="2.22" fill="url(#g4)"/>
<rect x="152.5" y="271.55" width="1.15" height="2.16" fill="url(#g4)"/>
<rect x="153.5" y="271.55" width="1.15" height="1.99" fill="url(#g4)"/>
<rect x="154.5" y="271.55" width="1.15" height="1.83" fill="url(#g4)"/>
<rect x="155.5" y="271.55" width="1.15" height="1.66" fill="url(#g4)"/>
<rect x="156.5" y="271.55" width="1.15" height="1.49" fill="url(#g4)"/>
<rect x="157.5" y="271.55" width="1.15" height="1.33" fill="url(#g4)"/>
<rect x="158.5" y="271.55" width="1.15" height="1.16" fill="url(#g4)"/>
<rect x="159.5" y="271.55" width="1.15" height="0.99" fill="url(#g4)"/>
<rect x="160.5" y="271.55" width="1.15" height="0.83" fill="url(#g4)"/>
<rect x="161.5" y="271.55" width="1.15" height="0.66" fill="url(#g4)"/>
<rect x="162.5" y="271.55" width="1.15" height="0.49" fill="url(#g4)"/>
<rect x="163.5" y="271.55" width="1.15" height="0.33" fill="url(#g4)"/>
<rect x="164.5" y="271.55" width="1.05" height="0.17" fill="url(#g4)"/>
<path d="M31.5,271.55 L31.5,285.3 L32.84,285.49 L34.18,285.68 L35.52,285.87 L36.86,286.06 L38.2,286.18 L39.53,286.29 L40.87,286.41 L42.21,286.52 L43.55,286.63 L44.89,286.67 L46.23,286.71 L47.57,286.75 L48.91,286.79 L50.25,286.83 L51.59,286.63 L52.92,286.43 L54.26,286.23 L55.6,286.03 L56.94,285.83 L58.28,285.63 L59.62,285.43 L60.96,285.23 L62.3,285.03 L63.64,284.83 L64.97,284.63 L66.31,284.43 L67.65,284.23 L68.99,284.03 L70.33,283.83 L71.67,283.63 L73.01,283.43 L74.35,283.23 L75.69,283.03 L77.03,282.83 L78.37,282.63 L79.7,282.43 L81.04,282.23 L82.38,282.03 L83.72,281.83 L85.06,281.63 L86.4,281.43 L87.74,281.23 L89.08,281.03 L90.42,280.83 L91.75,280.63 L93.09,280.43 L94.43,280.23 L95.77,280.03 L97.11,279.84 L98.45,279.64 L99.79,279.44 L101.13,279.24 L102.47,279.04 L103.81,278.84 L105.15,278.64 L106.48,278.44 L107.82,278.24 L109.16,278.04 L110.5,277.84 L111.84,277.64 L113.18,277.44 L114.52,277.24 L115.86,277.04 L117.2,276.84 L118.54,276.64 L119.87,276.44 L121.21,276.24 L122.55,276.04 L123.89,275.84 L125.23,275.64 L126.57,275.44 L127.91,275.24 L129.25,275.04 L130.59,274.84 L131.93,274.64 L133.26,274.44 L134.6,274.24 L135.94,274.04 L137.28,273.84 L138.62,273.64 L139.96,273.44 L141.3,273.24 L142.64,273.04 L143.98,272.84 L145.31,272.64 L146.65,272.44 L147.99,272.25 L149.33,272.05 L150.67,271.85 L152.01,271.65 L153.35,271.55 L154.69,271.55 L156.03,271.55 L157.37,271.55 L158.7,271.55 L160.04,271.55 L161.38,271.55 L162.72,271.55 L164.06,271.55 L165.4,271.55 L165.4,271.55 Z" fill="#8e2d04"/>
<path d="M31.5,285.3 L32.84,285.49 L34.18,285.68 L35.52,285.87 L36.86,286.06 L38.2,286.18 L39.53,286.29 L40.87,286.41 L42.21,286.52 L43.55,286.63 L44.89,286.67 L46.23,286.71 L47.57,286.75 L48.91,286.79 L50.25,286.83 L51.59,286.63 L52.92,286.43 L54.26,286.23 L55.6,286.03 L56.94,285.83 L58.28,285.63 L59.62,285.43 L60.96,285.23 L62.3,285.03 L63.64,284.83 L64.97,284.63 L66.31,284.43 L67.65,284.23 L68.99,284.03 L70.33,283.83 L71.67,283.63 L73.01,283.43 L74.35,283.23 L75.69,283.03 L77.03,282.83 L78.37,282.63 L79.7,282.43 L81.04,282.23 L82.38,282.03 L83.72,281.83 L85.06,281.63 L86.4,281.43 L87.74,281.23 L89.08,281.03 L90.42,280.83 L91.75,280.63 L93.09,280.43 L94.43,280.23 L95.77,280.03 L97.11,279.84 L98.45,279.64 L99.79,279.44 L101.13,279.24 L102.47,279.04 L103.81,278.84 L105.15,278.64 L106.48,278.44 L107.82,278.24 L109.16,278.04 L110.5,277.84 L111.84,277.64 L113.18,277.44 L114.52,277.24 L115.86,277.04 L117.2,276.84 L118.54,276.64 L119.87,276.44 L121.21,276.24 L122.55,276.04 L123.89,275.84 L125.23,275.64 L126.57,275.44 L127.91,275.24 L129.25,275.04 L130.59,274.84 L131.93,274.64 L133.26,274.44 L134.6,274.24 L135.94,274.04 L137.28,273.84 L138.62,273.64 L139.96,273.44 L141.3,273.24 L142.64,273.04 L143.98,272.84 L145.31,272.64 L146.65,272.44 L147.99,272.25 L149.33,272.05 L150.67,271.85 L152.01,271.65" fill="none" stroke="#1a0600" stroke-width="0.95" stroke-linejoin="round" stroke-linecap="butt" opacity="0.9"/>
<path d="M31.5,290.17 L34.18,290.33 L36.86,290.49 L39.53,290.65 L42.21,290.76 L44.89,290.86 L47.57,290.97 L50.25,290.81 L52.92,290.36 L55.6,289.91 L58.28,289.47 L60.96,289.02 L63.64,288.58 L66.31,288.13 L68.99,287.69 L71.67,287.24 L74.35,286.79 L77.03,286.35 L79.7,285.9 L82.38,285.46 L85.06,285.01 L87.74,284.57 L90.42,284.12 L93.09,283.67 L95.77,283.23 L98.45,282.78 L101.13,282.34 L103.81,281.89 L106.48,281.45 L109.16,281 L111.84,280.55 L114.52,280.11 L117.2,279.66 L119.87,279.22 L122.55,278.77 L125.23,278.33 L127.91,277.88 L130.59,277.44 L133.26,276.99 L135.94,276.54 L138.62,276.1 L141.3,275.65 L143.98,275.21 L146.65,274.76 L149.33,274.32 L152.01,273.87 L154.69,273.42 L157.37,272.98 L160.04,272.53 L162.72,272.09 L165.4,271.64" fill="none" stroke="#6a6a6a" stroke-width="0.55" stroke-linejoin="round" stroke-linecap="butt"/>
<path d="M31.5,271.55 L38.83,271.31 L46.16,271.08 L53.49,270.85 L60.82,270.62 L68.15,270.39 L75.48,270.15 L82.81,269.92 L90.15,269.69 L97.48,269.46 L104.81,269.23 L112.14,268.99 L119.47,268.76 L126.8,268.53 L134.13,268.29 L141.46,268.07 L148.79,267.88 L148.79,271.55 L31.5,271.55 Z" fill="#8e2d04"/>
<path d="M147.59,267.91 L147.98,267.9 L148.36,267.89 L148.75,267.88 L149.13,267.87 L149.51,267.86 L149.9,267.85 L150.28,267.84 L150.67,267.83 L151.05,267.82 L151.44,267.81 L151.82,267.8 L152.21,267.79 L152.59,267.78 L152.98,267.77 L153.36,267.76 L153.75,267.75 L153.75,271.55 L147.59,271.55 Z" fill="#b03903"/>
<path d="M152.55,267.78 L152.84,267.77 L153.13,267.76 L153.42,267.75 L153.72,267.75 L154.01,267.74 L154.3,267.73 L154.59,267.72 L154.89,267.72 L155.18,267.71 L155.47,267.7 L155.76,267.69 L156.06,267.69 L156.35,267.68 L156.64,267.67 L156.93,267.66 L157.23,267.65 L157.23,271.55 L152.55,271.55 Z" fill="#d94801"/>
<path d="M156.03,267.69 L156.27,267.68 L156.51,267.67 L156.75,267.67 L157,267.66 L157.24,267.65 L157.48,267.65 L157.72,267.64 L157.97,267.63 L158.21,267.63 L158.45,267.62 L158.69,267.62 L158.94,267.61 L159.18,267.6 L159.42,267.6 L159.66,267.59 L159.91,267.58 L159.91,271.55 L156.03,271.55 Z" fill="#ec620f"/>
<path d="M158.7,267.62 L158.91,267.61 L159.11,267.6 L159.31,267.6 L159.51,267.59 L159.71,267.59 L159.91,267.58 L160.11,267.58 L160.31,267.57 L160.51,267.57 L160.71,267.56 L160.91,267.56 L161.11,267.55 L161.31,267.55 L161.51,267.54 L161.71,267.54 L161.91,267.53 L161.91,271.55 L158.7,271.55 Z" fill="#fd9a4e"/>
<path d="M160.71,267.56 L160.9,267.56 L161.08,267.55 L161.26,267.55 L161.45,267.54 L161.63,267.54 L161.82,267.53 L162,267.53 L162.18,267.52 L162.37,267.52 L162.55,267.51 L162.74,267.51 L162.92,267.5 L163.1,267.5 L163.29,267.5 L163.47,267.49 L163.65,267.49 L163.65,271.55 L160.71,271.55 Z" fill="#fdb576"/>
<path d="M162.45,267.52 L162.63,267.51 L162.81,267.51 L162.98,267.5 L163.16,267.5 L163.33,267.49 L163.51,267.49 L163.68,267.48 L163.86,267.48 L164.03,267.48 L164.21,267.47 L164.38,267.47 L164.56,267.46 L164.73,267.46 L164.91,267.45 L165.09,267.45 L165.26,267.44 L165.26,271.55 L162.45,271.55 Z" fill="#fee2c6"/>
<path d="M164.06,267.47 L164.14,267.47 L164.23,267.47 L164.31,267.47 L164.4,267.47 L164.48,267.46 L164.56,267.46 L164.65,267.46 L164.73,267.46 L164.81,267.45 L164.9,267.45 L164.98,267.45 L165.07,267.45 L165.15,267.45 L165.23,267.44 L165.32,267.44 L165.4,267.44 L165.4,271.55 L164.06,271.55 Z" fill="#ffefe0"/>
<path d="M152.55,271.55 L152.55,267.78" fill="none" stroke="#000" stroke-width="0.7" stroke-linejoin="round" stroke-linecap="butt" opacity="1.0"/>
<path d="M31.5,271.55 L165.4,271.55" fill="none" stroke="#0000ff" stroke-width="1.0" stroke-linejoin="round" stroke-linecap="butt" opacity="0.82"/>
<path d="M31.5,271.55 L32.84,271.5 L34.18,271.46 L35.52,271.42 L36.86,271.38 L38.2,271.33 L39.53,271.29 L40.87,271.25 L42.21,271.21 L43.55,271.16 L44.89,271.12 L46.23,271.08 L47.57,271.04 L48.91,271 L50.25,270.95 L51.59,270.91 L52.92,270.87 L54.26,270.83 L55.6,270.78 L56.94,270.74 L58.28,270.7 L59.62,270.66 L60.96,270.61 L62.3,270.57 L63.64,270.53 L64.97,270.49 L66.31,270.44 L67.65,270.4 L68.99,270.36 L70.33,270.32 L71.67,270.27 L73.01,270.23 L74.35,270.19 L75.69,270.15 L77.03,270.11 L78.37,270.06 L79.7,270.02 L81.04,269.98 L82.38,269.94 L83.72,269.89 L85.06,269.85 L86.4,269.81 L87.74,269.77 L89.08,269.72 L90.42,269.68 L91.75,269.64 L93.09,269.6 L94.43,269.55 L95.77,269.51 L97.11,269.47 L98.45,269.43 L99.79,269.39 L101.13,269.34 L102.47,269.3 L103.81,269.26 L105.15,269.22 L106.48,269.17 L107.82,269.13 L109.16,269.09 L110.5,269.05 L111.84,269 L113.18,268.96 L114.52,268.92 L115.86,268.88 L117.2,268.83 L118.54,268.79 L119.87,268.75 L121.21,268.7 L122.55,268.66 L123.89,268.62 L125.23,268.58 L126.57,268.53 L127.91,268.49 L129.25,268.45 L130.59,268.41 L131.93,268.36 L133.26,268.32 L134.6,268.28 L135.94,268.24 L137.28,268.19 L138.62,268.15 L139.96,268.11 L141.3,268.07 L142.64,268.04 L143.98,268 L145.31,267.97 L146.65,267.93 L147.99,267.9 L149.33,267.86 L150.67,267.83 L152.01,267.79 L153.35,267.76 L154.69,267.72 L156.03,267.69 L157.37,267.65 L158.7,267.62 L160.04,267.58 L161.38,267.55 L162.72,267.51 L164.06,267.47 L165.4,267.44" fill="none" stroke="#000" stroke-width="1.0" stroke-linejoin="round" stroke-linecap="butt"/>
</g>
<path d="M31.5,291.3 v2.1 M58.28,291.3 v2.1 M85.06,291.3 v2.1 M111.84,291.3 v2.1 M138.62,291.3 v2.1 M165.4,291.3 v2.1 M31.5,289.5 h-2.1 M31.5,270.4 h-2.1 M31.5,251.3 h-2.1 M31.5,232.2 h-2.1" stroke="#000" stroke-width="0.6" fill="none"/>
<rect x="31.5" y="220.3" width="133.9" height="71" fill="none" stroke="#000" stroke-width="0.45"/>
<text x="31.5" y="299.65" font-size="5.83" text-anchor="middle" textLength="3.5" lengthAdjust="spacingAndGlyphs">0</text>
<text x="58.28" y="299.65" font-size="5.83" text-anchor="middle" textLength="10.5" lengthAdjust="spacingAndGlyphs">200</text>
<text x="85.06" y="299.65" font-size="5.83" text-anchor="middle" textLength="10.5" lengthAdjust="spacingAndGlyphs">400</text>
<text x="111.84" y="299.65" font-size="5.83" text-anchor="middle" textLength="10.5" lengthAdjust="spacingAndGlyphs">600</text>
<text x="138.62" y="299.65" font-size="5.83" text-anchor="middle" textLength="10.5" lengthAdjust="spacingAndGlyphs">800</text>
<text x="165.4" y="299.65" font-size="5.83" text-anchor="middle" textLength="14" lengthAdjust="spacingAndGlyphs">1000</text>
<text x="27.65" y="291.4" font-size="5.83" text-anchor="end" textLength="15.11" lengthAdjust="spacingAndGlyphs">−200</text>
<text x="27.65" y="272.3" font-size="5.83" text-anchor="end" textLength="3.5" lengthAdjust="spacingAndGlyphs">0</text>
<text x="27.65" y="253.2" font-size="5.83" text-anchor="end" textLength="10.5" lengthAdjust="spacingAndGlyphs">200</text>
<text x="27.65" y="234.1" font-size="5.83" text-anchor="end" textLength="10.5" lengthAdjust="spacingAndGlyphs">400</text>
<g clip-path="url(#clip21)">
<path d="M192.4,280.05 L195.09,279.85 L197.78,279.66 L200.47,279.47 L203.16,279.27 L205.85,279.08 L208.54,278.89 L211.23,278.7 L213.92,278.5 L216.61,278.31 L219.3,278.12 L221.99,277.92 L224.68,277.73 L227.37,277.54 L230.06,277.34 L232.75,277.15 L235.44,276.96 L238.13,276.77 L240.82,276.57 L243.51,276.38 L246.2,276.19 L248.89,275.99 L251.58,275.8 L254.27,275.61 L256.96,275.42 L259.65,275.22 L262.34,275.03 L265.03,274.84 L267.72,274.64 L270.41,274.45 L273.1,274.26 L275.79,274.07 L278.48,273.87 L281.17,273.68 L283.86,273.49 L286.55,273.29 L289.24,273.1 L291.93,272.91 L294.62,272.71 L297.31,272.52 L300,272.33 L302.69,272.14 L305.38,271.94 L308.07,271.75 L310.76,271.56 L313.45,271.36 L316.14,271.17 L318.83,270.98 L321.52,270.79 L324.21,270.59 L326.9,270.4 L326.9,291.41 L192.4,291.41 Z" fill="#dcdcdc"/>
<rect x="192.4" y="270.4" width="1.15" height="9.61" fill="url(#g1)"/>
<rect x="193.4" y="270.4" width="1.15" height="9.54" fill="url(#g1)"/>
<rect x="194.4" y="270.4" width="1.15" height="9.47" fill="url(#g1)"/>
<rect x="195.4" y="270.4" width="1.15" height="9.39" fill="url(#g1)"/>
<rect x="196.4" y="270.4" width="1.15" height="9.32" fill="url(#g1)"/>
<rect x="197.4" y="270.4" width="1.15" height="9.25" fill="url(#g1)"/>
<rect x="198.4" y="270.4" width="1.15" height="9.18" fill="url(#g1)"/>
<rect x="199.4" y="270.4" width="1.15" height="9.11" fill="url(#g1)"/>
<rect x="200.4" y="270.4" width="1.15" height="9.04" fill="url(#g1)"/>
<rect x="201.4" y="270.4" width="1.15" height="8.96" fill="url(#g1)"/>
<rect x="202.4" y="270.4" width="1.15" height="8.89" fill="url(#g1)"/>
<rect x="203.4" y="270.4" width="1.15" height="8.82" fill="url(#g1)"/>
<rect x="204.4" y="270.4" width="1.15" height="8.75" fill="url(#g1)"/>
<rect x="205.4" y="270.4" width="1.15" height="8.68" fill="url(#g1)"/>
<rect x="206.4" y="270.4" width="1.15" height="8.61" fill="url(#g1)"/>
<rect x="207.4" y="270.4" width="1.15" height="8.53" fill="url(#g1)"/>
<rect x="208.4" y="270.4" width="1.15" height="8.46" fill="url(#g1)"/>
<rect x="209.4" y="270.4" width="1.15" height="8.39" fill="url(#g1)"/>
<rect x="210.4" y="270.4" width="1.15" height="8.32" fill="url(#g1)"/>
<rect x="211.4" y="270.4" width="1.15" height="8.25" fill="url(#g1)"/>
<rect x="212.4" y="270.4" width="1.15" height="8.18" fill="url(#g1)"/>
<rect x="213.4" y="270.4" width="1.15" height="8.1" fill="url(#g1)"/>
<rect x="214.4" y="270.4" width="1.15" height="8.03" fill="url(#g1)"/>
<rect x="215.4" y="270.4" width="1.15" height="7.96" fill="url(#g1)"/>
<rect x="216.4" y="270.4" width="1.15" height="7.89" fill="url(#g1)"/>
<rect x="217.4" y="270.4" width="1.15" height="7.82" fill="url(#g1)"/>
<rect x="218.4" y="270.4" width="1.15" height="7.75" fill="url(#g1)"/>
<rect x="219.4" y="270.4" width="1.15" height="7.67" fill="url(#g1)"/>
<rect x="220.4" y="270.4" width="1.15" height="7.6" fill="url(#g1)"/>
<rect x="221.4" y="270.4" width="1.15" height="7.53" fill="url(#g1)"/>
<rect x="222.4" y="270.4" width="1.15" height="7.46" fill="url(#g1)"/>
<rect x="223.4" y="270.4" width="1.15" height="7.39" fill="url(#g1)"/>
<rect x="224.4" y="270.4" width="1.15" height="7.31" fill="url(#g1)"/>
<rect x="225.4" y="270.4" width="1.15" height="7.24" fill="url(#g1)"/>
<rect x="226.4" y="270.4" width="1.15" height="7.17" fill="url(#g1)"/>
<rect x="227.4" y="270.4" width="1.15" height="7.1" fill="url(#g1)"/>
<rect x="228.4" y="270.4" width="1.15" height="7.03" fill="url(#g1)"/>
<rect x="229.4" y="270.4" width="1.15" height="6.96" fill="url(#g1)"/>
<rect x="230.4" y="270.4" width="1.15" height="6.88" fill="url(#g1)"/>
<rect x="231.4" y="270.4" width="1.15" height="6.81" fill="url(#g1)"/>
<rect x="232.4" y="270.4" width="1.15" height="6.74" fill="url(#g1)"/>
<rect x="233.4" y="270.4" width="1.15" height="6.67" fill="url(#g1)"/>
<rect x="234.4" y="270.4" width="1.15" height="6.6" fill="url(#g1)"/>
<rect x="235.4" y="270.4" width="1.15" height="6.53" fill="url(#g1)"/>
<rect x="236.4" y="270.4" width="1.15" height="6.45" fill="url(#g1)"/>
<rect x="237.4" y="270.4" width="1.15" height="6.38" fill="url(#g1)"/>
<rect x="238.4" y="270.4" width="1.15" height="6.31" fill="url(#g1)"/>
<rect x="239.4" y="270.4" width="1.15" height="6.24" fill="url(#g1)"/>
<rect x="240.4" y="270.4" width="1.15" height="6.17" fill="url(#g1)"/>
<rect x="241.4" y="270.4" width="1.15" height="6.1" fill="url(#g1)"/>
<rect x="242.4" y="270.4" width="1.15" height="6.02" fill="url(#g1)"/>
<rect x="243.4" y="270.4" width="1.15" height="5.95" fill="url(#g1)"/>
<rect x="244.4" y="270.4" width="1.15" height="5.88" fill="url(#g1)"/>
<rect x="245.4" y="270.4" width="1.15" height="5.81" fill="url(#g1)"/>
<rect x="246.4" y="270.4" width="1.15" height="5.74" fill="url(#g1)"/>
<rect x="247.4" y="270.4" width="1.15" height="5.67" fill="url(#g1)"/>
<rect x="248.4" y="270.4" width="1.15" height="5.59" fill="url(#g1)"/>
<rect x="249.4" y="270.4" width="1.15" height="5.52" fill="url(#g1)"/>
<rect x="250.4" y="270.4" width="1.15" height="5.45" fill="url(#g1)"/>
<rect x="251.4" y="270.4" width="1.15" height="5.38" fill="url(#g1)"/>
<rect x="252.4" y="270.4" width="1.15" height="5.31" fill="url(#g1)"/>
<rect x="253.4" y="270.4" width="1.15" height="5.24" fill="url(#g1)"/>
<rect x="254.4" y="270.4" width="1.15" height="5.16" fill="url(#g1)"/>
<rect x="255.4" y="270.4" width="1.15" height="5.09" fill="url(#g1)"/>
<rect x="256.4" y="270.4" width="1.15" height="5.02" fill="url(#g1)"/>
<rect x="257.4" y="270.4" width="1.15" height="4.95" fill="url(#g1)"/>
<rect x="258.4" y="270.4" width="1.15" height="4.88" fill="url(#g1)"/>
<rect x="259.4" y="270.4" width="1.15" height="4.8" fill="url(#g1)"/>
<rect x="260.4" y="270.4" width="1.15" height="4.73" fill="url(#g1)"/>
<rect x="261.4" y="270.4" width="1.15" height="4.66" fill="url(#g1)"/>
<rect x="262.4" y="270.4" width="1.15" height="4.59" fill="url(#g1)"/>
<rect x="263.4" y="270.4" width="1.15" height="4.52" fill="url(#g1)"/>
<rect x="264.4" y="270.4" width="1.15" height="4.45" fill="url(#g1)"/>
<rect x="265.4" y="270.4" width="1.15" height="4.37" fill="url(#g1)"/>
<rect x="266.4" y="270.4" width="1.15" height="4.3" fill="url(#g1)"/>
<rect x="267.4" y="270.4" width="1.15" height="4.23" fill="url(#g1)"/>
<rect x="268.4" y="270.4" width="1.15" height="4.16" fill="url(#g1)"/>
<rect x="269.4" y="270.4" width="1.15" height="4.09" fill="url(#g1)"/>
<rect x="270.4" y="270.4" width="1.15" height="4.02" fill="url(#g1)"/>
<rect x="271.4" y="270.4" width="1.15" height="3.94" fill="url(#g1)"/>
<rect x="272.4" y="270.4" width="1.15" height="3.87" fill="url(#g1)"/>
<rect x="273.4" y="270.4" width="1.15" height="3.8" fill="url(#g1)"/>
<rect x="274.4" y="270.4" width="1.15" height="3.73" fill="url(#g1)"/>
<rect x="275.4" y="270.4" width="1.15" height="3.66" fill="url(#g1)"/>
<rect x="276.4" y="270.4" width="1.15" height="3.59" fill="url(#g1)"/>
<rect x="277.4" y="270.4" width="1.15" height="3.51" fill="url(#g1)"/>
<rect x="278.4" y="270.4" width="1.15" height="3.44" fill="url(#g1)"/>
<rect x="279.4" y="270.4" width="1.15" height="3.37" fill="url(#g1)"/>
<rect x="280.4" y="270.4" width="1.15" height="3.3" fill="url(#g1)"/>
<rect x="281.4" y="270.4" width="1.15" height="3.23" fill="url(#g1)"/>
<rect x="282.4" y="270.4" width="1.15" height="3.16" fill="url(#g1)"/>
<rect x="283.4" y="270.4" width="1.15" height="3.08" fill="url(#g1)"/>
<rect x="284.4" y="270.4" width="1.15" height="3.01" fill="url(#g1)"/>
<rect x="285.4" y="270.4" width="1.15" height="2.94" fill="url(#g1)"/>
<rect x="286.4" y="270.4" width="1.15" height="2.87" fill="url(#g1)"/>
<rect x="287.4" y="270.4" width="1.15" height="2.8" fill="url(#g1)"/>
<rect x="288.4" y="270.4" width="1.15" height="2.73" fill="url(#g1)"/>
<rect x="289.4" y="270.4" width="1.15" height="2.65" fill="url(#g1)"/>
<rect x="290.4" y="270.4" width="1.15" height="2.58" fill="url(#g1)"/>
<rect x="291.4" y="270.4" width="1.15" height="2.51" fill="url(#g1)"/>
<rect x="292.4" y="270.4" width="1.15" height="2.44" fill="url(#g1)"/>
<rect x="293.4" y="270.4" width="1.15" height="2.37" fill="url(#g1)"/>
<rect x="294.4" y="270.4" width="1.15" height="2.29" fill="url(#g1)"/>
<rect x="295.4" y="270.4" width="1.15" height="2.22" fill="url(#g1)"/>
<rect x="296.4" y="270.4" width="1.15" height="2.15" fill="url(#g1)"/>
<rect x="297.4" y="270.4" width="1.15" height="2.08" fill="url(#g1)"/>
<rect x="298.4" y="270.4" width="1.15" height="2.01" fill="url(#g1)"/>
<rect x="299.4" y="270.4" width="1.15" height="1.94" fill="url(#g1)"/>
<rect x="300.4" y="270.4" width="1.15" height="1.86" fill="url(#g1)"/>
<rect x="301.4" y="270.4" width="1.15" height="1.79" fill="url(#g1)"/>
<rect x="302.4" y="270.4" width="1.15" height="1.72" fill="url(#g1)"/>
<rect x="303.4" y="270.4" width="1.15" height="1.65" fill="url(#g1)"/>
<rect x="304.4" y="270.4" width="1.15" height="1.58" fill="url(#g1)"/>
<rect x="305.4" y="270.4" width="1.15" height="1.51" fill="url(#g1)"/>
<rect x="306.4" y="270.4" width="1.15" height="1.43" fill="url(#g1)"/>
<rect x="307.4" y="270.4" width="1.15" height="1.36" fill="url(#g1)"/>
<rect x="308.4" y="270.4" width="1.15" height="1.29" fill="url(#g1)"/>
<rect x="309.4" y="270.4" width="1.15" height="1.22" fill="url(#g1)"/>
<rect x="310.4" y="270.4" width="1.15" height="1.15" fill="url(#g1)"/>
<rect x="311.4" y="270.4" width="1.15" height="1.08" fill="url(#g1)"/>
<rect x="312.4" y="270.4" width="1.15" height="1" fill="url(#g1)"/>
<rect x="313.4" y="270.4" width="1.15" height="0.93" fill="url(#g1)"/>
<rect x="314.4" y="270.4" width="1.15" height="0.86" fill="url(#g1)"/>
<rect x="315.4" y="270.4" width="1.15" height="0.79" fill="url(#g1)"/>
<rect x="316.4" y="270.4" width="1.15" height="0.72" fill="url(#g1)"/>
<rect x="317.4" y="270.4" width="1.15" height="0.65" fill="url(#g1)"/>
<rect x="318.4" y="270.4" width="1.15" height="0.57" fill="url(#g1)"/>
<rect x="319.4" y="270.4" width="1.15" height="0.5" fill="url(#g1)"/>
<rect x="320.4" y="270.4" width="1.15" height="0.43" fill="url(#g1)"/>
<rect x="321.4" y="270.4" width="1.15" height="0.36" fill="url(#g1)"/>
<rect x="322.4" y="270.4" width="1.15" height="0.29" fill="url(#g1)"/>
<rect x="323.4" y="270.4" width="1.15" height="0.22" fill="url(#g1)"/>
<rect x="324.4" y="270.4" width="1.15" height="0.14" fill="url(#g1)"/>
<rect x="325.4" y="270.4" width="1.15" height="0.07" fill="url(#g1)"/>
<path d="M192.4,280.05 L195.09,279.85 L197.78,279.66 L200.47,279.47 L203.16,279.27 L205.85,279.08 L208.54,278.89 L211.23,278.7 L213.92,278.5 L216.61,278.31 L219.3,278.12 L221.99,277.92 L224.68,277.73 L227.37,277.54 L230.06,277.34 L232.75,277.15 L235.44,276.96 L238.13,276.77 L240.82,276.57 L243.51,276.38 L246.2,276.19 L248.89,275.99 L251.58,275.8 L254.27,275.61 L256.96,275.42 L259.65,275.22 L262.34,275.03 L265.03,274.84 L267.72,274.64 L270.41,274.45 L273.1,274.26 L275.79,274.07 L278.48,273.87 L281.17,273.68 L283.86,273.49 L286.55,273.29 L289.24,273.1 L291.93,272.91 L294.62,272.71 L297.31,272.52 L300,272.33 L302.69,272.14 L305.38,271.94 L308.07,271.75 L310.76,271.56 L313.45,271.36 L316.14,271.17 L318.83,270.98 L321.52,270.79 L324.21,270.59 L326.9,270.4" fill="none" stroke="#6a6a6a" stroke-width="0.55" stroke-linejoin="round" stroke-linecap="butt"/>
<path d="M192.4,270.4 L193.33,270.04 L194.26,269.68 L195.2,269.3 L196.13,268.9 L197.06,268.48 L197.99,268.05 L198.93,267.62 L199.86,267.18 L200.79,266.73 L201.72,266.3 L202.66,265.86 L203.59,265.44 L204.52,265.03 L205.45,264.64 L206.39,264.27 L207.32,263.9 L207.32,270.4 L192.4,270.4 Z" fill="#b03903"/>
<path d="M206.12,264.37 L207.61,263.79 L209.09,263.23 L210.58,262.69 L212.07,262.16 L213.56,261.65 L215.04,261.15 L216.53,260.66 L218.02,260.18 L219.5,259.7 L220.99,259.24 L222.48,258.79 L223.97,258.34 L225.45,257.92 L226.94,257.5 L228.43,257.1 L229.91,256.72 L229.91,270.4 L206.12,270.4 Z" fill="#d94801"/>
<path d="M228.72,257.03 L230,256.7 L231.29,256.38 L232.57,256.06 L233.86,255.75 L235.14,255.45 L236.43,255.16 L237.71,254.87 L239,254.6 L240.28,254.33 L241.57,254.07 L242.86,253.81 L244.14,253.56 L245.43,253.32 L246.71,253.08 L248,252.85 L249.28,252.63 L249.28,270.4 L228.72,270.4 Z" fill="#ec620f"/>
<path d="M248.08,252.84 L249.05,252.67 L250.02,252.51 L250.98,252.36 L251.95,252.21 L252.91,252.07 L253.88,251.93 L254.85,251.8 L255.81,251.67 L256.78,251.55 L257.74,251.43 L258.71,251.32 L259.68,251.21 L260.64,251.1 L261.61,250.99 L262.57,250.89 L263.54,250.78 L263.54,270.4 L248.08,270.4 Z" fill="#f87f2c"/>
<path d="M262.34,250.91 L263.34,250.8 L264.34,250.69 L265.34,250.59 L266.34,250.48 L267.34,250.37 L268.34,250.27 L269.34,250.17 L270.34,250.07 L271.34,249.97 L272.34,249.88 L273.34,249.78 L274.34,249.69 L275.34,249.6 L276.34,249.52 L277.34,249.44 L278.33,249.35 L278.33,270.4 L262.34,270.4 Z" fill="#fd9a4e"/>
<path d="M277.13,249.45 L278.04,249.38 L278.95,249.31 L279.86,249.23 L280.76,249.16 L281.67,249.1 L282.58,249.03 L283.49,248.96 L284.39,248.9 L285.3,248.84 L286.21,248.77 L287.11,248.71 L288.02,248.66 L288.93,248.6 L289.84,248.54 L290.74,248.49 L291.65,248.44 L291.65,270.4 L277.13,270.4 Z" fill="#fdb576"/>
<path d="M290.45,248.51 L291.3,248.46 L292.15,248.41 L293,248.36 L293.84,248.31 L294.69,248.26 L295.54,248.21 L296.39,248.17 L297.24,248.12 L298.09,248.08 L298.93,248.04 L299.78,248 L300.63,247.96 L301.48,247.92 L302.33,247.89 L303.18,247.85 L304.02,247.82 L304.02,270.4 L290.45,270.4 Z" fill="#fdd1a3"/>
<path d="M302.82,247.87 L303.67,247.83 L304.52,247.8 L305.37,247.77 L306.22,247.74 L307.07,247.71 L307.91,247.68 L308.76,247.65 L309.61,247.62 L310.46,247.6 L311.31,247.57 L312.16,247.55 L313,247.53 L313.85,247.5 L314.7,247.48 L315.55,247.47 L316.4,247.45 L316.4,270.4 L302.82,270.4 Z" fill="#fee2c6"/>
<path d="M315.2,247.47 L315.93,247.46 L316.66,247.44 L317.39,247.43 L318.12,247.41 L318.86,247.4 L319.59,247.39 L320.32,247.37 L321.05,247.36 L321.78,247.35 L322.51,247.34 L323.24,247.33 L323.97,247.32 L324.71,247.31 L325.44,247.3 L326.17,247.3 L326.9,247.29 L326.9,270.4 L315.2,270.4 Z" fill="#ffefe0"/>
<path d="M206.12,270.4 L206.12,264.37" fill="none" stroke="#000" stroke-width="0.7" stroke-linejoin="round" stroke-linecap="butt" opacity="1.0"/>
<path d="M192.4,270.4 L326.9,270.4" fill="none" stroke="#0000ff" stroke-width="1.0" stroke-linejoin="round" stroke-linecap="butt" opacity="0.82"/>
<path d="M192.4,270.4 L193.75,269.88 L195.09,269.34 L196.44,268.76 L197.78,268.15 L199.12,267.52 L200.47,266.89 L201.81,266.25 L203.16,265.63 L204.5,265.04 L205.85,264.48 L207.19,263.95 L208.54,263.44 L209.88,262.94 L211.23,262.45 L212.57,261.98 L213.92,261.52 L215.27,261.07 L216.61,260.63 L217.96,260.2 L219.3,259.77 L220.65,259.35 L221.99,258.93 L223.34,258.53 L224.68,258.14 L226.03,257.76 L227.37,257.39 L228.72,257.03 L230.06,256.68 L231.41,256.35 L232.75,256.02 L234.09,255.7 L235.44,255.38 L236.78,255.08 L238.13,254.78 L239.47,254.5 L240.82,254.22 L242.16,253.95 L243.51,253.68 L244.85,253.43 L246.2,253.18 L247.54,252.93 L248.89,252.7 L250.23,252.48 L251.58,252.26 L252.93,252.06 L254.27,251.88 L255.61,251.7 L256.96,251.53 L258.31,251.37 L259.65,251.21 L261,251.06 L262.34,250.91 L263.69,250.76 L265.03,250.62 L266.38,250.48 L267.72,250.33 L269.06,250.2 L270.41,250.06 L271.75,249.93 L273.1,249.81 L274.44,249.68 L275.79,249.56 L277.13,249.45 L278.48,249.34 L279.82,249.24 L281.17,249.13 L282.51,249.03 L283.86,248.94 L285.2,248.84 L286.55,248.75 L287.89,248.66 L289.24,248.58 L290.58,248.5 L291.93,248.42 L293.27,248.34 L294.62,248.26 L295.96,248.19 L297.31,248.12 L298.65,248.05 L300,247.99 L301.34,247.93 L302.69,247.87 L304.03,247.82 L305.38,247.77 L306.72,247.72 L308.07,247.67 L309.41,247.63 L310.76,247.59 L312.1,247.55 L313.45,247.51 L314.79,247.48 L316.14,247.45 L317.49,247.43 L318.83,247.4 L320.17,247.38 L321.52,247.35 L322.87,247.33 L324.21,247.32 L325.55,247.3 L326.9,247.29" fill="none" stroke="#000" stroke-width="1.0" stroke-linejoin="round" stroke-linecap="butt"/>
</g>
<path d="M192.4,291.3 v2.1 M219.3,291.3 v2.1 M246.2,291.3 v2.1 M273.1,291.3 v2.1 M300,291.3 v2.1 M326.9,291.3 v2.1 M192.4,289.5 h-2.1 M192.4,270.4 h-2.1 M192.4,251.3 h-2.1 M192.4,232.2 h-2.1" stroke="#000" stroke-width="0.6" fill="none"/>
<rect x="192.4" y="220.3" width="134.5" height="71" fill="none" stroke="#000" stroke-width="0.45"/>
<text x="192.4" y="299.65" font-size="5.83" text-anchor="middle" textLength="3.5" lengthAdjust="spacingAndGlyphs">0</text>
<text x="219.3" y="299.65" font-size="5.83" text-anchor="middle" textLength="10.5" lengthAdjust="spacingAndGlyphs">200</text>
<text x="246.2" y="299.65" font-size="5.83" text-anchor="middle" textLength="10.5" lengthAdjust="spacingAndGlyphs">400</text>
<text x="273.1" y="299.65" font-size="5.83" text-anchor="middle" textLength="10.5" lengthAdjust="spacingAndGlyphs">600</text>
<text x="300" y="299.65" font-size="5.83" text-anchor="middle" textLength="10.5" lengthAdjust="spacingAndGlyphs">800</text>
<text x="326.9" y="299.65" font-size="5.83" text-anchor="middle" textLength="14" lengthAdjust="spacingAndGlyphs">1000</text>
<g clip-path="url(#clip22)">
<path d="M353.9,273.07 L356.59,273.02 L359.28,272.97 L361.98,272.91 L364.67,272.86 L367.36,272.81 L370.05,272.75 L372.74,272.7 L375.44,272.65 L378.13,272.59 L380.82,272.54 L383.51,272.49 L386.2,272.43 L388.9,272.38 L391.59,272.33 L394.28,272.27 L396.97,272.22 L399.66,272.16 L402.36,272.11 L405.05,272.06 L407.74,272 L410.43,271.95 L413.12,271.9 L415.82,271.84 L418.51,271.79 L421.2,271.74 L423.89,271.68 L426.58,271.63 L429.28,271.58 L431.97,271.52 L434.66,271.47 L437.35,271.42 L440.04,271.36 L442.74,271.31 L445.43,271.26 L448.12,271.2 L450.81,271.15 L453.5,271.1 L456.2,271.04 L458.89,270.99 L461.58,270.93 L464.27,270.88 L466.96,270.83 L469.66,270.77 L472.35,270.72 L475.04,270.67 L477.73,270.61 L480.42,270.56 L483.12,270.51 L485.81,270.45 L488.5,270.4 L488.5,291.41 L353.9,291.41 Z" fill="#dcdcdc"/>
<rect x="353.9" y="270.4" width="1.15" height="2.66" fill="url(#g5)"/>
<rect x="354.9" y="270.4" width="1.15" height="2.64" fill="url(#g5)"/>
<rect x="355.9" y="270.4" width="1.15" height="2.62" fill="url(#g5)"/>
<rect x="356.9" y="270.4" width="1.15" height="2.6" fill="url(#g5)"/>
<rect x="357.9" y="270.4" width="1.15" height="2.58" fill="url(#g5)"/>
<rect x="358.9" y="270.4" width="1.15" height="2.56" fill="url(#g5)"/>
<rect x="359.9" y="270.4" width="1.15" height="2.54" fill="url(#g5)"/>
<rect x="360.9" y="270.4" width="1.15" height="2.53" fill="url(#g5)"/>
<rect x="361.9" y="270.4" width="1.15" height="2.51" fill="url(#g5)"/>
<rect x="362.9" y="270.4" width="1.15" height="2.49" fill="url(#g5)"/>
<rect x="363.9" y="270.4" width="1.15" height="2.47" fill="url(#g5)"/>
<rect x="364.9" y="270.4" width="1.15" height="2.45" fill="url(#g5)"/>
<rect x="365.9" y="270.4" width="1.15" height="2.43" fill="url(#g5)"/>
<rect x="366.9" y="270.4" width="1.15" height="2.41" fill="url(#g5)"/>
<rect x="367.9" y="270.4" width="1.15" height="2.39" fill="url(#g5)"/>
<rect x="368.9" y="270.4" width="1.15" height="2.37" fill="url(#g5)"/>
<rect x="369.9" y="270.4" width="1.15" height="2.35" fill="url(#g5)"/>
<rect x="370.9" y="270.4" width="1.15" height="2.33" fill="url(#g5)"/>
<rect x="371.9" y="270.4" width="1.15" height="2.31" fill="url(#g5)"/>
<rect x="372.9" y="270.4" width="1.15" height="2.29" fill="url(#g5)"/>
<rect x="373.9" y="270.4" width="1.15" height="2.27" fill="url(#g5)"/>
<rect x="374.9" y="270.4" width="1.15" height="2.25" fill="url(#g5)"/>
<rect x="375.9" y="270.4" width="1.15" height="2.23" fill="url(#g5)"/>
<rect x="376.9" y="270.4" width="1.15" height="2.21" fill="url(#g5)"/>
<rect x="377.9" y="270.4" width="1.15" height="2.19" fill="url(#g5)"/>
<rect x="378.9" y="270.4" width="1.15" height="2.17" fill="url(#g5)"/>
<rect x="379.9" y="270.4" width="1.15" height="2.15" fill="url(#g5)"/>
<rect x="380.9" y="270.4" width="1.15" height="2.13" fill="url(#g5)"/>
<rect x="381.9" y="270.4" width="1.15" height="2.11" fill="url(#g5)"/>
<rect x="382.9" y="270.4" width="1.15" height="2.09" fill="url(#g5)"/>
<rect x="383.9" y="270.4" width="1.15" height="2.07" fill="url(#g5)"/>
<rect x="384.9" y="270.4" width="1.15" height="2.05" fill="url(#g5)"/>
<rect x="385.9" y="270.4" width="1.15" height="2.03" fill="url(#g5)"/>
<rect x="386.9" y="270.4" width="1.15" height="2.01" fill="url(#g5)"/>
<rect x="387.9" y="270.4" width="1.15" height="1.99" fill="url(#g5)"/>
<rect x="388.9" y="270.4" width="1.15" height="1.97" fill="url(#g5)"/>
<rect x="389.9" y="270.4" width="1.15" height="1.95" fill="url(#g5)"/>
<rect x="390.9" y="270.4" width="1.15" height="1.93" fill="url(#g5)"/>
<rect x="391.9" y="270.4" width="1.15" height="1.91" fill="url(#g5)"/>
<rect x="392.9" y="270.4" width="1.15" height="1.89" fill="url(#g5)"/>
<rect x="393.9" y="270.4" width="1.15" height="1.87" fill="url(#g5)"/>
<rect x="394.9" y="270.4" width="1.15" height="1.85" fill="url(#g5)"/>
<rect x="395.9" y="270.4" width="1.15" height="1.83" fill="url(#g5)"/>
<rect x="396.9" y="270.4" width="1.15" height="1.81" fill="url(#g5)"/>
<rect x="397.9" y="270.4" width="1.15" height="1.79" fill="url(#g5)"/>
<rect x="398.9" y="270.4" width="1.15" height="1.77" fill="url(#g5)"/>
<rect x="399.9" y="270.4" width="1.15" height="1.75" fill="url(#g5)"/>
<rect x="400.9" y="270.4" width="1.15" height="1.73" fill="url(#g5)"/>
<rect x="401.9" y="270.4" width="1.15" height="1.71" fill="url(#g5)"/>
<rect x="402.9" y="270.4" width="1.15" height="1.69" fill="url(#g5)"/>
<rect x="403.9" y="270.4" width="1.15" height="1.67" fill="url(#g5)"/>
<rect x="404.9" y="270.4" width="1.15" height="1.65" fill="url(#g5)"/>
<rect x="405.9" y="270.4" width="1.15" height="1.63" fill="url(#g5)"/>
<rect x="406.9" y="270.4" width="1.15" height="1.61" fill="url(#g5)"/>
<rect x="407.9" y="270.4" width="1.15" height="1.59" fill="url(#g5)"/>
<rect x="408.9" y="270.4" width="1.15" height="1.57" fill="url(#g5)"/>
<rect x="409.9" y="270.4" width="1.15" height="1.55" fill="url(#g5)"/>
<rect x="410.9" y="270.4" width="1.15" height="1.53" fill="url(#g5)"/>
<rect x="411.9" y="270.4" width="1.15" height="1.51" fill="url(#g5)"/>
<rect x="412.9" y="270.4" width="1.15" height="1.49" fill="url(#g5)"/>
<rect x="413.9" y="270.4" width="1.15" height="1.47" fill="url(#g5)"/>
<rect x="414.9" y="270.4" width="1.15" height="1.45" fill="url(#g5)"/>
<rect x="415.9" y="270.4" width="1.15" height="1.43" fill="url(#g5)"/>
<rect x="416.9" y="270.4" width="1.15" height="1.41" fill="url(#g5)"/>
<rect x="417.9" y="270.4" width="1.15" height="1.39" fill="url(#g5)"/>
<rect x="418.9" y="270.4" width="1.15" height="1.37" fill="url(#g5)"/>
<rect x="419.9" y="270.4" width="1.15" height="1.35" fill="url(#g5)"/>
<rect x="420.9" y="270.4" width="1.15" height="1.33" fill="url(#g5)"/>
<rect x="421.9" y="270.4" width="1.15" height="1.31" fill="url(#g5)"/>
<rect x="422.9" y="270.4" width="1.15" height="1.29" fill="url(#g5)"/>
<rect x="423.9" y="270.4" width="1.15" height="1.27" fill="url(#g5)"/>
<rect x="424.9" y="270.4" width="1.15" height="1.25" fill="url(#g5)"/>
<rect x="425.9" y="270.4" width="1.15" height="1.23" fill="url(#g5)"/>
<rect x="426.9" y="270.4" width="1.15" height="1.21" fill="url(#g5)"/>
<rect x="427.9" y="270.4" width="1.15" height="1.19" fill="url(#g5)"/>
<rect x="428.9" y="270.4" width="1.15" height="1.17" fill="url(#g5)"/>
<rect x="429.9" y="270.4" width="1.15" height="1.15" fill="url(#g5)"/>
<rect x="430.9" y="270.4" width="1.15" height="1.13" fill="url(#g5)"/>
<rect x="431.9" y="270.4" width="1.15" height="1.11" fill="url(#g5)"/>
<rect x="432.9" y="270.4" width="1.15" height="1.09" fill="url(#g5)"/>
<rect x="433.9" y="270.4" width="1.15" height="1.07" fill="url(#g5)"/>
<rect x="434.9" y="270.4" width="1.15" height="1.05" fill="url(#g5)"/>
<rect x="435.9" y="270.4" width="1.15" height="1.04" fill="url(#g5)"/>
<rect x="436.9" y="270.4" width="1.15" height="1.02" fill="url(#g5)"/>
<rect x="437.9" y="270.4" width="1.15" height="1" fill="url(#g5)"/>
<rect x="438.9" y="270.4" width="1.15" height="0.98" fill="url(#g5)"/>
<rect x="439.9" y="270.4" width="1.15" height="0.96" fill="url(#g5)"/>
<rect x="440.9" y="270.4" width="1.15" height="0.94" fill="url(#g5)"/>
<rect x="441.9" y="270.4" width="1.15" height="0.92" fill="url(#g5)"/>
<rect x="442.9" y="270.4" width="1.15" height="0.9" fill="url(#g5)"/>
<rect x="443.9" y="270.4" width="1.15" height="0.88" fill="url(#g5)"/>
<rect x="444.9" y="270.4" width="1.15" height="0.86" fill="url(#g5)"/>
<rect x="445.9" y="270.4" width="1.15" height="0.84" fill="url(#g5)"/>
<rect x="446.9" y="270.4" width="1.15" height="0.82" fill="url(#g5)"/>
<rect x="447.9" y="270.4" width="1.15" height="0.8" fill="url(#g5)"/>
<rect x="448.9" y="270.4" width="1.15" height="0.78" fill="url(#g5)"/>
<rect x="449.9" y="270.4" width="1.15" height="0.76" fill="url(#g5)"/>
<rect x="450.9" y="270.4" width="1.15" height="0.74" fill="url(#g5)"/>
<rect x="451.9" y="270.4" width="1.15" height="0.72" fill="url(#g5)"/>
<rect x="452.9" y="270.4" width="1.15" height="0.7" fill="url(#g5)"/>
<rect x="453.9" y="270.4" width="1.15" height="0.68" fill="url(#g5)"/>
<rect x="454.9" y="270.4" width="1.15" height="0.66" fill="url(#g5)"/>
<rect x="455.9" y="270.4" width="1.15" height="0.64" fill="url(#g5)"/>
<rect x="456.9" y="270.4" width="1.15" height="0.62" fill="url(#g5)"/>
<rect x="457.9" y="270.4" width="1.15" height="0.6" fill="url(#g5)"/>
<rect x="458.9" y="270.4" width="1.15" height="0.58" fill="url(#g5)"/>
<rect x="459.9" y="270.4" width="1.15" height="0.56" fill="url(#g5)"/>
<rect x="460.9" y="270.4" width="1.15" height="0.54" fill="url(#g5)"/>
<rect x="461.9" y="270.4" width="1.15" height="0.52" fill="url(#g5)"/>
<rect x="462.9" y="270.4" width="1.15" height="0.5" fill="url(#g5)"/>
<rect x="463.9" y="270.4" width="1.15" height="0.48" fill="url(#g5)"/>
<rect x="464.9" y="270.4" width="1.15" height="0.46" fill="url(#g5)"/>
<rect x="465.9" y="270.4" width="1.15" height="0.44" fill="url(#g5)"/>
<rect x="466.9" y="270.4" width="1.15" height="0.42" fill="url(#g5)"/>
<rect x="467.9" y="270.4" width="1.15" height="0.4" fill="url(#g5)"/>
<rect x="468.9" y="270.4" width="1.15" height="0.38" fill="url(#g5)"/>
<rect x="469.9" y="270.4" width="1.15" height="0.36" fill="url(#g5)"/>
<rect x="470.9" y="270.4" width="1.15" height="0.34" fill="url(#g5)"/>
<rect x="471.9" y="270.4" width="1.15" height="0.32" fill="url(#g5)"/>
<rect x="472.9" y="270.4" width="1.15" height="0.3" fill="url(#g5)"/>
<rect x="473.9" y="270.4" width="1.15" height="0.28" fill="url(#g5)"/>
<rect x="474.9" y="270.4" width="1.15" height="0.26" fill="url(#g5)"/>
<rect x="475.9" y="270.4" width="1.15" height="0.24" fill="url(#g5)"/>
<rect x="476.9" y="270.4" width="1.15" height="0.22" fill="url(#g5)"/>
<rect x="477.9" y="270.4" width="1.15" height="0.2" fill="url(#g5)"/>
<rect x="478.9" y="270.4" width="1.15" height="0.18" fill="url(#g5)"/>
<rect x="479.9" y="270.4" width="1.15" height="0.16" fill="url(#g5)"/>
<rect x="480.9" y="270.4" width="1.15" height="0.14" fill="url(#g5)"/>
<rect x="481.9" y="270.4" width="1.15" height="0.12" fill="url(#g5)"/>
<rect x="482.9" y="270.4" width="1.15" height="0.1" fill="url(#g5)"/>
<rect x="483.9" y="270.4" width="1.15" height="0.08" fill="url(#g5)"/>
<rect x="484.9" y="270.4" width="1.15" height="0.06" fill="url(#g5)"/>
<path d="M353.9,273.07 L356.59,273.02 L359.28,272.97 L361.98,272.91 L364.67,272.86 L367.36,272.81 L370.05,272.75 L372.74,272.7 L375.44,272.65 L378.13,272.59 L380.82,272.54 L383.51,272.49 L386.2,272.43 L388.9,272.38 L391.59,272.33 L394.28,272.27 L396.97,272.22 L399.66,272.16 L402.36,272.11 L405.05,272.06 L407.74,272 L410.43,271.95 L413.12,271.9 L415.82,271.84 L418.51,271.79 L421.2,271.74 L423.89,271.68 L426.58,271.63 L429.28,271.58 L431.97,271.52 L434.66,271.47 L437.35,271.42 L440.04,271.36 L442.74,271.31 L445.43,271.26 L448.12,271.2 L450.81,271.15 L453.5,271.1 L456.2,271.04 L458.89,270.99 L461.58,270.93 L464.27,270.88 L466.96,270.83 L469.66,270.77 L472.35,270.72 L475.04,270.67 L477.73,270.61 L480.42,270.56 L483.12,270.51 L485.81,270.45 L488.5,270.4" fill="none" stroke="#6a6a6a" stroke-width="0.55" stroke-linejoin="round" stroke-linecap="butt"/>
<path d="M353.9,270.4 L356.97,269.7 L360.04,269.01 L363.11,268.34 L366.18,267.69 L369.25,267.05 L372.32,266.43 L375.39,265.83 L378.46,265.24 L381.53,264.67 L384.6,264.11 L387.67,263.57 L390.74,263.05 L393.81,262.54 L396.88,262.05 L399.95,261.57 L403.02,261.11 L403.02,270.4 L353.9,270.4 Z" fill="#fee2c6"/>
<path d="M401.82,261.29 L407.24,260.51 L412.65,259.78 L418.07,259.1 L423.49,258.46 L428.91,257.88 L434.32,257.36 L439.74,256.88 L445.16,256.45 L450.58,256.07 L455.99,255.74 L461.41,255.46 L466.83,255.24 L472.25,255.06 L477.66,254.93 L483.08,254.86 L488.5,254.83 L488.5,270.4 L401.82,270.4 Z" fill="#ffefe0"/>
<path d="M353.9,270.4 L488.5,270.4" fill="none" stroke="#0000ff" stroke-width="1.0" stroke-linejoin="round" stroke-linecap="butt" opacity="0.82"/>
<path d="M353.9,270.4 L355.25,270.09 L356.59,269.78 L357.94,269.48 L359.28,269.18 L360.63,268.88 L361.98,268.59 L363.32,268.3 L364.67,268.01 L366.01,267.72 L367.36,267.44 L368.71,267.16 L370.05,266.89 L371.4,266.62 L372.74,266.35 L374.09,266.08 L375.44,265.82 L376.78,265.56 L378.13,265.3 L379.47,265.05 L380.82,264.8 L382.17,264.55 L383.51,264.3 L384.86,264.06 L386.2,263.82 L387.55,263.59 L388.9,263.36 L390.24,263.13 L391.59,262.9 L392.93,262.68 L394.28,262.46 L395.63,262.24 L396.97,262.03 L398.32,261.82 L399.66,261.61 L401.01,261.41 L402.36,261.21 L403.7,261.01 L405.05,260.82 L406.39,260.63 L407.74,260.44 L409.09,260.25 L410.43,260.07 L411.78,259.89 L413.12,259.72 L414.47,259.54 L415.82,259.37 L417.16,259.21 L418.51,259.04 L419.85,258.88 L421.2,258.73 L422.55,258.57 L423.89,258.42 L425.24,258.27 L426.58,258.13 L427.93,257.99 L429.28,257.85 L430.62,257.71 L431.97,257.58 L433.31,257.45 L434.66,257.32 L436.01,257.2 L437.35,257.08 L438.7,256.96 L440.04,256.85 L441.39,256.74 L442.74,256.63 L444.08,256.53 L445.43,256.43 L446.77,256.33 L448.12,256.23 L449.47,256.14 L450.81,256.05 L452.16,255.97 L453.5,255.89 L454.85,255.81 L456.2,255.73 L457.54,255.66 L458.89,255.59 L460.23,255.52 L461.58,255.46 L462.93,255.4 L464.27,255.34 L465.62,255.28 L466.96,255.23 L468.31,255.18 L469.66,255.14 L471,255.1 L472.35,255.06 L473.69,255.02 L475.04,254.99 L476.39,254.96 L477.73,254.93 L479.08,254.91 L480.42,254.89 L481.77,254.87 L483.12,254.86 L484.46,254.85 L485.81,254.84 L487.15,254.84 L488.5,254.83" fill="none" stroke="#000" stroke-width="1.0" stroke-linejoin="round" stroke-linecap="butt"/>
</g>
<path d="M353.9,291.3 v2.1 M380.82,291.3 v2.1 M407.74,291.3 v2.1 M434.66,291.3 v2.1 M461.58,291.3 v2.1 M488.5,291.3 v2.1 M353.9,289.5 h-2.1 M353.9,270.4 h-2.1 M353.9,251.3 h-2.1 M353.9,232.2 h-2.1" stroke="#000" stroke-width="0.6" fill="none"/>
<rect x="353.9" y="220.3" width="134.6" height="71" fill="none" stroke="#000" stroke-width="0.45"/>
<text x="353.9" y="299.65" font-size="5.83" text-anchor="middle" textLength="3.5" lengthAdjust="spacingAndGlyphs">0</text>
<text x="380.82" y="299.65" font-size="5.83" text-anchor="middle" textLength="10.5" lengthAdjust="spacingAndGlyphs">200</text>
<text x="407.74" y="299.65" font-size="5.83" text-anchor="middle" textLength="10.5" lengthAdjust="spacingAndGlyphs">400</text>
<text x="434.66" y="299.65" font-size="5.83" text-anchor="middle" textLength="10.5" lengthAdjust="spacingAndGlyphs">600</text>
<text x="461.58" y="299.65" font-size="5.83" text-anchor="middle" textLength="10.5" lengthAdjust="spacingAndGlyphs">800</text>
<text x="488.5" y="299.65" font-size="5.83" text-anchor="middle" textLength="14" lengthAdjust="spacingAndGlyphs">1000</text>
<g clip-path="url(#clip30)">
<path d="M31.5,372.7 L34.18,372.65 L36.86,372.59 L39.53,372.54 L42.21,372.49 L44.89,372.43 L47.57,372.38 L50.25,372.32 L52.92,372.27 L55.6,372.22 L58.28,372.16 L60.96,372.11 L63.64,372.05 L66.31,372 L68.99,371.95 L71.67,371.89 L74.35,371.84 L77.03,371.78 L79.7,371.73 L82.38,371.68 L85.06,371.62 L87.74,371.57 L90.42,371.51 L93.09,371.46 L95.77,371.41 L98.45,371.35 L101.13,371.3 L103.81,371.24 L106.48,371.19 L109.16,371.13 L111.84,371.08 L114.52,371.03 L117.2,370.97 L119.87,370.92 L122.55,370.86 L125.23,370.81 L127.91,370.76 L130.59,370.7 L133.26,370.65 L135.94,370.59 L138.62,370.54 L141.3,370.49 L143.98,370.43 L146.65,370.38 L149.33,370.32 L152.01,370.27 L154.69,370.22 L157.37,370.16 L160.04,370.11 L162.72,370.05 L165.4,370 L165.4,391.23 L31.5,391.23 Z" fill="#dcdcdc"/>
<rect x="31.5" y="370" width="1.15" height="2.69" fill="url(#g5)"/>
<rect x="32.5" y="370" width="1.15" height="2.67" fill="url(#g5)"/>
<rect x="33.5" y="370" width="1.15" height="2.65" fill="url(#g5)"/>
<rect x="34.5" y="370" width="1.15" height="2.63" fill="url(#g5)"/>
<rect x="35.5" y="370" width="1.15" height="2.61" fill="url(#g5)"/>
<rect x="36.5" y="370" width="1.15" height="2.59" fill="url(#g5)"/>
<rect x="37.5" y="370" width="1.15" height="2.57" fill="url(#g5)"/>
<rect x="38.5" y="370" width="1.15" height="2.55" fill="url(#g5)"/>
<rect x="39.5" y="370" width="1.15" height="2.53" fill="url(#g5)"/>
<rect x="40.5" y="370" width="1.15" height="2.51" fill="url(#g5)"/>
<rect x="41.5" y="370" width="1.15" height="2.49" fill="url(#g5)"/>
<rect x="42.5" y="370" width="1.15" height="2.47" fill="url(#g5)"/>
<rect x="43.5" y="370" width="1.15" height="2.45" fill="url(#g5)"/>
<rect x="44.5" y="370" width="1.15" height="2.43" fill="url(#g5)"/>
<rect x="45.5" y="370" width="1.15" height="2.41" fill="url(#g5)"/>
<rect x="46.5" y="370" width="1.15" height="2.39" fill="url(#g5)"/>
<rect x="47.5" y="370" width="1.15" height="2.37" fill="url(#g5)"/>
<rect x="48.5" y="370" width="1.15" height="2.35" fill="url(#g5)"/>
<rect x="49.5" y="370" width="1.15" height="2.33" fill="url(#g5)"/>
<rect x="50.5" y="370" width="1.15" height="2.31" fill="url(#g5)"/>
<rect x="51.5" y="370" width="1.15" height="2.29" fill="url(#g5)"/>
<rect x="52.5" y="370" width="1.15" height="2.27" fill="url(#g5)"/>
<rect x="53.5" y="370" width="1.15" height="2.25" fill="url(#g5)"/>
<rect x="54.5" y="370" width="1.15" height="2.23" fill="url(#g5)"/>
<rect x="55.5" y="370" width="1.15" height="2.21" fill="url(#g5)"/>
<rect x="56.5" y="370" width="1.15" height="2.19" fill="url(#g5)"/>
<rect x="57.5" y="370" width="1.15" height="2.17" fill="url(#g5)"/>
<rect x="58.5" y="370" width="1.15" height="2.15" fill="url(#g5)"/>
<rect x="59.5" y="370" width="1.15" height="2.13" fill="url(#g5)"/>
<rect x="60.5" y="370" width="1.15" height="2.11" fill="url(#g5)"/>
<rect x="61.5" y="370" width="1.15" height="2.09" fill="url(#g5)"/>
<rect x="62.5" y="370" width="1.15" height="2.07" fill="url(#g5)"/>
<rect x="63.5" y="370" width="1.15" height="2.05" fill="url(#g5)"/>
<rect x="64.5" y="370" width="1.15" height="2.03" fill="url(#g5)"/>
<rect x="65.5" y="370" width="1.15" height="2.01" fill="url(#g5)"/>
<rect x="66.5" y="370" width="1.15" height="1.99" fill="url(#g5)"/>
<rect x="67.5" y="370" width="1.15" height="1.97" fill="url(#g5)"/>
<rect x="68.5" y="370" width="1.15" height="1.95" fill="url(#g5)"/>
<rect x="69.5" y="370" width="1.15" height="1.93" fill="url(#g5)"/>
<rect x="70.5" y="370" width="1.15" height="1.9" fill="url(#g5)"/>
<rect x="71.5" y="370" width="1.15" height="1.88" fill="url(#g5)"/>
<rect x="72.5" y="370" width="1.15" height="1.86" fill="url(#g5)"/>
<rect x="73.5" y="370" width="1.15" height="1.84" fill="url(#g5)"/>
<rect x="74.5" y="370" width="1.15" height="1.82" fill="url(#g5)"/>
<rect x="75.5" y="370" width="1.15" height="1.8" fill="url(#g5)"/>
<rect x="76.5" y="370" width="1.15" height="1.78" fill="url(#g5)"/>
<rect x="77.5" y="370" width="1.15" height="1.76" fill="url(#g5)"/>
<rect x="78.5" y="370" width="1.15" height="1.74" fill="url(#g5)"/>
<rect x="79.5" y="370" width="1.15" height="1.72" fill="url(#g5)"/>
<rect x="80.5" y="370" width="1.15" height="1.7" fill="url(#g5)"/>
<rect x="81.5" y="370" width="1.15" height="1.68" fill="url(#g5)"/>
<rect x="82.5" y="370" width="1.15" height="1.66" fill="url(#g5)"/>
<rect x="83.5" y="370" width="1.15" height="1.64" fill="url(#g5)"/>
<rect x="84.5" y="370" width="1.15" height="1.62" fill="url(#g5)"/>
<rect x="85.5" y="370" width="1.15" height="1.6" fill="url(#g5)"/>
<rect x="86.5" y="370" width="1.15" height="1.58" fill="url(#g5)"/>
<rect x="87.5" y="370" width="1.15" height="1.56" fill="url(#g5)"/>
<rect x="88.5" y="370" width="1.15" height="1.54" fill="url(#g5)"/>
<rect x="89.5" y="370" width="1.15" height="1.52" fill="url(#g5)"/>
<rect x="90.5" y="370" width="1.15" height="1.5" fill="url(#g5)"/>
<rect x="91.5" y="370" width="1.15" height="1.48" fill="url(#g5)"/>
<rect x="92.5" y="370" width="1.15" height="1.46" fill="url(#g5)"/>
<rect x="93.5" y="370" width="1.15" height="1.44" fill="url(#g5)"/>
<rect x="94.5" y="370" width="1.15" height="1.42" fill="url(#g5)"/>
<rect x="95.5" y="370" width="1.15" height="1.4" fill="url(#g5)"/>
<rect x="96.5" y="370" width="1.15" height="1.38" fill="url(#g5)"/>
<rect x="97.5" y="370" width="1.15" height="1.36" fill="url(#g5)"/>
<rect x="98.5" y="370" width="1.15" height="1.34" fill="url(#g5)"/>
<rect x="99.5" y="370" width="1.15" height="1.32" fill="url(#g5)"/>
<rect x="100.5" y="370" width="1.15" height="1.3" fill="url(#g5)"/>
<rect x="101.5" y="370" width="1.15" height="1.28" fill="url(#g5)"/>
<rect x="102.5" y="370" width="1.15" height="1.26" fill="url(#g5)"/>
<rect x="103.5" y="370" width="1.15" height="1.24" fill="url(#g5)"/>
<rect x="104.5" y="370" width="1.15" height="1.22" fill="url(#g5)"/>
<rect x="105.5" y="370" width="1.15" height="1.2" fill="url(#g5)"/>
<rect x="106.5" y="370" width="1.15" height="1.18" fill="url(#g5)"/>
<rect x="107.5" y="370" width="1.15" height="1.16" fill="url(#g5)"/>
<rect x="108.5" y="370" width="1.15" height="1.14" fill="url(#g5)"/>
<rect x="109.5" y="370" width="1.15" height="1.12" fill="url(#g5)"/>
<rect x="110.5" y="370" width="1.15" height="1.1" fill="url(#g5)"/>
<rect x="111.5" y="370" width="1.15" height="1.08" fill="url(#g5)"/>
<rect x="112.5" y="370" width="1.15" height="1.06" fill="url(#g5)"/>
<rect x="113.5" y="370" width="1.15" height="1.04" fill="url(#g5)"/>
<rect x="114.5" y="370" width="1.15" height="1.02" fill="url(#g5)"/>
<rect x="115.5" y="370" width="1.15" height="1" fill="url(#g5)"/>
<rect x="116.5" y="370" width="1.15" height="0.98" fill="url(#g5)"/>
<rect x="117.5" y="370" width="1.15" height="0.96" fill="url(#g5)"/>
<rect x="118.5" y="370" width="1.15" height="0.94" fill="url(#g5)"/>
<rect x="119.5" y="370" width="1.15" height="0.92" fill="url(#g5)"/>
<rect x="120.5" y="370" width="1.15" height="0.9" fill="url(#g5)"/>
<rect x="121.5" y="370" width="1.15" height="0.88" fill="url(#g5)"/>
<rect x="122.5" y="370" width="1.15" height="0.86" fill="url(#g5)"/>
<rect x="123.5" y="370" width="1.15" height="0.84" fill="url(#g5)"/>
<rect x="124.5" y="370" width="1.15" height="0.82" fill="url(#g5)"/>
<rect x="125.5" y="370" width="1.15" height="0.8" fill="url(#g5)"/>
<rect x="126.5" y="370" width="1.15" height="0.77" fill="url(#g5)"/>
<rect x="127.5" y="370" width="1.15" height="0.75" fill="url(#g5)"/>
<rect x="128.5" y="370" width="1.15" height="0.73" fill="url(#g5)"/>
<rect x="129.5" y="370" width="1.15" height="0.71" fill="url(#g5)"/>
<rect x="130.5" y="370" width="1.15" height="0.69" fill="url(#g5)"/>
<rect x="131.5" y="370" width="1.15" height="0.67" fill="url(#g5)"/>
<rect x="132.5" y="370" width="1.15" height="0.65" fill="url(#g5)"/>
<rect x="133.5" y="370" width="1.15" height="0.63" fill="url(#g5)"/>
<rect x="134.5" y="370" width="1.15" height="0.61" fill="url(#g5)"/>
<rect x="135.5" y="370" width="1.15" height="0.59" fill="url(#g5)"/>
<rect x="136.5" y="370" width="1.15" height="0.57" fill="url(#g5)"/>
<rect x="137.5" y="370" width="1.15" height="0.55" fill="url(#g5)"/>
<rect x="138.5" y="370" width="1.15" height="0.53" fill="url(#g5)"/>
<rect x="139.5" y="370" width="1.15" height="0.51" fill="url(#g5)"/>
<rect x="140.5" y="370" width="1.15" height="0.49" fill="url(#g5)"/>
<rect x="141.5" y="370" width="1.15" height="0.47" fill="url(#g5)"/>
<rect x="142.5" y="370" width="1.15" height="0.45" fill="url(#g5)"/>
<rect x="143.5" y="370" width="1.15" height="0.43" fill="url(#g5)"/>
<rect x="144.5" y="370" width="1.15" height="0.41" fill="url(#g5)"/>
<rect x="145.5" y="370" width="1.15" height="0.39" fill="url(#g5)"/>
<rect x="146.5" y="370" width="1.15" height="0.37" fill="url(#g5)"/>
<rect x="147.5" y="370" width="1.15" height="0.35" fill="url(#g5)"/>
<rect x="148.5" y="370" width="1.15" height="0.33" fill="url(#g5)"/>
<rect x="149.5" y="370" width="1.15" height="0.31" fill="url(#g5)"/>
<rect x="150.5" y="370" width="1.15" height="0.29" fill="url(#g5)"/>
<rect x="151.5" y="370" width="1.15" height="0.27" fill="url(#g5)"/>
<rect x="152.5" y="370" width="1.15" height="0.25" fill="url(#g5)"/>
<rect x="153.5" y="370" width="1.15" height="0.23" fill="url(#g5)"/>
<rect x="154.5" y="370" width="1.15" height="0.21" fill="url(#g5)"/>
<rect x="155.5" y="370" width="1.15" height="0.19" fill="url(#g5)"/>
<rect x="156.5" y="370" width="1.15" height="0.17" fill="url(#g5)"/>
<rect x="157.5" y="370" width="1.15" height="0.15" fill="url(#g5)"/>
<rect x="158.5" y="370" width="1.15" height="0.13" fill="url(#g5)"/>
<rect x="159.5" y="370" width="1.15" height="0.11" fill="url(#g5)"/>
<rect x="160.5" y="370" width="1.15" height="0.09" fill="url(#g5)"/>
<rect x="161.5" y="370" width="1.15" height="0.07" fill="url(#g5)"/>
<path d="M31.5,372.7 L34.18,372.65 L36.86,372.59 L39.53,372.54 L42.21,372.49 L44.89,372.43 L47.57,372.38 L50.25,372.32 L52.92,372.27 L55.6,372.22 L58.28,372.16 L60.96,372.11 L63.64,372.05 L66.31,372 L68.99,371.95 L71.67,371.89 L74.35,371.84 L77.03,371.78 L79.7,371.73 L82.38,371.68 L85.06,371.62 L87.74,371.57 L90.42,371.51 L93.09,371.46 L95.77,371.41 L98.45,371.35 L101.13,371.3 L103.81,371.24 L106.48,371.19 L109.16,371.13 L111.84,371.08 L114.52,371.03 L117.2,370.97 L119.87,370.92 L122.55,370.86 L125.23,370.81 L127.91,370.76 L130.59,370.7 L133.26,370.65 L135.94,370.59 L138.62,370.54 L141.3,370.49 L143.98,370.43 L146.65,370.38 L149.33,370.32 L152.01,370.27 L154.69,370.22 L157.37,370.16 L160.04,370.11 L162.72,370.05 L165.4,370" fill="none" stroke="#6a6a6a" stroke-width="0.55" stroke-linejoin="round" stroke-linecap="butt"/>
<path d="M31.5,370 L35.24,369.21 L38.98,368.44 L42.72,367.69 L46.46,366.96 L50.2,366.25 L53.94,365.55 L57.68,364.87 L61.42,364.21 L65.16,363.57 L68.91,362.95 L72.65,362.35 L76.39,361.76 L80.13,361.2 L83.87,360.65 L87.61,360.13 L91.35,359.62 L91.35,370 L31.5,370 Z" fill="#fee2c6"/>
<path d="M90.15,359.78 L94.85,359.17 L99.55,358.58 L104.26,358.03 L108.96,357.52 L113.66,357.03 L118.37,356.58 L123.07,356.17 L127.77,355.78 L132.48,355.44 L137.18,355.13 L141.88,354.87 L146.59,354.64 L151.29,354.45 L155.99,354.31 L160.7,354.21 L165.4,354.17 L165.4,370 L90.15,370 Z" fill="#ffefe0"/>
<path d="M31.5,370 L165.4,370" fill="none" stroke="#0000ff" stroke-width="1.0" stroke-linejoin="round" stroke-linecap="butt" opacity="0.82"/>
<path d="M31.5,370 L32.84,369.72 L34.18,369.43 L35.52,369.16 L36.86,368.88 L38.2,368.6 L39.53,368.33 L40.87,368.06 L42.21,367.79 L43.55,367.53 L44.89,367.27 L46.23,367.01 L47.57,366.75 L48.91,366.49 L50.25,366.24 L51.59,365.99 L52.92,365.74 L54.26,365.49 L55.6,365.25 L56.94,365 L58.28,364.76 L59.62,364.53 L60.96,364.29 L62.3,364.06 L63.64,363.83 L64.97,363.6 L66.31,363.38 L67.65,363.16 L68.99,362.94 L70.33,362.72 L71.67,362.5 L73.01,362.29 L74.35,362.08 L75.69,361.87 L77.03,361.67 L78.37,361.46 L79.7,361.26 L81.04,361.06 L82.38,360.87 L83.72,360.67 L85.06,360.48 L86.4,360.3 L87.74,360.11 L89.08,359.93 L90.42,359.75 L91.75,359.57 L93.09,359.39 L94.43,359.22 L95.77,359.05 L97.11,358.88 L98.45,358.72 L99.79,358.56 L101.13,358.4 L102.47,358.24 L103.81,358.09 L105.15,357.93 L106.48,357.78 L107.82,357.64 L109.16,357.49 L110.5,357.35 L111.84,357.22 L113.18,357.08 L114.52,356.95 L115.86,356.82 L117.2,356.69 L118.54,356.57 L119.87,356.44 L121.21,356.33 L122.55,356.21 L123.89,356.1 L125.23,355.99 L126.57,355.88 L127.91,355.77 L129.25,355.67 L130.59,355.57 L131.93,355.48 L133.26,355.39 L134.6,355.3 L135.94,355.21 L137.28,355.13 L138.62,355.05 L139.96,354.97 L141.3,354.9 L142.64,354.83 L143.98,354.76 L145.31,354.69 L146.65,354.63 L147.99,354.58 L149.33,354.52 L150.67,354.47 L152.01,354.42 L153.35,354.38 L154.69,354.34 L156.03,354.31 L157.37,354.27 L158.7,354.25 L160.04,354.22 L161.38,354.2 L162.72,354.19 L164.06,354.18 L165.4,354.17" fill="none" stroke="#000" stroke-width="1.0" stroke-linejoin="round" stroke-linecap="butt"/>
</g>
<path d="M31.5,391.4 v2.1 M58.28,391.4 v2.1 M85.06,391.4 v2.1 M111.84,391.4 v2.1 M138.62,391.4 v2.1 M165.4,391.4 v2.1 M31.5,389.3 h-2.1 M31.5,370 h-2.1 M31.5,350.7 h-2.1 M31.5,331.4 h-2.1" stroke="#000" stroke-width="0.6" fill="none"/>
<rect x="31.5" y="320.4" width="133.9" height="71" fill="none" stroke="#000" stroke-width="0.45"/>
<text x="31.5" y="399.75" font-size="5.83" text-anchor="middle" textLength="3.5" lengthAdjust="spacingAndGlyphs">0</text>
<text x="58.28" y="399.75" font-size="5.83" text-anchor="middle" textLength="10.5" lengthAdjust="spacingAndGlyphs">200</text>
<text x="85.06" y="399.75" font-size="5.83" text-anchor="middle" textLength="10.5" lengthAdjust="spacingAndGlyphs">400</text>
<text x="111.84" y="399.75" font-size="5.83" text-anchor="middle" textLength="10.5" lengthAdjust="spacingAndGlyphs">600</text>
<text x="138.62" y="399.75" font-size="5.83" text-anchor="middle" textLength="10.5" lengthAdjust="spacingAndGlyphs">800</text>
<text x="165.4" y="399.75" font-size="5.83" text-anchor="middle" textLength="14" lengthAdjust="spacingAndGlyphs">1000</text>
<text x="27.65" y="391.2" font-size="5.83" text-anchor="end" textLength="15.11" lengthAdjust="spacingAndGlyphs">−200</text>
<text x="27.65" y="371.9" font-size="5.83" text-anchor="end" textLength="3.5" lengthAdjust="spacingAndGlyphs">0</text>
<text x="27.65" y="352.6" font-size="5.83" text-anchor="end" textLength="10.5" lengthAdjust="spacingAndGlyphs">200</text>
<text x="27.65" y="333.3" font-size="5.83" text-anchor="end" textLength="10.5" lengthAdjust="spacingAndGlyphs">400</text>
<g clip-path="url(#clip31)">
<path d="M192.4,379.75 L195.09,379.55 L197.78,379.36 L200.47,379.16 L203.16,378.97 L205.85,378.77 L208.54,378.58 L211.23,378.38 L213.92,378.19 L216.61,377.99 L219.3,377.8 L221.99,377.6 L224.68,377.41 L227.37,377.21 L230.06,377.02 L232.75,376.82 L235.44,376.63 L238.13,376.43 L240.82,376.24 L243.51,376.04 L246.2,375.85 L248.89,375.65 L251.58,375.46 L254.27,375.26 L256.96,375.07 L259.65,374.87 L262.34,374.68 L265.03,374.48 L267.72,374.29 L270.41,374.09 L273.1,373.9 L275.79,373.7 L278.48,373.51 L281.17,373.31 L283.86,373.12 L286.55,372.92 L289.24,372.73 L291.93,372.53 L294.62,372.34 L297.31,372.14 L300,371.95 L302.69,371.75 L305.38,371.56 L308.07,371.36 L310.76,371.17 L313.45,370.97 L316.14,370.78 L318.83,370.58 L321.52,370.39 L324.21,370.19 L326.9,370 L326.9,391.23 L192.4,391.23 Z" fill="#dcdcdc"/>
<rect x="192.4" y="370" width="1.15" height="9.71" fill="url(#g1)"/>
<rect x="193.4" y="370" width="1.15" height="9.64" fill="url(#g1)"/>
<rect x="194.4" y="370" width="1.15" height="9.57" fill="url(#g1)"/>
<rect x="195.4" y="370" width="1.15" height="9.49" fill="url(#g1)"/>
<rect x="196.4" y="370" width="1.15" height="9.42" fill="url(#g1)"/>
<rect x="197.4" y="370" width="1.15" height="9.35" fill="url(#g1)"/>
<rect x="198.4" y="370" width="1.15" height="9.28" fill="url(#g1)"/>
<rect x="199.4" y="370" width="1.15" height="9.2" fill="url(#g1)"/>
<rect x="200.4" y="370" width="1.15" height="9.13" fill="url(#g1)"/>
<rect x="201.4" y="370" width="1.15" height="9.06" fill="url(#g1)"/>
<rect x="202.4" y="370" width="1.15" height="8.99" fill="url(#g1)"/>
<rect x="203.4" y="370" width="1.15" height="8.91" fill="url(#g1)"/>
<rect x="204.4" y="370" width="1.15" height="8.84" fill="url(#g1)"/>
<rect x="205.4" y="370" width="1.15" height="8.77" fill="url(#g1)"/>
<rect x="206.4" y="370" width="1.15" height="8.7" fill="url(#g1)"/>
<rect x="207.4" y="370" width="1.15" height="8.62" fill="url(#g1)"/>
<rect x="208.4" y="370" width="1.15" height="8.55" fill="url(#g1)"/>
<rect x="209.4" y="370" width="1.15" height="8.48" fill="url(#g1)"/>
<rect x="210.4" y="370" width="1.15" height="8.41" fill="url(#g1)"/>
<rect x="211.4" y="370" width="1.15" height="8.33" fill="url(#g1)"/>
<rect x="212.4" y="370" width="1.15" height="8.26" fill="url(#g1)"/>
<rect x="213.4" y="370" width="1.15" height="8.19" fill="url(#g1)"/>
<rect x="214.4" y="370" width="1.15" height="8.12" fill="url(#g1)"/>
<rect x="215.4" y="370" width="1.15" height="8.04" fill="url(#g1)"/>
<rect x="216.4" y="370" width="1.15" height="7.97" fill="url(#g1)"/>
<rect x="217.4" y="370" width="1.15" height="7.9" fill="url(#g1)"/>
<rect x="218.4" y="370" width="1.15" height="7.83" fill="url(#g1)"/>
<rect x="219.4" y="370" width="1.15" height="7.75" fill="url(#g1)"/>
<rect x="220.4" y="370" width="1.15" height="7.68" fill="url(#g1)"/>
<rect x="221.4" y="370" width="1.15" height="7.61" fill="url(#g1)"/>
<rect x="222.4" y="370" width="1.15" height="7.54" fill="url(#g1)"/>
<rect x="223.4" y="370" width="1.15" height="7.46" fill="url(#g1)"/>
<rect x="224.4" y="370" width="1.15" height="7.39" fill="url(#g1)"/>
<rect x="225.4" y="370" width="1.15" height="7.32" fill="url(#g1)"/>
<rect x="226.4" y="370" width="1.15" height="7.25" fill="url(#g1)"/>
<rect x="227.4" y="370" width="1.15" height="7.17" fill="url(#g1)"/>
<rect x="228.4" y="370" width="1.15" height="7.1" fill="url(#g1)"/>
<rect x="229.4" y="370" width="1.15" height="7.03" fill="url(#g1)"/>
<rect x="230.4" y="370" width="1.15" height="6.96" fill="url(#g1)"/>
<rect x="231.4" y="370" width="1.15" height="6.88" fill="url(#g1)"/>
<rect x="232.4" y="370" width="1.15" height="6.81" fill="url(#g1)"/>
<rect x="233.4" y="370" width="1.15" height="6.74" fill="url(#g1)"/>
<rect x="234.4" y="370" width="1.15" height="6.67" fill="url(#g1)"/>
<rect x="235.4" y="370" width="1.15" height="6.59" fill="url(#g1)"/>
<rect x="236.4" y="370" width="1.15" height="6.52" fill="url(#g1)"/>
<rect x="237.4" y="370" width="1.15" height="6.45" fill="url(#g1)"/>
<rect x="238.4" y="370" width="1.15" height="6.38" fill="url(#g1)"/>
<rect x="239.4" y="370" width="1.15" height="6.3" fill="url(#g1)"/>
<rect x="240.4" y="370" width="1.15" height="6.23" fill="url(#g1)"/>
<rect x="241.4" y="370" width="1.15" height="6.16" fill="url(#g1)"/>
<rect x="242.4" y="370" width="1.15" height="6.09" fill="url(#g1)"/>
<rect x="243.4" y="370" width="1.15" height="6.01" fill="url(#g1)"/>
<rect x="244.4" y="370" width="1.15" height="5.94" fill="url(#g1)"/>
<rect x="245.4" y="370" width="1.15" height="5.87" fill="url(#g1)"/>
<rect x="246.4" y="370" width="1.15" height="5.8" fill="url(#g1)"/>
<rect x="247.4" y="370" width="1.15" height="5.72" fill="url(#g1)"/>
<rect x="248.4" y="370" width="1.15" height="5.65" fill="url(#g1)"/>
<rect x="249.4" y="370" width="1.15" height="5.58" fill="url(#g1)"/>
<rect x="250.4" y="370" width="1.15" height="5.51" fill="url(#g1)"/>
<rect x="251.4" y="370" width="1.15" height="5.43" fill="url(#g1)"/>
<rect x="252.4" y="370" width="1.15" height="5.36" fill="url(#g1)"/>
<rect x="253.4" y="370" width="1.15" height="5.29" fill="url(#g1)"/>
<rect x="254.4" y="370" width="1.15" height="5.22" fill="url(#g1)"/>
<rect x="255.4" y="370" width="1.15" height="5.14" fill="url(#g1)"/>
<rect x="256.4" y="370" width="1.15" height="5.07" fill="url(#g1)"/>
<rect x="257.4" y="370" width="1.15" height="5" fill="url(#g1)"/>
<rect x="258.4" y="370" width="1.15" height="4.93" fill="url(#g1)"/>
<rect x="259.4" y="370" width="1.15" height="4.86" fill="url(#g1)"/>
<rect x="260.4" y="370" width="1.15" height="4.78" fill="url(#g1)"/>
<rect x="261.4" y="370" width="1.15" height="4.71" fill="url(#g1)"/>
<rect x="262.4" y="370" width="1.15" height="4.64" fill="url(#g1)"/>
<rect x="263.4" y="370" width="1.15" height="4.57" fill="url(#g1)"/>
<rect x="264.4" y="370" width="1.15" height="4.49" fill="url(#g1)"/>
<rect x="265.4" y="370" width="1.15" height="4.42" fill="url(#g1)"/>
<rect x="266.4" y="370" width="1.15" height="4.35" fill="url(#g1)"/>
<rect x="267.4" y="370" width="1.15" height="4.28" fill="url(#g1)"/>
<rect x="268.4" y="370" width="1.15" height="4.2" fill="url(#g1)"/>
<rect x="269.4" y="370" width="1.15" height="4.13" fill="url(#g1)"/>
<rect x="270.4" y="370" width="1.15" height="4.06" fill="url(#g1)"/>
<rect x="271.4" y="370" width="1.15" height="3.99" fill="url(#g1)"/>
<rect x="272.4" y="370" width="1.15" height="3.91" fill="url(#g1)"/>
<rect x="273.4" y="370" width="1.15" height="3.84" fill="url(#g1)"/>
<rect x="274.4" y="370" width="1.15" height="3.77" fill="url(#g1)"/>
<rect x="275.4" y="370" width="1.15" height="3.7" fill="url(#g1)"/>
<rect x="276.4" y="370" width="1.15" height="3.62" fill="url(#g1)"/>
<rect x="277.4" y="370" width="1.15" height="3.55" fill="url(#g1)"/>
<rect x="278.4" y="370" width="1.15" height="3.48" fill="url(#g1)"/>
<rect x="279.4" y="370" width="1.15" height="3.41" fill="url(#g1)"/>
<rect x="280.4" y="370" width="1.15" height="3.33" fill="url(#g1)"/>
<rect x="281.4" y="370" width="1.15" height="3.26" fill="url(#g1)"/>
<rect x="282.4" y="370" width="1.15" height="3.19" fill="url(#g1)"/>
<rect x="283.4" y="370" width="1.15" height="3.12" fill="url(#g1)"/>
<rect x="284.4" y="370" width="1.15" height="3.04" fill="url(#g1)"/>
<rect x="285.4" y="370" width="1.15" height="2.97" fill="url(#g1)"/>
<rect x="286.4" y="370" width="1.15" height="2.9" fill="url(#g1)"/>
<rect x="287.4" y="370" width="1.15" height="2.83" fill="url(#g1)"/>
<rect x="288.4" y="370" width="1.15" height="2.75" fill="url(#g1)"/>
<rect x="289.4" y="370" width="1.15" height="2.68" fill="url(#g1)"/>
<rect x="290.4" y="370" width="1.15" height="2.61" fill="url(#g1)"/>
<rect x="291.4" y="370" width="1.15" height="2.54" fill="url(#g1)"/>
<rect x="292.4" y="370" width="1.15" height="2.46" fill="url(#g1)"/>
<rect x="293.4" y="370" width="1.15" height="2.39" fill="url(#g1)"/>
<rect x="294.4" y="370" width="1.15" height="2.32" fill="url(#g1)"/>
<rect x="295.4" y="370" width="1.15" height="2.25" fill="url(#g1)"/>
<rect x="296.4" y="370" width="1.15" height="2.17" fill="url(#g1)"/>
<rect x="297.4" y="370" width="1.15" height="2.1" fill="url(#g1)"/>
<rect x="298.4" y="370" width="1.15" height="2.03" fill="url(#g1)"/>
<rect x="299.4" y="370" width="1.15" height="1.96" fill="url(#g1)"/>
<rect x="300.4" y="370" width="1.15" height="1.88" fill="url(#g1)"/>
<rect x="301.4" y="370" width="1.15" height="1.81" fill="url(#g1)"/>
<rect x="302.4" y="370" width="1.15" height="1.74" fill="url(#g1)"/>
<rect x="303.4" y="370" width="1.15" height="1.67" fill="url(#g1)"/>
<rect x="304.4" y="370" width="1.15" height="1.59" fill="url(#g1)"/>
<rect x="305.4" y="370" width="1.15" height="1.52" fill="url(#g1)"/>
<rect x="306.4" y="370" width="1.15" height="1.45" fill="url(#g1)"/>
<rect x="307.4" y="370" width="1.15" height="1.38" fill="url(#g1)"/>
<rect x="308.4" y="370" width="1.15" height="1.3" fill="url(#g1)"/>
<rect x="309.4" y="370" width="1.15" height="1.23" fill="url(#g1)"/>
<rect x="310.4" y="370" width="1.15" height="1.16" fill="url(#g1)"/>
<rect x="311.4" y="370" width="1.15" height="1.09" fill="url(#g1)"/>
<rect x="312.4" y="370" width="1.15" height="1.01" fill="url(#g1)"/>
<rect x="313.4" y="370" width="1.15" height="0.94" fill="url(#g1)"/>
<rect x="314.4" y="370" width="1.15" height="0.87" fill="url(#g1)"/>
<rect x="315.4" y="370" width="1.15" height="0.8" fill="url(#g1)"/>
<rect x="316.4" y="370" width="1.15" height="0.72" fill="url(#g1)"/>
<rect x="317.4" y="370" width="1.15" height="0.65" fill="url(#g1)"/>
<rect x="318.4" y="370" width="1.15" height="0.58" fill="url(#g1)"/>
<rect x="319.4" y="370" width="1.15" height="0.51" fill="url(#g1)"/>
<rect x="320.4" y="370" width="1.15" height="0.43" fill="url(#g1)"/>
<rect x="321.4" y="370" width="1.15" height="0.36" fill="url(#g1)"/>
<rect x="322.4" y="370" width="1.15" height="0.29" fill="url(#g1)"/>
<rect x="323.4" y="370" width="1.15" height="0.22" fill="url(#g1)"/>
<rect x="324.4" y="370" width="1.15" height="0.14" fill="url(#g1)"/>
<rect x="325.4" y="370" width="1.15" height="0.07" fill="url(#g1)"/>
<path d="M192.4,379.75 L195.09,379.55 L197.78,379.36 L200.47,379.16 L203.16,378.97 L205.85,378.77 L208.54,378.58 L211.23,378.38 L213.92,378.19 L216.61,377.99 L219.3,377.8 L221.99,377.6 L224.68,377.41 L227.37,377.21 L230.06,377.02 L232.75,376.82 L235.44,376.63 L238.13,376.43 L240.82,376.24 L243.51,376.04 L246.2,375.85 L248.89,375.65 L251.58,375.46 L254.27,375.26 L256.96,375.07 L259.65,374.87 L262.34,374.68 L265.03,374.48 L267.72,374.29 L270.41,374.09 L273.1,373.9 L275.79,373.7 L278.48,373.51 L281.17,373.31 L283.86,373.12 L286.55,372.92 L289.24,372.73 L291.93,372.53 L294.62,372.34 L297.31,372.14 L300,371.95 L302.69,371.75 L305.38,371.56 L308.07,371.36 L310.76,371.17 L313.45,370.97 L316.14,370.78 L318.83,370.58 L321.52,370.39 L324.21,370.19 L326.9,370" fill="none" stroke="#6a6a6a" stroke-width="0.55" stroke-linejoin="round" stroke-linecap="butt"/>
<path d="M192.4,370 L193.33,369.64 L194.26,369.27 L195.2,368.88 L196.13,368.48 L197.06,368.06 L197.99,367.63 L198.93,367.19 L199.86,366.74 L200.79,366.3 L201.72,365.85 L202.66,365.42 L203.59,364.99 L204.52,364.57 L205.45,364.18 L206.39,363.8 L207.32,363.43 L207.32,370 L192.4,370 Z" fill="#b03903"/>
<path d="M206.12,363.91 L207.61,363.32 L209.09,362.75 L210.58,362.21 L212.07,361.67 L213.56,361.15 L215.04,360.65 L216.53,360.15 L218.02,359.67 L219.5,359.19 L220.99,358.72 L222.48,358.26 L223.97,357.82 L225.45,357.39 L226.94,356.97 L228.43,356.57 L229.91,356.18 L229.91,370 L206.12,370 Z" fill="#d94801"/>
<path d="M228.72,356.49 L230,356.16 L231.29,355.83 L232.57,355.51 L233.86,355.2 L235.14,354.9 L236.43,354.6 L237.71,354.31 L239,354.03 L240.28,353.76 L241.57,353.49 L242.86,353.24 L244.14,352.99 L245.43,352.74 L246.71,352.5 L248,352.27 L249.28,352.05 L249.28,370 L228.72,370 Z" fill="#ec620f"/>
<path d="M248.08,352.25 L249.05,352.09 L250.02,351.92 L250.98,351.77 L251.95,351.62 L252.91,351.47 L253.88,351.34 L254.85,351.2 L255.81,351.08 L256.78,350.96 L257.74,350.84 L258.71,350.72 L259.68,350.61 L260.64,350.5 L261.61,350.39 L262.57,350.28 L263.54,350.17 L263.54,370 L248.08,370 Z" fill="#f87f2c"/>
<path d="M262.34,350.31 L263.34,350.2 L264.34,350.09 L265.34,349.98 L266.34,349.87 L267.34,349.76 L268.34,349.66 L269.34,349.56 L270.34,349.46 L271.34,349.36 L272.34,349.26 L273.34,349.17 L274.34,349.08 L275.34,348.99 L276.34,348.9 L277.34,348.82 L278.33,348.73 L278.33,370 L262.34,370 Z" fill="#fd9a4e"/>
<path d="M277.13,348.83 L278.04,348.76 L278.95,348.68 L279.86,348.61 L280.76,348.54 L281.67,348.47 L282.58,348.41 L283.49,348.34 L284.39,348.27 L285.3,348.21 L286.21,348.15 L287.11,348.09 L288.02,348.03 L288.93,347.97 L289.84,347.91 L290.74,347.86 L291.65,347.81 L291.65,370 L277.13,370 Z" fill="#fdb576"/>
<path d="M290.45,347.88 L291.3,347.83 L292.15,347.78 L293,347.73 L293.84,347.68 L294.69,347.63 L295.54,347.58 L296.39,347.54 L297.24,347.49 L298.09,347.45 L298.93,347.41 L299.78,347.36 L300.63,347.33 L301.48,347.29 L302.33,347.25 L303.18,347.22 L304.02,347.18 L304.02,370 L290.45,370 Z" fill="#fdd1a3"/>
<path d="M302.82,347.23 L303.67,347.2 L304.52,347.16 L305.37,347.13 L306.22,347.1 L307.07,347.07 L307.91,347.04 L308.76,347.01 L309.61,346.98 L310.46,346.96 L311.31,346.93 L312.16,346.91 L313,346.89 L313.85,346.86 L314.7,346.84 L315.55,346.83 L316.4,346.81 L316.4,370 L302.82,370 Z" fill="#fee2c6"/>
<path d="M315.2,346.83 L315.93,346.82 L316.66,346.8 L317.39,346.79 L318.12,346.77 L318.86,346.76 L319.59,346.75 L320.32,346.73 L321.05,346.72 L321.78,346.71 L322.51,346.7 L323.24,346.69 L323.97,346.68 L324.71,346.67 L325.44,346.66 L326.17,346.65 L326.9,346.65 L326.9,370 L315.2,370 Z" fill="#ffefe0"/>
<path d="M206.12,370 L206.12,363.91" fill="none" stroke="#000" stroke-width="0.7" stroke-linejoin="round" stroke-linecap="butt" opacity="1.0"/>
<path d="M192.4,370 L326.9,370" fill="none" stroke="#0000ff" stroke-width="1.0" stroke-linejoin="round" stroke-linecap="butt" opacity="0.82"/>
<path d="M192.4,370 L193.75,369.48 L195.09,368.93 L196.44,368.34 L197.78,367.73 L199.12,367.09 L200.47,366.45 L201.81,365.81 L203.16,365.18 L204.5,364.58 L205.85,364.02 L207.19,363.48 L208.54,362.96 L209.88,362.46 L211.23,361.97 L212.57,361.49 L213.92,361.03 L215.27,360.57 L216.61,360.13 L217.96,359.69 L219.3,359.26 L220.65,358.83 L221.99,358.41 L223.34,358.01 L224.68,357.61 L226.03,357.22 L227.37,356.85 L228.72,356.49 L230.06,356.14 L231.41,355.8 L232.75,355.47 L234.09,355.14 L235.44,354.83 L236.78,354.52 L238.13,354.22 L239.47,353.93 L240.82,353.65 L242.16,353.38 L243.51,353.11 L244.85,352.85 L246.2,352.6 L247.54,352.35 L248.89,352.11 L250.23,351.89 L251.58,351.67 L252.93,351.47 L254.27,351.28 L255.61,351.1 L256.96,350.93 L258.31,350.77 L259.65,350.61 L261,350.46 L262.34,350.31 L263.69,350.16 L265.03,350.01 L266.38,349.87 L267.72,349.72 L269.06,349.59 L270.41,349.45 L271.75,349.32 L273.1,349.19 L274.44,349.07 L275.79,348.95 L277.13,348.83 L278.48,348.72 L279.82,348.62 L281.17,348.51 L282.51,348.41 L283.86,348.31 L285.2,348.22 L286.55,348.12 L287.89,348.04 L289.24,347.95 L290.58,347.87 L291.93,347.79 L293.27,347.71 L294.62,347.63 L295.96,347.56 L297.31,347.49 L298.65,347.42 L300,347.35 L301.34,347.29 L302.69,347.24 L304.03,347.18 L305.38,347.13 L306.72,347.08 L308.07,347.04 L309.41,346.99 L310.76,346.95 L312.1,346.91 L313.45,346.87 L314.79,346.84 L316.14,346.81 L317.49,346.79 L318.83,346.76 L320.17,346.74 L321.52,346.71 L322.87,346.69 L324.21,346.67 L325.55,346.66 L326.9,346.65" fill="none" stroke="#000" stroke-width="1.0" stroke-linejoin="round" stroke-linecap="butt"/>
</g>
<path d="M192.4,391.4 v2.1 M219.3,391.4 v2.1 M246.2,391.4 v2.1 M273.1,391.4 v2.1 M300,391.4 v2.1 M326.9,391.4 v2.1 M192.4,389.3 h-2.1 M192.4,370 h-2.1 M192.4,350.7 h-2.1 M192.4,331.4 h-2.1" stroke="#000" stroke-width="0.6" fill="none"/>
<rect x="192.4" y="320.4" width="134.5" height="71" fill="none" stroke="#000" stroke-width="0.45"/>
<text x="192.4" y="399.75" font-size="5.83" text-anchor="middle" textLength="3.5" lengthAdjust="spacingAndGlyphs">0</text>
<text x="219.3" y="399.75" font-size="5.83" text-anchor="middle" textLength="10.5" lengthAdjust="spacingAndGlyphs">200</text>
<text x="246.2" y="399.75" font-size="5.83" text-anchor="middle" textLength="10.5" lengthAdjust="spacingAndGlyphs">400</text>
<text x="273.1" y="399.75" font-size="5.83" text-anchor="middle" textLength="10.5" lengthAdjust="spacingAndGlyphs">600</text>
<text x="300" y="399.75" font-size="5.83" text-anchor="middle" textLength="10.5" lengthAdjust="spacingAndGlyphs">800</text>
<text x="326.9" y="399.75" font-size="5.83" text-anchor="middle" textLength="14" lengthAdjust="spacingAndGlyphs">1000</text>
<g clip-path="url(#clip32)">
<path d="M353.9,383.99 L356.59,383.71 L359.28,383.43 L361.98,383.15 L364.67,382.87 L367.36,382.59 L370.05,382.31 L372.74,382.03 L375.44,381.75 L378.13,381.47 L380.82,381.19 L383.51,380.91 L386.2,380.63 L388.9,380.35 L391.59,380.07 L394.28,379.79 L396.97,379.51 L399.66,379.24 L402.36,378.96 L405.05,378.68 L407.74,378.4 L410.43,378.12 L413.12,377.84 L415.82,377.56 L418.51,377.28 L421.2,377 L423.89,376.72 L426.58,376.44 L429.28,376.16 L431.97,375.88 L434.66,375.6 L437.35,375.32 L440.04,375.04 L442.74,374.76 L445.43,374.48 L448.12,374.2 L450.81,373.92 L453.5,373.64 L456.2,373.36 L458.89,373.08 L461.58,372.8 L464.27,372.52 L466.96,372.24 L469.66,371.96 L472.35,371.68 L475.04,371.4 L477.73,371.12 L480.42,370.84 L483.12,370.56 L485.81,370.28 L488.5,370 L488.5,391.23 L353.9,391.23 Z" fill="#dcdcdc"/>
<rect x="353.9" y="379.31" width="1.15" height="4.63" fill="url(#g4)"/>
<rect x="354.9" y="379.2" width="1.15" height="4.63" fill="url(#g4)"/>
<rect x="355.9" y="379.1" width="1.15" height="4.63" fill="url(#g4)"/>
<rect x="356.9" y="379" width="1.15" height="4.63" fill="url(#g4)"/>
<rect x="357.9" y="378.89" width="1.15" height="4.63" fill="url(#g4)"/>
<rect x="358.9" y="378.79" width="1.15" height="4.63" fill="url(#g4)"/>
<rect x="359.9" y="378.69" width="1.15" height="4.63" fill="url(#g4)"/>
<rect x="360.9" y="378.58" width="1.15" height="4.63" fill="url(#g4)"/>
<rect x="361.9" y="378.48" width="1.15" height="4.63" fill="url(#g4)"/>
<rect x="362.9" y="378.37" width="1.15" height="4.63" fill="url(#g4)"/>
<rect x="363.9" y="378.27" width="1.15" height="4.63" fill="url(#g4)"/>
<rect x="364.9" y="378.17" width="1.15" height="4.63" fill="url(#g4)"/>
<rect x="365.9" y="378.06" width="1.15" height="4.63" fill="url(#g4)"/>
<rect x="366.9" y="377.96" width="1.15" height="4.63" fill="url(#g4)"/>
<rect x="367.9" y="377.86" width="1.15" height="4.63" fill="url(#g4)"/>
<rect x="368.9" y="377.75" width="1.15" height="4.63" fill="url(#g4)"/>
<rect x="369.9" y="377.65" width="1.15" height="4.63" fill="url(#g4)"/>
<rect x="370.9" y="377.54" width="1.15" height="4.63" fill="url(#g4)"/>
<rect x="371.9" y="377.44" width="1.15" height="4.63" fill="url(#g4)"/>
<rect x="372.9" y="377.34" width="1.15" height="4.63" fill="url(#g4)"/>
<rect x="373.9" y="377.23" width="1.15" height="4.63" fill="url(#g4)"/>
<rect x="374.9" y="377.13" width="1.15" height="4.63" fill="url(#g4)"/>
<rect x="375.9" y="377.03" width="1.15" height="4.63" fill="url(#g4)"/>
<rect x="376.9" y="376.92" width="1.15" height="4.63" fill="url(#g4)"/>
<rect x="377.9" y="376.82" width="1.15" height="4.63" fill="url(#g4)"/>
<rect x="378.9" y="376.71" width="1.15" height="4.63" fill="url(#g4)"/>
<rect x="379.9" y="376.61" width="1.15" height="4.63" fill="url(#g4)"/>
<rect x="380.9" y="376.51" width="1.15" height="4.63" fill="url(#g4)"/>
<rect x="381.9" y="376.4" width="1.15" height="4.63" fill="url(#g4)"/>
<rect x="382.9" y="376.3" width="1.15" height="4.63" fill="url(#g4)"/>
<rect x="383.9" y="376.19" width="1.15" height="4.63" fill="url(#g4)"/>
<rect x="384.9" y="376.09" width="1.15" height="4.63" fill="url(#g4)"/>
<rect x="385.9" y="375.99" width="1.15" height="4.63" fill="url(#g4)"/>
<rect x="386.9" y="375.88" width="1.15" height="4.63" fill="url(#g4)"/>
<rect x="387.9" y="375.78" width="1.15" height="4.63" fill="url(#g4)"/>
<rect x="388.9" y="375.68" width="1.15" height="4.63" fill="url(#g4)"/>
<rect x="389.9" y="375.57" width="1.15" height="4.63" fill="url(#g4)"/>
<rect x="390.9" y="375.47" width="1.15" height="4.63" fill="url(#g4)"/>
<rect x="391.9" y="375.36" width="1.15" height="4.63" fill="url(#g4)"/>
<rect x="392.9" y="375.26" width="1.15" height="4.63" fill="url(#g4)"/>
<rect x="393.9" y="375.16" width="1.15" height="4.63" fill="url(#g4)"/>
<rect x="394.9" y="375.05" width="1.15" height="4.63" fill="url(#g4)"/>
<rect x="395.9" y="374.95" width="1.15" height="4.63" fill="url(#g4)"/>
<rect x="396.9" y="374.85" width="1.15" height="4.63" fill="url(#g4)"/>
<rect x="397.9" y="374.74" width="1.15" height="4.62" fill="url(#g4)"/>
<rect x="398.9" y="374.64" width="1.15" height="4.62" fill="url(#g4)"/>
<rect x="399.9" y="374.53" width="1.15" height="4.62" fill="url(#g4)"/>
<rect x="400.9" y="374.43" width="1.15" height="4.62" fill="url(#g4)"/>
<rect x="401.9" y="374.33" width="1.15" height="4.62" fill="url(#g4)"/>
<rect x="402.9" y="374.22" width="1.15" height="4.62" fill="url(#g4)"/>
<rect x="403.9" y="374.12" width="1.15" height="4.62" fill="url(#g4)"/>
<rect x="404.9" y="374.02" width="1.15" height="4.62" fill="url(#g4)"/>
<rect x="405.9" y="373.91" width="1.15" height="4.62" fill="url(#g4)"/>
<rect x="406.9" y="373.81" width="1.15" height="4.62" fill="url(#g4)"/>
<rect x="407.9" y="373.7" width="1.15" height="4.62" fill="url(#g4)"/>
<rect x="408.9" y="373.6" width="1.15" height="4.62" fill="url(#g4)"/>
<rect x="409.9" y="373.5" width="1.15" height="4.62" fill="url(#g4)"/>
<rect x="410.9" y="373.39" width="1.15" height="4.62" fill="url(#g4)"/>
<rect x="411.9" y="373.29" width="1.15" height="4.62" fill="url(#g4)"/>
<rect x="412.9" y="373.18" width="1.15" height="4.62" fill="url(#g4)"/>
<rect x="413.9" y="373.08" width="1.15" height="4.62" fill="url(#g4)"/>
<rect x="414.9" y="372.98" width="1.15" height="4.62" fill="url(#g4)"/>
<rect x="415.9" y="372.87" width="1.15" height="4.62" fill="url(#g4)"/>
<rect x="416.9" y="372.77" width="1.15" height="4.62" fill="url(#g4)"/>
<rect x="417.9" y="372.67" width="1.15" height="4.62" fill="url(#g4)"/>
<rect x="418.9" y="372.56" width="1.15" height="4.62" fill="url(#g4)"/>
<rect x="419.9" y="372.46" width="1.15" height="4.62" fill="url(#g4)"/>
<rect x="420.9" y="372.35" width="1.15" height="4.62" fill="url(#g4)"/>
<rect x="421.9" y="372.25" width="1.15" height="4.62" fill="url(#g4)"/>
<rect x="422.9" y="372.15" width="1.15" height="4.62" fill="url(#g4)"/>
<rect x="423.9" y="372.04" width="1.15" height="4.62" fill="url(#g4)"/>
<rect x="424.9" y="371.94" width="1.15" height="4.62" fill="url(#g4)"/>
<rect x="425.9" y="371.84" width="1.15" height="4.62" fill="url(#g4)"/>
<rect x="426.9" y="371.73" width="1.15" height="4.62" fill="url(#g4)"/>
<rect x="427.9" y="371.63" width="1.15" height="4.62" fill="url(#g4)"/>
<rect x="428.9" y="371.52" width="1.15" height="4.62" fill="url(#g4)"/>
<rect x="429.9" y="371.42" width="1.15" height="4.62" fill="url(#g4)"/>
<rect x="430.9" y="371.32" width="1.15" height="4.62" fill="url(#g4)"/>
<rect x="431.9" y="371.21" width="1.15" height="4.62" fill="url(#g4)"/>
<rect x="432.9" y="371.11" width="1.15" height="4.62" fill="url(#g4)"/>
<rect x="433.9" y="371" width="1.15" height="4.62" fill="url(#g4)"/>
<rect x="434.9" y="370.9" width="1.15" height="4.62" fill="url(#g4)"/>
<rect x="435.9" y="370.8" width="1.15" height="4.62" fill="url(#g4)"/>
<rect x="436.9" y="370.69" width="1.15" height="4.62" fill="url(#g4)"/>
<rect x="437.9" y="370.59" width="1.15" height="4.62" fill="url(#g4)"/>
<rect x="438.9" y="370.49" width="1.15" height="4.62" fill="url(#g4)"/>
<rect x="439.9" y="370.38" width="1.15" height="4.62" fill="url(#g4)"/>
<rect x="440.9" y="370.28" width="1.15" height="4.62" fill="url(#g4)"/>
<rect x="441.9" y="370.17" width="1.15" height="4.62" fill="url(#g4)"/>
<rect x="442.9" y="370.07" width="1.15" height="4.62" fill="url(#g4)"/>
<rect x="443.9" y="370" width="1.15" height="4.58" fill="url(#g4)"/>
<rect x="444.9" y="370" width="1.15" height="4.48" fill="url(#g4)"/>
<rect x="445.9" y="370" width="1.15" height="4.38" fill="url(#g4)"/>
<rect x="446.9" y="370" width="1.15" height="4.27" fill="url(#g4)"/>
<rect x="447.9" y="370" width="1.15" height="4.17" fill="url(#g4)"/>
<rect x="448.9" y="370" width="1.15" height="4.06" fill="url(#g4)"/>
<rect x="449.9" y="370" width="1.15" height="3.96" fill="url(#g4)"/>
<rect x="450.9" y="370" width="1.15" height="3.86" fill="url(#g4)"/>
<rect x="451.9" y="370" width="1.15" height="3.75" fill="url(#g4)"/>
<rect x="452.9" y="370" width="1.15" height="3.65" fill="url(#g4)"/>
<rect x="453.9" y="370" width="1.15" height="3.54" fill="url(#g4)"/>
<rect x="454.9" y="370" width="1.15" height="3.44" fill="url(#g4)"/>
<rect x="455.9" y="370" width="1.15" height="3.34" fill="url(#g4)"/>
<rect x="456.9" y="370" width="1.15" height="3.23" fill="url(#g4)"/>
<rect x="457.9" y="370" width="1.15" height="3.13" fill="url(#g4)"/>
<rect x="458.9" y="370" width="1.15" height="3.03" fill="url(#g4)"/>
<rect x="459.9" y="370" width="1.15" height="2.92" fill="url(#g4)"/>
<rect x="460.9" y="370" width="1.15" height="2.82" fill="url(#g4)"/>
<rect x="461.9" y="370" width="1.15" height="2.71" fill="url(#g4)"/>
<rect x="462.9" y="370" width="1.15" height="2.61" fill="url(#g4)"/>
<rect x="463.9" y="370" width="1.15" height="2.51" fill="url(#g4)"/>
<rect x="464.9" y="370" width="1.15" height="2.4" fill="url(#g4)"/>
<rect x="465.9" y="370" width="1.15" height="2.3" fill="url(#g4)"/>
<rect x="466.9" y="370" width="1.15" height="2.19" fill="url(#g4)"/>
<rect x="467.9" y="370" width="1.15" height="2.09" fill="url(#g4)"/>
<rect x="468.9" y="370" width="1.15" height="1.99" fill="url(#g4)"/>
<rect x="469.9" y="370" width="1.15" height="1.88" fill="url(#g4)"/>
<rect x="470.9" y="370" width="1.15" height="1.78" fill="url(#g4)"/>
<rect x="471.9" y="370" width="1.15" height="1.67" fill="url(#g4)"/>
<rect x="472.9" y="370" width="1.15" height="1.57" fill="url(#g4)"/>
<rect x="473.9" y="370" width="1.15" height="1.47" fill="url(#g4)"/>
<rect x="474.9" y="370" width="1.15" height="1.36" fill="url(#g4)"/>
<rect x="475.9" y="370" width="1.15" height="1.26" fill="url(#g4)"/>
<rect x="476.9" y="370" width="1.15" height="1.15" fill="url(#g4)"/>
<rect x="477.9" y="370" width="1.15" height="1.05" fill="url(#g4)"/>
<rect x="478.9" y="370" width="1.15" height="0.95" fill="url(#g4)"/>
<rect x="479.9" y="370" width="1.15" height="0.84" fill="url(#g4)"/>
<rect x="480.9" y="370" width="1.15" height="0.74" fill="url(#g4)"/>
<rect x="481.9" y="370" width="1.15" height="0.63" fill="url(#g4)"/>
<rect x="482.9" y="370" width="1.15" height="0.53" fill="url(#g4)"/>
<rect x="483.9" y="370" width="1.15" height="0.43" fill="url(#g4)"/>
<rect x="484.9" y="370" width="1.15" height="0.32" fill="url(#g4)"/>
<rect x="485.9" y="370" width="1.15" height="0.22" fill="url(#g4)"/>
<rect x="486.9" y="370" width="1.15" height="0.11" fill="url(#g4)"/>
<path d="M353.9,370 L353.9,379.36 L355.25,379.22 L356.59,379.08 L357.94,378.94 L359.28,378.8 L360.63,378.66 L361.98,378.52 L363.32,378.38 L364.67,378.24 L366.01,378.1 L367.36,377.96 L368.71,377.82 L370.05,377.68 L371.4,377.54 L372.74,377.4 L374.09,377.26 L375.44,377.13 L376.78,376.99 L378.13,376.85 L379.47,376.71 L380.82,376.57 L382.17,376.43 L383.51,376.29 L384.86,376.15 L386.2,376.01 L387.55,375.87 L388.9,375.73 L390.24,375.59 L391.59,375.45 L392.93,375.31 L394.28,375.17 L395.63,375.03 L396.97,374.89 L398.32,374.75 L399.66,374.61 L401.01,374.47 L402.36,374.33 L403.7,374.19 L405.05,374.05 L406.39,373.91 L407.74,373.77 L409.09,373.63 L410.43,373.49 L411.78,373.35 L413.12,373.21 L414.47,373.07 L415.82,372.93 L417.16,372.79 L418.51,372.65 L419.85,372.51 L421.2,372.38 L422.55,372.24 L423.89,372.1 L425.24,371.96 L426.58,371.82 L427.93,371.68 L429.28,371.54 L430.62,371.4 L431.97,371.26 L433.31,371.12 L434.66,370.98 L436.01,370.84 L437.35,370.7 L438.7,370.56 L440.04,370.42 L441.39,370.28 L442.74,370.14 L444.08,370 L445.43,370 L446.77,370 L448.12,370 L449.47,370 L450.81,370 L452.16,370 L453.5,370 L454.85,370 L456.2,370 L457.54,370 L458.89,370 L460.23,370 L461.58,370 L462.93,370 L464.27,370 L465.62,370 L466.96,370 L468.31,370 L469.66,370 L471,370 L472.35,370 L473.69,370 L475.04,370 L476.39,370 L477.73,370 L479.08,370 L480.42,370 L481.77,370 L483.12,370 L484.46,370 L485.81,370 L487.15,370 L488.5,370 L488.5,370 Z" fill="#8e2d04"/>
<path d="M353.9,379.36 L355.25,379.22 L356.59,379.08 L357.94,378.94 L359.28,378.8 L360.63,378.66 L361.98,378.52 L363.32,378.38 L364.67,378.24 L366.01,378.1 L367.36,377.96 L368.71,377.82 L370.05,377.68 L371.4,377.54 L372.74,377.4 L374.09,377.26 L375.44,377.13 L376.78,376.99 L378.13,376.85 L379.47,376.71 L380.82,376.57 L382.17,376.43 L383.51,376.29 L384.86,376.15 L386.2,376.01 L387.55,375.87 L388.9,375.73 L390.24,375.59 L391.59,375.45 L392.93,375.31 L394.28,375.17 L395.63,375.03 L396.97,374.89 L398.32,374.75 L399.66,374.61 L401.01,374.47 L402.36,374.33 L403.7,374.19 L405.05,374.05 L406.39,373.91 L407.74,373.77 L409.09,373.63 L410.43,373.49 L411.78,373.35 L413.12,373.21 L414.47,373.07 L415.82,372.93 L417.16,372.79 L418.51,372.65 L419.85,372.51 L421.2,372.38 L422.55,372.24 L423.89,372.1 L425.24,371.96 L426.58,371.82 L427.93,371.68 L429.28,371.54 L430.62,371.4 L431.97,371.26 L433.31,371.12 L434.66,370.98 L436.01,370.84 L437.35,370.7 L438.7,370.56 L440.04,370.42 L441.39,370.28 L442.74,370.14" fill="none" stroke="#1a0600" stroke-width="0.95" stroke-linejoin="round" stroke-linecap="butt" opacity="0.9"/>
<path d="M353.9,383.99 L356.59,383.71 L359.28,383.43 L361.98,383.15 L364.67,382.87 L367.36,382.59 L370.05,382.31 L372.74,382.03 L375.44,381.75 L378.13,381.47 L380.82,381.19 L383.51,380.91 L386.2,380.63 L388.9,380.35 L391.59,380.07 L394.28,379.79 L396.97,379.51 L399.66,379.24 L402.36,378.96 L405.05,378.68 L407.74,378.4 L410.43,378.12 L413.12,377.84 L415.82,377.56 L418.51,377.28 L421.2,377 L423.89,376.72 L426.58,376.44 L429.28,376.16 L431.97,375.88 L434.66,375.6 L437.35,375.32 L440.04,375.04 L442.74,374.76 L445.43,374.48 L448.12,374.2 L450.81,373.92 L453.5,373.64 L456.2,373.36 L458.89,373.08 L461.58,372.8 L464.27,372.52 L466.96,372.24 L469.66,371.96 L472.35,371.68 L475.04,371.4 L477.73,371.12 L480.42,370.84 L483.12,370.56 L485.81,370.28 L488.5,370" fill="none" stroke="#6a6a6a" stroke-width="0.55" stroke-linejoin="round" stroke-linecap="butt"/>
<path d="M353.9,383.51 L359.42,355.8 L364.94,355.01 L370.45,354.52 L375.97,354.05 L381.49,353.59 L387.01,353.14 L392.53,352.71 L398.04,352.28 L403.56,351.87 L409.08,351.47 L414.6,351.08 L420.11,350.71 L425.63,350.36 L431.15,350.02 L436.67,349.69 L442.19,349.38 L442.19,370 L353.9,370 Z" fill="#b03903"/>
<path d="M440.99,349.45 L441.57,349.42 L442.16,349.38 L442.75,349.35 L443.34,349.32 L443.93,349.29 L444.52,349.26 L445.1,349.23 L445.69,349.2 L446.28,349.17 L446.87,349.14 L447.46,349.11 L448.04,349.08 L448.63,349.05 L449.22,349.02 L449.81,348.99 L450.4,348.96 L450.4,370 L440.99,370 Z" fill="#d94801"/>
<path d="M449.2,349.02 L449.76,348.99 L450.32,348.96 L450.89,348.93 L451.45,348.91 L452.01,348.88 L452.57,348.85 L453.14,348.83 L453.7,348.8 L454.26,348.77 L454.83,348.75 L455.39,348.72 L455.95,348.7 L456.51,348.67 L457.08,348.64 L457.64,348.62 L458.2,348.59 L458.2,370 L449.2,370 Z" fill="#ec620f"/>
<path d="M457,348.65 L457.5,348.63 L457.99,348.6 L458.49,348.58 L458.99,348.56 L459.48,348.54 L459.98,348.52 L460.47,348.5 L460.97,348.48 L461.46,348.46 L461.96,348.44 L462.46,348.41 L462.95,348.39 L463.45,348.37 L463.94,348.36 L464.44,348.34 L464.93,348.32 L464.93,370 L457,370 Z" fill="#f87f2c"/>
<path d="M463.73,348.36 L464.14,348.35 L464.54,348.33 L464.94,348.32 L465.35,348.3 L465.75,348.29 L466.15,348.27 L466.56,348.25 L466.96,348.24 L467.36,348.23 L467.76,348.21 L468.17,348.2 L468.57,348.18 L468.97,348.17 L469.38,348.15 L469.78,348.14 L470.18,348.13 L470.18,370 L463.73,370 Z" fill="#fd9a4e"/>
<path d="M468.98,348.17 L469.35,348.15 L469.72,348.14 L470.09,348.13 L470.46,348.12 L470.83,348.1 L471.2,348.09 L471.57,348.08 L471.94,348.07 L472.31,348.05 L472.68,348.04 L473.05,348.03 L473.42,348.02 L473.79,348.01 L474.16,348 L474.52,347.99 L474.89,347.98 L474.89,370 L468.98,370 Z" fill="#fdb576"/>
<path d="M473.69,348.01 L474.06,348 L474.43,347.99 L474.8,347.98 L475.17,347.97 L475.54,347.96 L475.91,347.95 L476.28,347.94 L476.65,347.93 L477.02,347.92 L477.39,347.91 L477.76,347.9 L478.13,347.89 L478.5,347.88 L478.87,347.87 L479.24,347.86 L479.61,347.85 L479.61,370 L473.69,370 Z" fill="#fdd1a3"/>
<path d="M478.4,347.88 L478.77,347.87 L479.14,347.86 L479.51,347.85 L479.88,347.84 L480.25,347.83 L480.62,347.83 L480.99,347.82 L481.36,347.81 L481.73,347.8 L482.1,347.79 L482.47,347.79 L482.84,347.78 L483.21,347.77 L483.58,347.77 L483.95,347.76 L484.32,347.75 L484.32,370 L478.4,370 Z" fill="#fee2c6"/>
<path d="M483.12,347.77 L483.45,347.77 L483.79,347.76 L484.13,347.76 L484.46,347.75 L484.8,347.75 L485.13,347.74 L485.47,347.74 L485.81,347.73 L486.14,347.73 L486.48,347.72 L486.82,347.72 L487.15,347.72 L487.49,347.71 L487.83,347.71 L488.16,347.71 L488.5,347.71 L488.5,370 L483.12,370 Z" fill="#ffefe0"/>
<path d="M353.9,383.51 L354.74,363.2 L355.58,360.05 L356.42,358.29 L357.26,357.19 L358.11,356.47 L358.95,355.99 L359.79,355.68 L360.63,355.48 L361.47,355.34 L362.31,355.25 L363.15,355.17 L364,355.14 L364.84,355.14 L365.68,355.14 L366.52,355.14 L367.36,355.14 L368.2,355.14 L369.04,355.14 L369.88,355.14 L370.72,355.14 L371.57,355.14 L372.41,355.14 L373.25,355.14 L374.09,355.14 L374.93,355.14 L375.77,355.14 L376.61,355.14 L377.45,355.14 L378.3,355.14 L379.14,355.14 L379.98,355.14 L380.82,355.14 L381.66,355.14 L382.5,355.14 L383.34,355.14 L384.19,355.14 L385.03,355.14 L385.87,355.14 L386.71,355.14 L387.55,355.14 L388.39,355.14 L389.23,355.14 L390.07,355.14 L390.91,355.14 L391.76,355.14 L392.6,355.14 L393.44,355.14 L394.28,355.14 L395.12,355.14 L395.96,355.14 L396.8,355.14 L397.64,355.14 L398.49,355.14 L399.33,355.14 L400.17,355.14 L401.01,355.14 L401.85,355.14 L402.69,355.14 L403.53,355.14 L404.38,355.14 L405.22,355.14 L406.06,355.14 L406.9,355.14 L407.74,355.14 L408.58,355.14 L409.42,355.14 L410.26,355.14 L411.1,355.14 L411.95,355.14 L412.79,355.14 L413.63,355.14 L414.47,355.14 L415.31,355.14 L416.15,355.14 L416.99,355.14 L417.83,355.14 L418.68,355.14 L419.52,355.14 L420.36,355.14 L421.2,355.14 L423.22,355.24 L424.97,355.62 L426.05,356.49 L426.58,358.03 L426.58,370 L353.9,370 Z" fill="#8e2d04"/>
<path d="M440.99,370 L440.99,354.27 L440.72,352.63 L439.77,351.67 L438.02,351.19 L434.66,350.8" fill="none" stroke="#1a0800" stroke-width="0.6" stroke-linejoin="round" stroke-linecap="butt"/>
<path d="M353.9,370 L488.5,370" fill="none" stroke="#0000ff" stroke-width="1.0" stroke-linejoin="round" stroke-linecap="butt" opacity="0.82"/>
<path d="M353.9,383.51 L354.74,363.2 L355.58,360.05 L356.42,358.29 L357.26,357.19 L358.11,356.47 L358.95,355.99 L359.79,355.68 L360.63,355.48 L361.47,355.34 L362.31,355.25 L363.15,355.17 L364,355.09 L364.84,355.02 L365.68,354.94 L366.52,354.87 L367.36,354.79 L368.2,354.72 L369.04,354.65 L369.88,354.57 L370.72,354.5 L371.57,354.43 L372.41,354.36 L373.25,354.28 L374.09,354.21 L374.93,354.14 L375.77,354.07 L376.61,354 L377.45,353.93 L378.3,353.86 L379.14,353.79 L379.98,353.72 L380.82,353.65 L381.66,353.58 L382.5,353.51 L383.34,353.44 L384.19,353.37 L385.03,353.3 L385.87,353.23 L386.71,353.17 L387.55,353.1 L388.39,353.03 L389.23,352.96 L390.07,352.9 L390.91,352.83 L391.76,352.77 L392.6,352.7 L393.44,352.63 L394.28,352.57 L395.12,352.5 L395.96,352.44 L396.8,352.37 L397.64,352.31 L398.49,352.25 L399.33,352.18 L400.17,352.12 L401.01,352.06 L401.85,351.99 L402.69,351.93 L403.53,351.87 L404.38,351.81 L405.22,351.75 L406.06,351.69 L406.9,351.63 L407.74,351.57 L408.58,351.51 L409.42,351.45 L410.26,351.39 L411.1,351.33 L411.95,351.27 L412.79,351.21 L413.63,351.15 L414.47,351.09 L415.31,351.04 L416.15,350.98 L416.99,350.92 L417.83,350.87 L418.68,350.81 L419.52,350.75 L420.36,350.7 L421.2,350.64 L422.04,350.59 L422.88,350.53 L423.72,350.48 L424.56,350.43 L425.41,350.37 L426.25,350.32 L427.09,350.27 L427.93,350.21 L428.77,350.16 L429.61,350.11 L430.45,350.06 L431.29,350.01 L432.14,349.96 L432.98,349.91 L433.82,349.86 L434.66,349.81 L435.5,349.76 L436.34,349.71 L437.18,349.66 L438.02,349.61 L438.87,349.57 L439.71,349.52 L440.55,349.47 L441.39,349.43 L442.23,349.38 L443.07,349.34 L443.91,349.29 L444.75,349.25 L445.6,349.2 L446.44,349.16 L447.28,349.12 L448.12,349.07 L448.96,349.03 L449.8,348.99 L450.64,348.95 L451.49,348.91 L452.33,348.86 L453.17,348.82 L454.01,348.79 L454.85,348.75 L455.69,348.71 L456.53,348.67 L457.37,348.63 L458.22,348.59 L459.06,348.56 L459.9,348.52 L460.74,348.49 L461.58,348.45 L462.42,348.42 L463.26,348.38 L464.1,348.35 L464.94,348.32 L465.79,348.28 L466.63,348.25 L467.47,348.22 L468.31,348.19 L469.15,348.16 L469.99,348.13 L470.83,348.1 L471.68,348.08 L472.52,348.05 L473.36,348.02 L474.2,348 L475.04,347.97 L475.88,347.95 L476.72,347.92 L477.56,347.9 L478.4,347.88 L479.25,347.86 L480.09,347.84 L480.93,347.82 L481.77,347.8 L482.61,347.78 L483.45,347.77 L484.29,347.75 L485.13,347.74 L485.98,347.73 L486.82,347.72 L487.66,347.71 L488.5,347.71" fill="none" stroke="#000" stroke-width="1.0" stroke-linejoin="round" stroke-linecap="butt"/>
</g>
<path d="M353.9,391.4 v2.1 M380.82,391.4 v2.1 M407.74,391.4 v2.1 M434.66,391.4 v2.1 M461.58,391.4 v2.1 M488.5,391.4 v2.1 M353.9,389.3 h-2.1 M353.9,370 h-2.1 M353.9,350.7 h-2.1 M353.9,331.4 h-2.1" stroke="#000" stroke-width="0.6" fill="none"/>
<rect x="353.9" y="320.4" width="134.6" height="71" fill="none" stroke="#000" stroke-width="0.45"/>
<text x="353.9" y="399.75" font-size="5.83" text-anchor="middle" textLength="3.5" lengthAdjust="spacingAndGlyphs">0</text>
<text x="380.82" y="399.75" font-size="5.83" text-anchor="middle" textLength="10.5" lengthAdjust="spacingAndGlyphs">200</text>
<text x="407.74" y="399.75" font-size="5.83" text-anchor="middle" textLength="10.5" lengthAdjust="spacingAndGlyphs">400</text>
<text x="434.66" y="399.75" font-size="5.83" text-anchor="middle" textLength="10.5" lengthAdjust="spacingAndGlyphs">600</text>
<text x="461.58" y="399.75" font-size="5.83" text-anchor="middle" textLength="10.5" lengthAdjust="spacingAndGlyphs">800</text>
<text x="488.5" y="399.75" font-size="5.83" text-anchor="middle" textLength="14" lengthAdjust="spacingAndGlyphs">1000</text>
<g clip-path="url(#clip40)">
<path d="M31.5,478.66 L34.18,478.48 L36.86,478.29 L39.53,478.11 L42.21,477.92 L44.89,477.74 L47.57,477.55 L50.25,477.37 L52.92,477.18 L55.6,477 L58.28,476.81 L60.96,476.63 L63.64,476.44 L66.31,476.25 L68.99,476.07 L71.67,475.88 L74.35,475.7 L77.03,475.51 L79.7,475.33 L82.38,475.14 L85.06,474.96 L87.74,474.77 L90.42,474.59 L93.09,474.4 L95.77,474.22 L98.45,474.03 L101.13,473.85 L103.81,473.66 L106.48,473.48 L109.16,473.29 L111.84,473.11 L114.52,472.92 L117.2,472.73 L119.87,472.55 L122.55,472.36 L125.23,472.18 L127.91,471.99 L130.59,471.81 L133.26,471.62 L135.94,471.44 L138.62,471.25 L141.3,471.07 L143.98,470.88 L146.65,470.7 L149.33,470.51 L152.01,470.33 L154.69,470.14 L157.37,469.96 L160.04,469.77 L162.72,469.59 L165.4,469.4 L165.4,490.41 L31.5,490.41 Z" fill="#dcdcdc"/>
<rect x="31.5" y="474.91" width="1.15" height="3.72" fill="url(#g4)"/>
<rect x="32.5" y="474.84" width="1.15" height="3.72" fill="url(#g4)"/>
<rect x="33.5" y="474.78" width="1.15" height="3.71" fill="url(#g4)"/>
<rect x="34.5" y="474.72" width="1.15" height="3.71" fill="url(#g4)"/>
<rect x="35.5" y="474.65" width="1.15" height="3.7" fill="url(#g4)"/>
<rect x="36.5" y="474.59" width="1.15" height="3.69" fill="url(#g4)"/>
<rect x="37.5" y="474.53" width="1.15" height="3.69" fill="url(#g4)"/>
<rect x="38.5" y="474.46" width="1.15" height="3.68" fill="url(#g4)"/>
<rect x="39.5" y="474.4" width="1.15" height="3.68" fill="url(#g4)"/>
<rect x="40.5" y="474.33" width="1.15" height="3.67" fill="url(#g4)"/>
<rect x="41.5" y="474.27" width="1.15" height="3.67" fill="url(#g4)"/>
<rect x="42.5" y="474.21" width="1.15" height="3.66" fill="url(#g4)"/>
<rect x="43.5" y="474.14" width="1.15" height="3.66" fill="url(#g4)"/>
<rect x="44.5" y="474.08" width="1.15" height="3.65" fill="url(#g4)"/>
<rect x="45.5" y="474.02" width="1.15" height="3.64" fill="url(#g4)"/>
<rect x="46.5" y="473.95" width="1.15" height="3.64" fill="url(#g4)"/>
<rect x="47.5" y="473.89" width="1.15" height="3.63" fill="url(#g4)"/>
<rect x="48.5" y="473.83" width="1.15" height="3.63" fill="url(#g4)"/>
<rect x="49.5" y="473.76" width="1.15" height="3.62" fill="url(#g4)"/>
<rect x="50.5" y="473.7" width="1.15" height="3.62" fill="url(#g4)"/>
<rect x="51.5" y="473.63" width="1.15" height="3.61" fill="url(#g4)"/>
<rect x="52.5" y="473.57" width="1.15" height="3.61" fill="url(#g4)"/>
<rect x="53.5" y="473.51" width="1.15" height="3.6" fill="url(#g4)"/>
<rect x="54.5" y="473.44" width="1.15" height="3.59" fill="url(#g4)"/>
<rect x="55.5" y="473.38" width="1.15" height="3.59" fill="url(#g4)"/>
<rect x="56.5" y="473.32" width="1.15" height="3.58" fill="url(#g4)"/>
<rect x="57.5" y="473.25" width="1.15" height="3.58" fill="url(#g4)"/>
<rect x="58.5" y="473.19" width="1.15" height="3.57" fill="url(#g4)"/>
<rect x="59.5" y="473.13" width="1.15" height="3.57" fill="url(#g4)"/>
<rect x="60.5" y="473.06" width="1.15" height="3.56" fill="url(#g4)"/>
<rect x="61.5" y="473" width="1.15" height="3.56" fill="url(#g4)"/>
<rect x="62.5" y="472.93" width="1.15" height="3.55" fill="url(#g4)"/>
<rect x="63.5" y="472.87" width="1.15" height="3.54" fill="url(#g4)"/>
<rect x="64.5" y="472.81" width="1.15" height="3.54" fill="url(#g4)"/>
<rect x="65.5" y="472.74" width="1.15" height="3.53" fill="url(#g4)"/>
<rect x="66.5" y="472.68" width="1.15" height="3.53" fill="url(#g4)"/>
<rect x="67.5" y="472.62" width="1.15" height="3.52" fill="url(#g4)"/>
<rect x="68.5" y="472.55" width="1.15" height="3.52" fill="url(#g4)"/>
<rect x="69.5" y="472.49" width="1.15" height="3.51" fill="url(#g4)"/>
<rect x="70.5" y="472.43" width="1.15" height="3.51" fill="url(#g4)"/>
<rect x="71.5" y="472.36" width="1.15" height="3.5" fill="url(#g4)"/>
<rect x="72.5" y="472.3" width="1.15" height="3.49" fill="url(#g4)"/>
<rect x="73.5" y="472.23" width="1.15" height="3.49" fill="url(#g4)"/>
<rect x="74.5" y="472.17" width="1.15" height="3.48" fill="url(#g4)"/>
<rect x="75.5" y="472.11" width="1.15" height="3.48" fill="url(#g4)"/>
<rect x="76.5" y="472.04" width="1.15" height="3.47" fill="url(#g4)"/>
<rect x="77.5" y="471.98" width="1.15" height="3.47" fill="url(#g4)"/>
<rect x="78.5" y="471.92" width="1.15" height="3.46" fill="url(#g4)"/>
<rect x="79.5" y="471.85" width="1.15" height="3.46" fill="url(#g4)"/>
<rect x="80.5" y="471.79" width="1.15" height="3.45" fill="url(#g4)"/>
<rect x="81.5" y="471.73" width="1.15" height="3.44" fill="url(#g4)"/>
<rect x="82.5" y="471.66" width="1.15" height="3.44" fill="url(#g4)"/>
<rect x="83.5" y="471.6" width="1.15" height="3.43" fill="url(#g4)"/>
<rect x="84.5" y="471.53" width="1.15" height="3.43" fill="url(#g4)"/>
<rect x="85.5" y="471.47" width="1.15" height="3.42" fill="url(#g4)"/>
<rect x="86.5" y="471.41" width="1.15" height="3.42" fill="url(#g4)"/>
<rect x="87.5" y="471.34" width="1.15" height="3.41" fill="url(#g4)"/>
<rect x="88.5" y="471.28" width="1.15" height="3.41" fill="url(#g4)"/>
<rect x="89.5" y="471.22" width="1.15" height="3.4" fill="url(#g4)"/>
<rect x="90.5" y="471.15" width="1.15" height="3.39" fill="url(#g4)"/>
<rect x="91.5" y="471.09" width="1.15" height="3.39" fill="url(#g4)"/>
<rect x="92.5" y="471.03" width="1.15" height="3.38" fill="url(#g4)"/>
<rect x="93.5" y="470.96" width="1.15" height="3.38" fill="url(#g4)"/>
<rect x="94.5" y="470.9" width="1.15" height="3.37" fill="url(#g4)"/>
<rect x="95.5" y="470.83" width="1.15" height="3.37" fill="url(#g4)"/>
<rect x="96.5" y="470.77" width="1.15" height="3.36" fill="url(#g4)"/>
<rect x="97.5" y="470.71" width="1.15" height="3.36" fill="url(#g4)"/>
<rect x="98.5" y="470.64" width="1.15" height="3.35" fill="url(#g4)"/>
<rect x="99.5" y="470.58" width="1.15" height="3.34" fill="url(#g4)"/>
<rect x="100.5" y="470.52" width="1.15" height="3.34" fill="url(#g4)"/>
<rect x="101.5" y="470.45" width="1.15" height="3.33" fill="url(#g4)"/>
<rect x="102.5" y="470.39" width="1.15" height="3.33" fill="url(#g4)"/>
<rect x="103.5" y="470.33" width="1.15" height="3.32" fill="url(#g4)"/>
<rect x="104.5" y="470.26" width="1.15" height="3.32" fill="url(#g4)"/>
<rect x="105.5" y="470.2" width="1.15" height="3.31" fill="url(#g4)"/>
<rect x="106.5" y="470.13" width="1.15" height="3.31" fill="url(#g4)"/>
<rect x="107.5" y="470.07" width="1.15" height="3.3" fill="url(#g4)"/>
<rect x="108.5" y="470.01" width="1.15" height="3.3" fill="url(#g4)"/>
<rect x="109.5" y="469.94" width="1.15" height="3.29" fill="url(#g4)"/>
<rect x="110.5" y="469.88" width="1.15" height="3.28" fill="url(#g4)"/>
<rect x="111.5" y="469.82" width="1.15" height="3.28" fill="url(#g4)"/>
<rect x="112.5" y="469.75" width="1.15" height="3.27" fill="url(#g4)"/>
<rect x="113.5" y="469.69" width="1.15" height="3.27" fill="url(#g4)"/>
<rect x="114.5" y="469.62" width="1.15" height="3.26" fill="url(#g4)"/>
<rect x="115.5" y="469.56" width="1.15" height="3.26" fill="url(#g4)"/>
<rect x="116.5" y="469.5" width="1.15" height="3.25" fill="url(#g4)"/>
<rect x="117.5" y="469.43" width="1.15" height="3.25" fill="url(#g4)"/>
<rect x="118.5" y="469.4" width="1.15" height="3.21" fill="url(#g4)"/>
<rect x="119.5" y="469.4" width="1.15" height="3.14" fill="url(#g4)"/>
<rect x="120.5" y="469.4" width="1.15" height="3.07" fill="url(#g4)"/>
<rect x="121.5" y="469.4" width="1.15" height="3" fill="url(#g4)"/>
<rect x="122.5" y="469.4" width="1.15" height="2.93" fill="url(#g4)"/>
<rect x="123.5" y="469.4" width="1.15" height="2.86" fill="url(#g4)"/>
<rect x="124.5" y="469.4" width="1.15" height="2.79" fill="url(#g4)"/>
<rect x="125.5" y="469.4" width="1.15" height="2.73" fill="url(#g4)"/>
<rect x="126.5" y="469.4" width="1.15" height="2.66" fill="url(#g4)"/>
<rect x="127.5" y="469.4" width="1.15" height="2.59" fill="url(#g4)"/>
<rect x="128.5" y="469.4" width="1.15" height="2.52" fill="url(#g4)"/>
<rect x="129.5" y="469.4" width="1.15" height="2.45" fill="url(#g4)"/>
<rect x="130.5" y="469.4" width="1.15" height="2.38" fill="url(#g4)"/>
<rect x="131.5" y="469.4" width="1.15" height="2.31" fill="url(#g4)"/>
<rect x="132.5" y="469.4" width="1.15" height="2.24" fill="url(#g4)"/>
<rect x="133.5" y="469.4" width="1.15" height="2.17" fill="url(#g4)"/>
<rect x="134.5" y="469.4" width="1.15" height="2.1" fill="url(#g4)"/>
<rect x="135.5" y="469.4" width="1.15" height="2.03" fill="url(#g4)"/>
<rect x="136.5" y="469.4" width="1.15" height="1.96" fill="url(#g4)"/>
<rect x="137.5" y="469.4" width="1.15" height="1.9" fill="url(#g4)"/>
<rect x="138.5" y="469.4" width="1.15" height="1.83" fill="url(#g4)"/>
<rect x="139.5" y="469.4" width="1.15" height="1.76" fill="url(#g4)"/>
<rect x="140.5" y="469.4" width="1.15" height="1.69" fill="url(#g4)"/>
<rect x="141.5" y="469.4" width="1.15" height="1.62" fill="url(#g4)"/>
<rect x="142.5" y="469.4" width="1.15" height="1.55" fill="url(#g4)"/>
<rect x="143.5" y="469.4" width="1.15" height="1.48" fill="url(#g4)"/>
<rect x="144.5" y="469.4" width="1.15" height="1.41" fill="url(#g4)"/>
<rect x="145.5" y="469.4" width="1.15" height="1.34" fill="url(#g4)"/>
<rect x="146.5" y="469.4" width="1.15" height="1.27" fill="url(#g4)"/>
<rect x="147.5" y="469.4" width="1.15" height="1.2" fill="url(#g4)"/>
<rect x="148.5" y="469.4" width="1.15" height="1.13" fill="url(#g4)"/>
<rect x="149.5" y="469.4" width="1.15" height="1.07" fill="url(#g4)"/>
<rect x="150.5" y="469.4" width="1.15" height="1" fill="url(#g4)"/>
<rect x="151.5" y="469.4" width="1.15" height="0.93" fill="url(#g4)"/>
<rect x="152.5" y="469.4" width="1.15" height="0.86" fill="url(#g4)"/>
<rect x="153.5" y="469.4" width="1.15" height="0.79" fill="url(#g4)"/>
<rect x="154.5" y="469.4" width="1.15" height="0.72" fill="url(#g4)"/>
<rect x="155.5" y="469.4" width="1.15" height="0.65" fill="url(#g4)"/>
<rect x="156.5" y="469.4" width="1.15" height="0.58" fill="url(#g4)"/>
<rect x="157.5" y="469.4" width="1.15" height="0.51" fill="url(#g4)"/>
<rect x="158.5" y="469.4" width="1.15" height="0.44" fill="url(#g4)"/>
<rect x="159.5" y="469.4" width="1.15" height="0.37" fill="url(#g4)"/>
<rect x="160.5" y="469.4" width="1.15" height="0.3" fill="url(#g4)"/>
<rect x="161.5" y="469.4" width="1.15" height="0.24" fill="url(#g4)"/>
<rect x="162.5" y="469.4" width="1.15" height="0.17" fill="url(#g4)"/>
<rect x="163.5" y="469.4" width="1.15" height="0.1" fill="url(#g4)"/>
<path d="M31.5,469.4 L31.5,474.94 L32.84,474.85 L34.18,474.77 L35.52,474.68 L36.86,474.6 L38.2,474.51 L39.53,474.43 L40.87,474.34 L42.21,474.26 L43.55,474.17 L44.89,474.09 L46.23,474 L47.57,473.92 L48.91,473.83 L50.25,473.75 L51.59,473.66 L52.92,473.58 L54.26,473.49 L55.6,473.41 L56.94,473.32 L58.28,473.23 L59.62,473.15 L60.96,473.06 L62.3,472.98 L63.64,472.89 L64.97,472.81 L66.31,472.72 L67.65,472.64 L68.99,472.55 L70.33,472.47 L71.67,472.38 L73.01,472.3 L74.35,472.21 L75.69,472.13 L77.03,472.04 L78.37,471.96 L79.7,471.87 L81.04,471.79 L82.38,471.7 L83.72,471.62 L85.06,471.53 L86.4,471.45 L87.74,471.36 L89.08,471.27 L90.42,471.19 L91.75,471.1 L93.09,471.02 L94.43,470.93 L95.77,470.85 L97.11,470.76 L98.45,470.68 L99.79,470.59 L101.13,470.51 L102.47,470.42 L103.81,470.34 L105.15,470.25 L106.48,470.17 L107.82,470.08 L109.16,470 L110.5,469.91 L111.84,469.83 L113.18,469.74 L114.52,469.66 L115.86,469.57 L117.2,469.49 L118.54,469.4 L119.87,469.4 L121.21,469.4 L122.55,469.4 L123.89,469.4 L125.23,469.4 L126.57,469.4 L127.91,469.4 L129.25,469.4 L130.59,469.4 L131.93,469.4 L133.26,469.4 L134.6,469.4 L135.94,469.4 L137.28,469.4 L138.62,469.4 L139.96,469.4 L141.3,469.4 L142.64,469.4 L143.98,469.4 L145.31,469.4 L146.65,469.4 L147.99,469.4 L149.33,469.4 L150.67,469.4 L152.01,469.4 L153.35,469.4 L154.69,469.4 L156.03,469.4 L157.37,469.4 L158.7,469.4 L160.04,469.4 L161.38,469.4 L162.72,469.4 L164.06,469.4 L165.4,469.4 L165.4,469.4 Z" fill="#8e2d04"/>
<path d="M31.5,474.94 L32.84,474.85 L34.18,474.77 L35.52,474.68 L36.86,474.6 L38.2,474.51 L39.53,474.43 L40.87,474.34 L42.21,474.26 L43.55,474.17 L44.89,474.09 L46.23,474 L47.57,473.92 L48.91,473.83 L50.25,473.75 L51.59,473.66 L52.92,473.58 L54.26,473.49 L55.6,473.41 L56.94,473.32 L58.28,473.23 L59.62,473.15 L60.96,473.06 L62.3,472.98 L63.64,472.89 L64.97,472.81 L66.31,472.72 L67.65,472.64 L68.99,472.55 L70.33,472.47 L71.67,472.38 L73.01,472.3 L74.35,472.21 L75.69,472.13 L77.03,472.04 L78.37,471.96 L79.7,471.87 L81.04,471.79 L82.38,471.7 L83.72,471.62 L85.06,471.53 L86.4,471.45 L87.74,471.36 L89.08,471.27 L90.42,471.19 L91.75,471.1 L93.09,471.02 L94.43,470.93 L95.77,470.85 L97.11,470.76 L98.45,470.68 L99.79,470.59 L101.13,470.51 L102.47,470.42 L103.81,470.34 L105.15,470.25 L106.48,470.17 L107.82,470.08 L109.16,470 L110.5,469.91 L111.84,469.83 L113.18,469.74 L114.52,469.66 L115.86,469.57 L117.2,469.49" fill="none" stroke="#1a0600" stroke-width="0.95" stroke-linejoin="round" stroke-linecap="butt" opacity="0.9"/>
<path d="M31.5,478.66 L34.18,478.48 L36.86,478.29 L39.53,478.11 L42.21,477.92 L44.89,477.74 L47.57,477.55 L50.25,477.37 L52.92,477.18 L55.6,477 L58.28,476.81 L60.96,476.63 L63.64,476.44 L66.31,476.25 L68.99,476.07 L71.67,475.88 L74.35,475.7 L77.03,475.51 L79.7,475.33 L82.38,475.14 L85.06,474.96 L87.74,474.77 L90.42,474.59 L93.09,474.4 L95.77,474.22 L98.45,474.03 L101.13,473.85 L103.81,473.66 L106.48,473.48 L109.16,473.29 L111.84,473.11 L114.52,472.92 L117.2,472.73 L119.87,472.55 L122.55,472.36 L125.23,472.18 L127.91,471.99 L130.59,471.81 L133.26,471.62 L135.94,471.44 L138.62,471.25 L141.3,471.07 L143.98,470.88 L146.65,470.7 L149.33,470.51 L152.01,470.33 L154.69,470.14 L157.37,469.96 L160.04,469.77 L162.72,469.59 L165.4,469.4" fill="none" stroke="#6a6a6a" stroke-width="0.55" stroke-linejoin="round" stroke-linecap="butt"/>
<path d="M31.5,469.3 L36.26,468.96 L41.02,468.62 L45.78,468.29 L50.55,467.95 L55.31,467.61 L60.07,467.27 L64.83,466.95 L69.59,466.65 L74.35,466.37 L79.12,466.12 L83.88,465.88 L88.64,465.64 L93.4,465.39 L98.16,465.12 L102.92,464.82 L107.68,464.49 L107.68,469.4 L31.5,469.4 Z" fill="#8e2d04"/>
<path d="M106.48,464.57 L106.82,464.55 L107.15,464.52 L107.49,464.5 L107.82,464.48 L108.16,464.46 L108.49,464.43 L108.83,464.41 L109.16,464.39 L109.49,464.37 L109.83,464.35 L110.16,464.33 L110.5,464.31 L110.83,464.28 L111.17,464.26 L111.5,464.24 L111.83,464.22 L111.83,469.4 L106.48,469.4 Z" fill="#b03903"/>
<path d="M110.63,464.3 L111.04,464.27 L111.44,464.25 L111.84,464.22 L112.24,464.2 L112.64,464.17 L113.04,464.15 L113.44,464.12 L113.85,464.1 L114.25,464.07 L114.65,464.05 L115.05,464.02 L115.45,464 L115.85,463.97 L116.25,463.95 L116.66,463.93 L117.06,463.9 L117.06,469.4 L110.63,469.4 Z" fill="#d94801"/>
<path d="M115.86,463.97 L116.23,463.95 L116.61,463.93 L116.99,463.91 L117.36,463.88 L117.74,463.86 L118.11,463.84 L118.49,463.82 L118.87,463.8 L119.24,463.77 L119.62,463.75 L120,463.73 L120.37,463.71 L120.75,463.69 L121.12,463.67 L121.5,463.65 L121.88,463.63 L121.88,469.4 L115.86,469.4 Z" fill="#ec620f"/>
<path d="M120.68,463.7 L121.09,463.67 L121.5,463.65 L121.91,463.63 L122.32,463.61 L122.73,463.59 L123.14,463.57 L123.55,463.55 L123.96,463.53 L124.37,463.51 L124.77,463.49 L125.18,463.47 L125.59,463.45 L126,463.43 L126.41,463.41 L126.82,463.39 L127.23,463.37 L127.23,469.4 L120.68,469.4 Z" fill="#f87f2c"/>
<path d="M126.03,463.43 L126.48,463.41 L126.92,463.39 L127.36,463.37 L127.81,463.35 L128.25,463.32 L128.69,463.3 L129.14,463.28 L129.58,463.26 L130.02,463.24 L130.47,463.22 L130.91,463.2 L131.35,463.18 L131.8,463.16 L132.24,463.14 L132.68,463.12 L133.12,463.1 L133.12,469.4 L126.03,469.4 Z" fill="#fd9a4e"/>
<path d="M131.93,463.15 L132.43,463.13 L132.93,463.11 L133.43,463.09 L133.93,463.07 L134.43,463.05 L134.94,463.03 L135.44,463.02 L135.94,463 L136.44,462.98 L136.94,462.97 L137.44,462.96 L137.95,462.94 L138.45,462.93 L138.95,462.92 L139.45,462.91 L139.95,462.91 L139.95,469.4 L131.93,469.4 Z" fill="#fdb576"/>
<path d="M138.75,462.93 L139.27,462.92 L139.79,462.91 L140.31,462.9 L140.83,462.89 L141.35,462.89 L141.87,462.88 L142.38,462.87 L142.9,462.87 L143.42,462.86 L143.94,462.86 L144.46,462.85 L144.98,462.84 L145.49,462.84 L146.01,462.83 L146.53,462.83 L147.05,462.82 L147.05,469.4 L138.75,469.4 Z" fill="#fdd1a3"/>
<path d="M145.85,462.83 L146.49,462.83 L147.14,462.82 L147.78,462.81 L148.43,462.81 L149.07,462.8 L149.72,462.79 L150.36,462.79 L151,462.78 L151.65,462.78 L152.29,462.77 L152.94,462.77 L153.58,462.76 L154.22,462.76 L154.87,462.75 L155.51,462.75 L156.16,462.74 L156.16,469.4 L145.85,469.4 Z" fill="#fee2c6"/>
<path d="M154.96,462.75 L155.61,462.75 L156.26,462.74 L156.91,462.74 L157.57,462.74 L158.22,462.73 L158.87,462.73 L159.53,462.73 L160.18,462.72 L160.83,462.72 L161.48,462.72 L162.14,462.72 L162.79,462.72 L163.44,462.72 L164.09,462.72 L164.75,462.72 L165.4,462.71 L165.4,469.4 L154.96,469.4 Z" fill="#ffefe0"/>
<path d="M110.63,469.4 L110.63,464.3" fill="none" stroke="#000" stroke-width="0.5" stroke-linejoin="round" stroke-linecap="butt" opacity="0.6"/>
<path d="M31.5,469.4 L165.4,469.4" fill="none" stroke="#0000ff" stroke-width="1.0" stroke-linejoin="round" stroke-linecap="butt" opacity="0.82"/>
<path d="M31.5,469.3 L32.84,469.21 L34.18,469.11 L35.52,469.02 L36.86,468.92 L38.2,468.82 L39.53,468.73 L40.87,468.63 L42.21,468.54 L43.55,468.44 L44.89,468.35 L46.23,468.26 L47.57,468.16 L48.91,468.07 L50.25,467.97 L51.59,467.87 L52.92,467.78 L54.26,467.68 L55.6,467.59 L56.94,467.49 L58.28,467.4 L59.62,467.31 L60.96,467.21 L62.3,467.12 L63.64,467.03 L64.97,466.94 L66.31,466.86 L67.65,466.77 L68.99,466.69 L70.33,466.61 L71.67,466.53 L73.01,466.45 L74.35,466.37 L75.69,466.3 L77.03,466.23 L78.37,466.16 L79.7,466.09 L81.04,466.02 L82.38,465.95 L83.72,465.88 L85.06,465.82 L86.4,465.75 L87.74,465.68 L89.08,465.61 L90.42,465.54 L91.75,465.47 L93.09,465.4 L94.43,465.33 L95.77,465.26 L97.11,465.18 L98.45,465.1 L99.79,465.02 L101.13,464.94 L102.47,464.85 L103.81,464.76 L105.15,464.66 L106.48,464.57 L107.82,464.48 L109.16,464.39 L110.5,464.31 L111.84,464.22 L113.18,464.14 L114.52,464.06 L115.86,463.97 L117.2,463.89 L118.54,463.82 L119.87,463.74 L121.21,463.67 L122.55,463.6 L123.89,463.53 L125.23,463.47 L126.57,463.4 L127.91,463.34 L129.25,463.28 L130.59,463.21 L131.93,463.15 L133.26,463.1 L134.6,463.05 L135.94,463 L137.28,462.96 L138.62,462.93 L139.96,462.91 L141.3,462.89 L142.64,462.87 L143.98,462.86 L145.31,462.84 L146.65,462.82 L147.99,462.81 L149.33,462.8 L150.67,462.79 L152.01,462.77 L153.35,462.76 L154.69,462.75 L156.03,462.74 L157.37,462.74 L158.7,462.73 L160.04,462.72 L161.38,462.72 L162.72,462.72 L164.06,462.72 L165.4,462.71" fill="none" stroke="#000" stroke-width="1.0" stroke-linejoin="round" stroke-linecap="butt"/>
</g>
<path d="M31.5,490.4 v2.1 M58.28,490.4 v2.1 M85.06,490.4 v2.1 M111.84,490.4 v2.1 M138.62,490.4 v2.1 M165.4,490.4 v2.1 M31.5,488.5 h-2.1 M31.5,469.4 h-2.1 M31.5,450.3 h-2.1 M31.5,431.2 h-2.1" stroke="#000" stroke-width="0.6" fill="none"/>
<rect x="31.5" y="419.4" width="133.9" height="71" fill="none" stroke="#000" stroke-width="0.45"/>
<text x="31.5" y="498.75" font-size="5.83" text-anchor="middle" textLength="3.5" lengthAdjust="spacingAndGlyphs">0</text>
<text x="58.28" y="498.75" font-size="5.83" text-anchor="middle" textLength="10.5" lengthAdjust="spacingAndGlyphs">200</text>
<text x="85.06" y="498.75" font-size="5.83" text-anchor="middle" textLength="10.5" lengthAdjust="spacingAndGlyphs">400</text>
<text x="111.84" y="498.75" font-size="5.83" text-anchor="middle" textLength="10.5" lengthAdjust="spacingAndGlyphs">600</text>
<text x="138.62" y="498.75" font-size="5.83" text-anchor="middle" textLength="10.5" lengthAdjust="spacingAndGlyphs">800</text>
<text x="165.4" y="498.75" font-size="5.83" text-anchor="middle" textLength="14" lengthAdjust="spacingAndGlyphs">1000</text>
<text x="27.65" y="490.4" font-size="5.83" text-anchor="end" textLength="15.11" lengthAdjust="spacingAndGlyphs">−200</text>
<text x="27.65" y="471.3" font-size="5.83" text-anchor="end" textLength="3.5" lengthAdjust="spacingAndGlyphs">0</text>
<text x="27.65" y="452.2" font-size="5.83" text-anchor="end" textLength="10.5" lengthAdjust="spacingAndGlyphs">200</text>
<text x="27.65" y="433.1" font-size="5.83" text-anchor="end" textLength="10.5" lengthAdjust="spacingAndGlyphs">400</text>
<text x="98.45" y="506.8" font-size="5.88" text-anchor="middle" textLength="35.77" lengthAdjust="spacingAndGlyphs">Distance (m)</text>
<g clip-path="url(#clip41)">
<path d="M192.4,479.05 L195.09,478.85 L197.78,478.66 L200.47,478.47 L203.16,478.27 L205.85,478.08 L208.54,477.89 L211.23,477.7 L213.92,477.5 L216.61,477.31 L219.3,477.12 L221.99,476.92 L224.68,476.73 L227.37,476.54 L230.06,476.34 L232.75,476.15 L235.44,475.96 L238.13,475.77 L240.82,475.57 L243.51,475.38 L246.2,475.19 L248.89,474.99 L251.58,474.8 L254.27,474.61 L256.96,474.42 L259.65,474.22 L262.34,474.03 L265.03,473.84 L267.72,473.64 L270.41,473.45 L273.1,473.26 L275.79,473.07 L278.48,472.87 L281.17,472.68 L283.86,472.49 L286.55,472.29 L289.24,472.1 L291.93,471.91 L294.62,471.71 L297.31,471.52 L300,471.33 L302.69,471.14 L305.38,470.94 L308.07,470.75 L310.76,470.56 L313.45,470.36 L316.14,470.17 L318.83,469.98 L321.52,469.79 L324.21,469.59 L326.9,469.4 L326.9,490.41 L192.4,490.41 Z" fill="#dcdcdc"/>
<rect x="192.4" y="469.4" width="1.15" height="9.61" fill="url(#g1)"/>
<rect x="193.4" y="469.4" width="1.15" height="9.54" fill="url(#g1)"/>
<rect x="194.4" y="469.4" width="1.15" height="9.47" fill="url(#g1)"/>
<rect x="195.4" y="469.4" width="1.15" height="9.39" fill="url(#g1)"/>
<rect x="196.4" y="469.4" width="1.15" height="9.32" fill="url(#g1)"/>
<rect x="197.4" y="469.4" width="1.15" height="9.25" fill="url(#g1)"/>
<rect x="198.4" y="469.4" width="1.15" height="9.18" fill="url(#g1)"/>
<rect x="199.4" y="469.4" width="1.15" height="9.11" fill="url(#g1)"/>
<rect x="200.4" y="469.4" width="1.15" height="9.04" fill="url(#g1)"/>
<rect x="201.4" y="469.4" width="1.15" height="8.96" fill="url(#g1)"/>
<rect x="202.4" y="469.4" width="1.15" height="8.89" fill="url(#g1)"/>
<rect x="203.4" y="469.4" width="1.15" height="8.82" fill="url(#g1)"/>
<rect x="204.4" y="469.4" width="1.15" height="8.75" fill="url(#g1)"/>
<rect x="205.4" y="469.4" width="1.15" height="8.68" fill="url(#g1)"/>
<rect x="206.4" y="469.4" width="1.15" height="8.61" fill="url(#g1)"/>
<rect x="207.4" y="469.4" width="1.15" height="8.53" fill="url(#g1)"/>
<rect x="208.4" y="469.4" width="1.15" height="8.46" fill="url(#g1)"/>
<rect x="209.4" y="469.4" width="1.15" height="8.39" fill="url(#g1)"/>
<rect x="210.4" y="469.4" width="1.15" height="8.32" fill="url(#g1)"/>
<rect x="211.4" y="469.4" width="1.15" height="8.25" fill="url(#g1)"/>
<rect x="212.4" y="469.4" width="1.15" height="8.18" fill="url(#g1)"/>
<rect x="213.4" y="469.4" width="1.15" height="8.1" fill="url(#g1)"/>
<rect x="214.4" y="469.4" width="1.15" height="8.03" fill="url(#g1)"/>
<rect x="215.4" y="469.4" width="1.15" height="7.96" fill="url(#g1)"/>
<rect x="216.4" y="469.4" width="1.15" height="7.89" fill="url(#g1)"/>
<rect x="217.4" y="469.4" width="1.15" height="7.82" fill="url(#g1)"/>
<rect x="218.4" y="469.4" width="1.15" height="7.75" fill="url(#g1)"/>
<rect x="219.4" y="469.4" width="1.15" height="7.67" fill="url(#g1)"/>
<rect x="220.4" y="469.4" width="1.15" height="7.6" fill="url(#g1)"/>
<rect x="221.4" y="469.4" width="1.15" height="7.53" fill="url(#g1)"/>
<rect x="222.4" y="469.4" width="1.15" height="7.46" fill="url(#g1)"/>
<rect x="223.4" y="469.4" width="1.15" height="7.39" fill="url(#g1)"/>
<rect x="224.4" y="469.4" width="1.15" height="7.31" fill="url(#g1)"/>
<rect x="225.4" y="469.4" width="1.15" height="7.24" fill="url(#g1)"/>
<rect x="226.4" y="469.4" width="1.15" height="7.17" fill="url(#g1)"/>
<rect x="227.4" y="469.4" width="1.15" height="7.1" fill="url(#g1)"/>
<rect x="228.4" y="469.4" width="1.15" height="7.03" fill="url(#g1)"/>
<rect x="229.4" y="469.4" width="1.15" height="6.96" fill="url(#g1)"/>
<rect x="230.4" y="469.4" width="1.15" height="6.88" fill="url(#g1)"/>
<rect x="231.4" y="469.4" width="1.15" height="6.81" fill="url(#g1)"/>
<rect x="232.4" y="469.4" width="1.15" height="6.74" fill="url(#g1)"/>
<rect x="233.4" y="469.4" width="1.15" height="6.67" fill="url(#g1)"/>
<rect x="234.4" y="469.4" width="1.15" height="6.6" fill="url(#g1)"/>
<rect x="235.4" y="469.4" width="1.15" height="6.53" fill="url(#g1)"/>
<rect x="236.4" y="469.4" width="1.15" height="6.45" fill="url(#g1)"/>
<rect x="237.4" y="469.4" width="1.15" height="6.38" fill="url(#g1)"/>
<rect x="238.4" y="469.4" width="1.15" height="6.31" fill="url(#g1)"/>
<rect x="239.4" y="469.4" width="1.15" height="6.24" fill="url(#g1)"/>
<rect x="240.4" y="469.4" width="1.15" height="6.17" fill="url(#g1)"/>
<rect x="241.4" y="469.4" width="1.15" height="6.1" fill="url(#g1)"/>
<rect x="242.4" y="469.4" width="1.15" height="6.02" fill="url(#g1)"/>
<rect x="243.4" y="469.4" width="1.15" height="5.95" fill="url(#g1)"/>
<rect x="244.4" y="469.4" width="1.15" height="5.88" fill="url(#g1)"/>
<rect x="245.4" y="469.4" width="1.15" height="5.81" fill="url(#g1)"/>
<rect x="246.4" y="469.4" width="1.15" height="5.74" fill="url(#g1)"/>
<rect x="247.4" y="469.4" width="1.15" height="5.67" fill="url(#g1)"/>
<rect x="248.4" y="469.4" width="1.15" height="5.59" fill="url(#g1)"/>
<rect x="249.4" y="469.4" width="1.15" height="5.52" fill="url(#g1)"/>
<rect x="250.4" y="469.4" width="1.15" height="5.45" fill="url(#g1)"/>
<rect x="251.4" y="469.4" width="1.15" height="5.38" fill="url(#g1)"/>
<rect x="252.4" y="469.4" width="1.15" height="5.31" fill="url(#g1)"/>
<rect x="253.4" y="469.4" width="1.15" height="5.24" fill="url(#g1)"/>
<rect x="254.4" y="469.4" width="1.15" height="5.16" fill="url(#g1)"/>
<rect x="255.4" y="469.4" width="1.15" height="5.09" fill="url(#g1)"/>
<rect x="256.4" y="469.4" width="1.15" height="5.02" fill="url(#g1)"/>
<rect x="257.4" y="469.4" width="1.15" height="4.95" fill="url(#g1)"/>
<rect x="258.4" y="469.4" width="1.15" height="4.88" fill="url(#g1)"/>
<rect x="259.4" y="469.4" width="1.15" height="4.8" fill="url(#g1)"/>
<rect x="260.4" y="469.4" width="1.15" height="4.73" fill="url(#g1)"/>
<rect x="261.4" y="469.4" width="1.15" height="4.66" fill="url(#g1)"/>
<rect x="262.4" y="469.4" width="1.15" height="4.59" fill="url(#g1)"/>
<rect x="263.4" y="469.4" width="1.15" height="4.52" fill="url(#g1)"/>
<rect x="264.4" y="469.4" width="1.15" height="4.45" fill="url(#g1)"/>
<rect x="265.4" y="469.4" width="1.15" height="4.37" fill="url(#g1)"/>
<rect x="266.4" y="469.4" width="1.15" height="4.3" fill="url(#g1)"/>
<rect x="267.4" y="469.4" width="1.15" height="4.23" fill="url(#g1)"/>
<rect x="268.4" y="469.4" width="1.15" height="4.16" fill="url(#g1)"/>
<rect x="269.4" y="469.4" width="1.15" height="4.09" fill="url(#g1)"/>
<rect x="270.4" y="469.4" width="1.15" height="4.02" fill="url(#g1)"/>
<rect x="271.4" y="469.4" width="1.15" height="3.94" fill="url(#g1)"/>
<rect x="272.4" y="469.4" width="1.15" height="3.87" fill="url(#g1)"/>
<rect x="273.4" y="469.4" width="1.15" height="3.8" fill="url(#g1)"/>
<rect x="274.4" y="469.4" width="1.15" height="3.73" fill="url(#g1)"/>
<rect x="275.4" y="469.4" width="1.15" height="3.66" fill="url(#g1)"/>
<rect x="276.4" y="469.4" width="1.15" height="3.59" fill="url(#g1)"/>
<rect x="277.4" y="469.4" width="1.15" height="3.51" fill="url(#g1)"/>
<rect x="278.4" y="469.4" width="1.15" height="3.44" fill="url(#g1)"/>
<rect x="279.4" y="469.4" width="1.15" height="3.37" fill="url(#g1)"/>
<rect x="280.4" y="469.4" width="1.15" height="3.3" fill="url(#g1)"/>
<rect x="281.4" y="469.4" width="1.15" height="3.23" fill="url(#g1)"/>
<rect x="282.4" y="469.4" width="1.15" height="3.16" fill="url(#g1)"/>
<rect x="283.4" y="469.4" width="1.15" height="3.08" fill="url(#g1)"/>
<rect x="284.4" y="469.4" width="1.15" height="3.01" fill="url(#g1)"/>
<rect x="285.4" y="469.4" width="1.15" height="2.94" fill="url(#g1)"/>
<rect x="286.4" y="469.4" width="1.15" height="2.87" fill="url(#g1)"/>
<rect x="287.4" y="469.4" width="1.15" height="2.8" fill="url(#g1)"/>
<rect x="288.4" y="469.4" width="1.15" height="2.73" fill="url(#g1)"/>
<rect x="289.4" y="469.4" width="1.15" height="2.65" fill="url(#g1)"/>
<rect x="290.4" y="469.4" width="1.15" height="2.58" fill="url(#g1)"/>
<rect x="291.4" y="469.4" width="1.15" height="2.51" fill="url(#g1)"/>
<rect x="292.4" y="469.4" width="1.15" height="2.44" fill="url(#g1)"/>
<rect x="293.4" y="469.4" width="1.15" height="2.37" fill="url(#g1)"/>
<rect x="294.4" y="469.4" width="1.15" height="2.29" fill="url(#g1)"/>
<rect x="295.4" y="469.4" width="1.15" height="2.22" fill="url(#g1)"/>
<rect x="296.4" y="469.4" width="1.15" height="2.15" fill="url(#g1)"/>
<rect x="297.4" y="469.4" width="1.15" height="2.08" fill="url(#g1)"/>
<rect x="298.4" y="469.4" width="1.15" height="2.01" fill="url(#g1)"/>
<rect x="299.4" y="469.4" width="1.15" height="1.94" fill="url(#g1)"/>
<rect x="300.4" y="469.4" width="1.15" height="1.86" fill="url(#g1)"/>
<rect x="301.4" y="469.4" width="1.15" height="1.79" fill="url(#g1)"/>
<rect x="302.4" y="469.4" width="1.15" height="1.72" fill="url(#g1)"/>
<rect x="303.4" y="469.4" width="1.15" height="1.65" fill="url(#g1)"/>
<rect x="304.4" y="469.4" width="1.15" height="1.58" fill="url(#g1)"/>
<rect x="305.4" y="469.4" width="1.15" height="1.51" fill="url(#g1)"/>
<rect x="306.4" y="469.4" width="1.15" height="1.43" fill="url(#g1)"/>
<rect x="307.4" y="469.4" width="1.15" height="1.36" fill="url(#g1)"/>
<rect x="308.4" y="469.4" width="1.15" height="1.29" fill="url(#g1)"/>
<rect x="309.4" y="469.4" width="1.15" height="1.22" fill="url(#g1)"/>
<rect x="310.4" y="469.4" width="1.15" height="1.15" fill="url(#g1)"/>
<rect x="311.4" y="469.4" width="1.15" height="1.08" fill="url(#g1)"/>
<rect x="312.4" y="469.4" width="1.15" height="1" fill="url(#g1)"/>
<rect x="313.4" y="469.4" width="1.15" height="0.93" fill="url(#g1)"/>
<rect x="314.4" y="469.4" width="1.15" height="0.86" fill="url(#g1)"/>
<rect x="315.4" y="469.4" width="1.15" height="0.79" fill="url(#g1)"/>
<rect x="316.4" y="469.4" width="1.15" height="0.72" fill="url(#g1)"/>
<rect x="317.4" y="469.4" width="1.15" height="0.65" fill="url(#g1)"/>
<rect x="318.4" y="469.4" width="1.15" height="0.57" fill="url(#g1)"/>
<rect x="319.4" y="469.4" width="1.15" height="0.5" fill="url(#g1)"/>
<rect x="320.4" y="469.4" width="1.15" height="0.43" fill="url(#g1)"/>
<rect x="321.4" y="469.4" width="1.15" height="0.36" fill="url(#g1)"/>
<rect x="322.4" y="469.4" width="1.15" height="0.29" fill="url(#g1)"/>
<rect x="323.4" y="469.4" width="1.15" height="0.22" fill="url(#g1)"/>
<rect x="324.4" y="469.4" width="1.15" height="0.14" fill="url(#g1)"/>
<rect x="325.4" y="469.4" width="1.15" height="0.07" fill="url(#g1)"/>
<path d="M192.4,479.05 L195.09,478.85 L197.78,478.66 L200.47,478.47 L203.16,478.27 L205.85,478.08 L208.54,477.89 L211.23,477.7 L213.92,477.5 L216.61,477.31 L219.3,477.12 L221.99,476.92 L224.68,476.73 L227.37,476.54 L230.06,476.34 L232.75,476.15 L235.44,475.96 L238.13,475.77 L240.82,475.57 L243.51,475.38 L246.2,475.19 L248.89,474.99 L251.58,474.8 L254.27,474.61 L256.96,474.42 L259.65,474.22 L262.34,474.03 L265.03,473.84 L267.72,473.64 L270.41,473.45 L273.1,473.26 L275.79,473.07 L278.48,472.87 L281.17,472.68 L283.86,472.49 L286.55,472.29 L289.24,472.1 L291.93,471.91 L294.62,471.71 L297.31,471.52 L300,471.33 L302.69,471.14 L305.38,470.94 L308.07,470.75 L310.76,470.56 L313.45,470.36 L316.14,470.17 L318.83,469.98 L321.52,469.79 L324.21,469.59 L326.9,469.4" fill="none" stroke="#6a6a6a" stroke-width="0.55" stroke-linejoin="round" stroke-linecap="butt"/>
<path d="M192.4,469.4 L193.33,469.04 L194.26,468.68 L195.2,468.3 L196.13,467.9 L197.06,467.48 L197.99,467.05 L198.93,466.62 L199.86,466.18 L200.79,465.73 L201.72,465.3 L202.66,464.86 L203.59,464.44 L204.52,464.03 L205.45,463.64 L206.39,463.27 L207.32,462.9 L207.32,469.4 L192.4,469.4 Z" fill="#b03903"/>
<path d="M206.12,463.37 L207.61,462.79 L209.09,462.23 L210.58,461.69 L212.07,461.16 L213.56,460.65 L215.04,460.15 L216.53,459.66 L218.02,459.18 L219.5,458.7 L220.99,458.24 L222.48,457.79 L223.97,457.34 L225.45,456.92 L226.94,456.5 L228.43,456.1 L229.91,455.72 L229.91,469.4 L206.12,469.4 Z" fill="#d94801"/>
<path d="M228.72,456.03 L230,455.7 L231.29,455.38 L232.57,455.06 L233.86,454.75 L235.14,454.45 L236.43,454.16 L237.71,453.87 L239,453.6 L240.28,453.33 L241.57,453.07 L242.86,452.81 L244.14,452.56 L245.43,452.32 L246.71,452.08 L248,451.85 L249.28,451.63 L249.28,469.4 L228.72,469.4 Z" fill="#ec620f"/>
<path d="M248.08,451.84 L249.05,451.67 L250.02,451.51 L250.98,451.36 L251.95,451.21 L252.91,451.07 L253.88,450.93 L254.85,450.8 L255.81,450.67 L256.78,450.55 L257.74,450.43 L258.71,450.32 L259.68,450.21 L260.64,450.1 L261.61,449.99 L262.57,449.89 L263.54,449.78 L263.54,469.4 L248.08,469.4 Z" fill="#f87f2c"/>
<path d="M262.34,449.91 L263.34,449.8 L264.34,449.69 L265.34,449.59 L266.34,449.48 L267.34,449.37 L268.34,449.27 L269.34,449.17 L270.34,449.07 L271.34,448.97 L272.34,448.88 L273.34,448.78 L274.34,448.69 L275.34,448.6 L276.34,448.52 L277.34,448.44 L278.33,448.35 L278.33,469.4 L262.34,469.4 Z" fill="#fd9a4e"/>
<path d="M277.13,448.45 L278.04,448.38 L278.95,448.31 L279.86,448.23 L280.76,448.16 L281.67,448.1 L282.58,448.03 L283.49,447.96 L284.39,447.9 L285.3,447.84 L286.21,447.77 L287.11,447.71 L288.02,447.66 L288.93,447.6 L289.84,447.54 L290.74,447.49 L291.65,447.44 L291.65,469.4 L277.13,469.4 Z" fill="#fdb576"/>
<path d="M290.45,447.51 L291.3,447.46 L292.15,447.41 L293,447.36 L293.84,447.31 L294.69,447.26 L295.54,447.21 L296.39,447.17 L297.24,447.12 L298.09,447.08 L298.93,447.04 L299.78,447 L300.63,446.96 L301.48,446.92 L302.33,446.89 L303.18,446.85 L304.02,446.82 L304.02,469.4 L290.45,469.4 Z" fill="#fdd1a3"/>
<path d="M302.82,446.87 L303.67,446.83 L304.52,446.8 L305.37,446.77 L306.22,446.74 L307.07,446.71 L307.91,446.68 L308.76,446.65 L309.61,446.62 L310.46,446.6 L311.31,446.57 L312.16,446.55 L313,446.53 L313.85,446.5 L314.7,446.48 L315.55,446.47 L316.4,446.45 L316.4,469.4 L302.82,469.4 Z" fill="#fee2c6"/>
<path d="M315.2,446.47 L315.93,446.46 L316.66,446.44 L317.39,446.43 L318.12,446.41 L318.86,446.4 L319.59,446.39 L320.32,446.37 L321.05,446.36 L321.78,446.35 L322.51,446.34 L323.24,446.33 L323.97,446.32 L324.71,446.31 L325.44,446.3 L326.17,446.3 L326.9,446.29 L326.9,469.4 L315.2,469.4 Z" fill="#ffefe0"/>
<path d="M206.12,469.4 L206.12,463.37" fill="none" stroke="#000" stroke-width="0.7" stroke-linejoin="round" stroke-linecap="butt" opacity="1.0"/>
<path d="M192.4,469.4 L326.9,469.4" fill="none" stroke="#0000ff" stroke-width="1.0" stroke-linejoin="round" stroke-linecap="butt" opacity="0.82"/>
<path d="M192.4,469.4 L193.75,468.88 L195.09,468.34 L196.44,467.76 L197.78,467.15 L199.12,466.52 L200.47,465.89 L201.81,465.25 L203.16,464.63 L204.5,464.04 L205.85,463.48 L207.19,462.95 L208.54,462.44 L209.88,461.94 L211.23,461.45 L212.57,460.98 L213.92,460.52 L215.27,460.07 L216.61,459.63 L217.96,459.2 L219.3,458.77 L220.65,458.35 L221.99,457.93 L223.34,457.53 L224.68,457.14 L226.03,456.76 L227.37,456.39 L228.72,456.03 L230.06,455.68 L231.41,455.35 L232.75,455.02 L234.09,454.7 L235.44,454.38 L236.78,454.08 L238.13,453.78 L239.47,453.5 L240.82,453.22 L242.16,452.95 L243.51,452.68 L244.85,452.43 L246.2,452.18 L247.54,451.93 L248.89,451.7 L250.23,451.48 L251.58,451.26 L252.93,451.06 L254.27,450.88 L255.61,450.7 L256.96,450.53 L258.31,450.37 L259.65,450.21 L261,450.06 L262.34,449.91 L263.69,449.76 L265.03,449.62 L266.38,449.48 L267.72,449.33 L269.06,449.2 L270.41,449.06 L271.75,448.93 L273.1,448.81 L274.44,448.68 L275.79,448.56 L277.13,448.45 L278.48,448.34 L279.82,448.24 L281.17,448.13 L282.51,448.03 L283.86,447.94 L285.2,447.84 L286.55,447.75 L287.89,447.66 L289.24,447.58 L290.58,447.5 L291.93,447.42 L293.27,447.34 L294.62,447.26 L295.96,447.19 L297.31,447.12 L298.65,447.05 L300,446.99 L301.34,446.93 L302.69,446.87 L304.03,446.82 L305.38,446.77 L306.72,446.72 L308.07,446.67 L309.41,446.63 L310.76,446.59 L312.1,446.55 L313.45,446.51 L314.79,446.48 L316.14,446.45 L317.49,446.43 L318.83,446.4 L320.17,446.38 L321.52,446.35 L322.87,446.33 L324.21,446.32 L325.55,446.3 L326.9,446.29" fill="none" stroke="#000" stroke-width="1.0" stroke-linejoin="round" stroke-linecap="butt"/>
</g>
<path d="M192.4,490.4 v2.1 M219.3,490.4 v2.1 M246.2,490.4 v2.1 M273.1,490.4 v2.1 M300,490.4 v2.1 M326.9,490.4 v2.1 M192.4,488.5 h-2.1 M192.4,469.4 h-2.1 M192.4,450.3 h-2.1 M192.4,431.2 h-2.1" stroke="#000" stroke-width="0.6" fill="none"/>
<rect x="192.4" y="419.4" width="134.5" height="71" fill="none" stroke="#000" stroke-width="0.45"/>
<text x="192.4" y="498.75" font-size="5.83" text-anchor="middle" textLength="3.5" lengthAdjust="spacingAndGlyphs">0</text>
<text x="219.3" y="498.75" font-size="5.83" text-anchor="middle" textLength="10.5" lengthAdjust="spacingAndGlyphs">200</text>
<text x="246.2" y="498.75" font-size="5.83" text-anchor="middle" textLength="10.5" lengthAdjust="spacingAndGlyphs">400</text>
<text x="273.1" y="498.75" font-size="5.83" text-anchor="middle" textLength="10.5" lengthAdjust="spacingAndGlyphs">600</text>
<text x="300" y="498.75" font-size="5.83" text-anchor="middle" textLength="10.5" lengthAdjust="spacingAndGlyphs">800</text>
<text x="326.9" y="498.75" font-size="5.83" text-anchor="middle" textLength="14" lengthAdjust="spacingAndGlyphs">1000</text>
<text x="259.65" y="506.8" font-size="5.88" text-anchor="middle" textLength="35.77" lengthAdjust="spacingAndGlyphs">Distance (m)</text>
<g clip-path="url(#clip42)">
<path d="M353.9,478.47 L356.59,478.29 L359.28,478.11 L361.98,477.93 L364.67,477.75 L367.36,477.57 L370.05,477.38 L372.74,477.2 L375.44,477.02 L378.13,476.84 L380.82,476.66 L383.51,476.48 L386.2,476.3 L388.9,476.11 L391.59,475.93 L394.28,475.75 L396.97,475.57 L399.66,475.39 L402.36,475.21 L405.05,475.02 L407.74,474.84 L410.43,474.66 L413.12,474.48 L415.82,474.3 L418.51,474.12 L421.2,473.94 L423.89,473.75 L426.58,473.57 L429.28,473.39 L431.97,473.21 L434.66,473.03 L437.35,472.85 L440.04,472.67 L442.74,472.48 L445.43,472.3 L448.12,472.12 L450.81,471.94 L453.5,471.76 L456.2,471.58 L458.89,471.4 L461.58,471.21 L464.27,471.03 L466.96,470.85 L469.66,470.67 L472.35,470.49 L475.04,470.31 L477.73,470.13 L480.42,469.94 L483.12,469.76 L485.81,469.58 L488.5,469.4 L488.5,490.41 L353.9,490.41 Z" fill="#dcdcdc"/>
<rect x="353.9" y="469.4" width="1.15" height="9.04" fill="url(#g2)"/>
<rect x="354.9" y="469.4" width="1.15" height="8.97" fill="url(#g2)"/>
<rect x="355.9" y="469.4" width="1.15" height="8.9" fill="url(#g2)"/>
<rect x="356.9" y="469.4" width="1.15" height="8.84" fill="url(#g2)"/>
<rect x="357.9" y="469.4" width="1.15" height="8.77" fill="url(#g2)"/>
<rect x="358.9" y="469.4" width="1.15" height="8.7" fill="url(#g2)"/>
<rect x="359.9" y="469.4" width="1.15" height="8.63" fill="url(#g2)"/>
<rect x="360.9" y="469.4" width="1.15" height="8.57" fill="url(#g2)"/>
<rect x="361.9" y="469.4" width="1.15" height="8.5" fill="url(#g2)"/>
<rect x="362.9" y="469.4" width="1.15" height="8.43" fill="url(#g2)"/>
<rect x="363.9" y="469.4" width="1.15" height="8.36" fill="url(#g2)"/>
<rect x="364.9" y="469.4" width="1.15" height="8.3" fill="url(#g2)"/>
<rect x="365.9" y="469.4" width="1.15" height="8.23" fill="url(#g2)"/>
<rect x="366.9" y="469.4" width="1.15" height="8.16" fill="url(#g2)"/>
<rect x="367.9" y="469.4" width="1.15" height="8.1" fill="url(#g2)"/>
<rect x="368.9" y="469.4" width="1.15" height="8.03" fill="url(#g2)"/>
<rect x="369.9" y="469.4" width="1.15" height="7.96" fill="url(#g2)"/>
<rect x="370.9" y="469.4" width="1.15" height="7.89" fill="url(#g2)"/>
<rect x="371.9" y="469.4" width="1.15" height="7.83" fill="url(#g2)"/>
<rect x="372.9" y="469.4" width="1.15" height="7.76" fill="url(#g2)"/>
<rect x="373.9" y="469.4" width="1.15" height="7.69" fill="url(#g2)"/>
<rect x="374.9" y="469.4" width="1.15" height="7.62" fill="url(#g2)"/>
<rect x="375.9" y="469.4" width="1.15" height="7.56" fill="url(#g2)"/>
<rect x="376.9" y="469.4" width="1.15" height="7.49" fill="url(#g2)"/>
<rect x="377.9" y="469.4" width="1.15" height="7.42" fill="url(#g2)"/>
<rect x="378.9" y="469.4" width="1.15" height="7.35" fill="url(#g2)"/>
<rect x="379.9" y="469.4" width="1.15" height="7.29" fill="url(#g2)"/>
<rect x="380.9" y="469.4" width="1.15" height="7.22" fill="url(#g2)"/>
<rect x="381.9" y="469.4" width="1.15" height="7.15" fill="url(#g2)"/>
<rect x="382.9" y="469.4" width="1.15" height="7.08" fill="url(#g2)"/>
<rect x="383.9" y="469.4" width="1.15" height="7.02" fill="url(#g2)"/>
<rect x="384.9" y="469.4" width="1.15" height="6.95" fill="url(#g2)"/>
<rect x="385.9" y="469.4" width="1.15" height="6.88" fill="url(#g2)"/>
<rect x="386.9" y="469.4" width="1.15" height="6.81" fill="url(#g2)"/>
<rect x="387.9" y="469.4" width="1.15" height="6.75" fill="url(#g2)"/>
<rect x="388.9" y="469.4" width="1.15" height="6.68" fill="url(#g2)"/>
<rect x="389.9" y="469.4" width="1.15" height="6.61" fill="url(#g2)"/>
<rect x="390.9" y="469.4" width="1.15" height="6.54" fill="url(#g2)"/>
<rect x="391.9" y="469.4" width="1.15" height="6.48" fill="url(#g2)"/>
<rect x="392.9" y="469.4" width="1.15" height="6.41" fill="url(#g2)"/>
<rect x="393.9" y="469.4" width="1.15" height="6.34" fill="url(#g2)"/>
<rect x="394.9" y="469.4" width="1.15" height="6.28" fill="url(#g2)"/>
<rect x="395.9" y="469.4" width="1.15" height="6.21" fill="url(#g2)"/>
<rect x="396.9" y="469.4" width="1.15" height="6.14" fill="url(#g2)"/>
<rect x="397.9" y="469.4" width="1.15" height="6.07" fill="url(#g2)"/>
<rect x="398.9" y="469.4" width="1.15" height="6.01" fill="url(#g2)"/>
<rect x="399.9" y="469.4" width="1.15" height="5.94" fill="url(#g2)"/>
<rect x="400.9" y="469.4" width="1.15" height="5.87" fill="url(#g2)"/>
<rect x="401.9" y="469.4" width="1.15" height="5.8" fill="url(#g2)"/>
<rect x="402.9" y="469.4" width="1.15" height="5.74" fill="url(#g2)"/>
<rect x="403.9" y="469.4" width="1.15" height="5.67" fill="url(#g2)"/>
<rect x="404.9" y="469.4" width="1.15" height="5.6" fill="url(#g2)"/>
<rect x="405.9" y="469.4" width="1.15" height="5.53" fill="url(#g2)"/>
<rect x="406.9" y="469.4" width="1.15" height="5.47" fill="url(#g2)"/>
<rect x="407.9" y="469.4" width="1.15" height="5.4" fill="url(#g2)"/>
<rect x="408.9" y="469.4" width="1.15" height="5.33" fill="url(#g2)"/>
<rect x="409.9" y="469.4" width="1.15" height="5.26" fill="url(#g2)"/>
<rect x="410.9" y="469.4" width="1.15" height="5.2" fill="url(#g2)"/>
<rect x="411.9" y="469.4" width="1.15" height="5.13" fill="url(#g2)"/>
<rect x="412.9" y="469.4" width="1.15" height="5.06" fill="url(#g2)"/>
<rect x="413.9" y="469.4" width="1.15" height="4.99" fill="url(#g2)"/>
<rect x="414.9" y="469.4" width="1.15" height="4.93" fill="url(#g2)"/>
<rect x="415.9" y="469.4" width="1.15" height="4.86" fill="url(#g2)"/>
<rect x="416.9" y="469.4" width="1.15" height="4.79" fill="url(#g2)"/>
<rect x="417.9" y="469.4" width="1.15" height="4.72" fill="url(#g2)"/>
<rect x="418.9" y="469.4" width="1.15" height="4.66" fill="url(#g2)"/>
<rect x="419.9" y="469.4" width="1.15" height="4.59" fill="url(#g2)"/>
<rect x="420.9" y="469.4" width="1.15" height="4.52" fill="url(#g2)"/>
<rect x="421.9" y="469.4" width="1.15" height="4.46" fill="url(#g2)"/>
<rect x="422.9" y="469.4" width="1.15" height="4.39" fill="url(#g2)"/>
<rect x="423.9" y="469.4" width="1.15" height="4.32" fill="url(#g2)"/>
<rect x="424.9" y="469.4" width="1.15" height="4.25" fill="url(#g2)"/>
<rect x="425.9" y="469.4" width="1.15" height="4.19" fill="url(#g2)"/>
<rect x="426.9" y="469.4" width="1.15" height="4.12" fill="url(#g2)"/>
<rect x="427.9" y="469.4" width="1.15" height="4.05" fill="url(#g2)"/>
<rect x="428.9" y="469.4" width="1.15" height="3.98" fill="url(#g2)"/>
<rect x="429.9" y="469.4" width="1.15" height="3.92" fill="url(#g2)"/>
<rect x="430.9" y="469.4" width="1.15" height="3.85" fill="url(#g2)"/>
<rect x="431.9" y="469.4" width="1.15" height="3.78" fill="url(#g2)"/>
<rect x="432.9" y="469.4" width="1.15" height="3.71" fill="url(#g2)"/>
<rect x="433.9" y="469.4" width="1.15" height="3.65" fill="url(#g2)"/>
<rect x="434.9" y="469.4" width="1.15" height="3.58" fill="url(#g2)"/>
<rect x="435.9" y="469.4" width="1.15" height="3.51" fill="url(#g2)"/>
<rect x="436.9" y="469.4" width="1.15" height="3.44" fill="url(#g2)"/>
<rect x="437.9" y="469.4" width="1.15" height="3.38" fill="url(#g2)"/>
<rect x="438.9" y="469.4" width="1.15" height="3.31" fill="url(#g2)"/>
<rect x="439.9" y="469.4" width="1.15" height="3.24" fill="url(#g2)"/>
<rect x="440.9" y="469.4" width="1.15" height="3.17" fill="url(#g2)"/>
<rect x="441.9" y="469.4" width="1.15" height="3.11" fill="url(#g2)"/>
<rect x="442.9" y="469.4" width="1.15" height="3.04" fill="url(#g2)"/>
<rect x="443.9" y="469.4" width="1.15" height="2.97" fill="url(#g2)"/>
<rect x="444.9" y="469.4" width="1.15" height="2.91" fill="url(#g2)"/>
<rect x="445.9" y="469.4" width="1.15" height="2.84" fill="url(#g2)"/>
<rect x="446.9" y="469.4" width="1.15" height="2.77" fill="url(#g2)"/>
<rect x="447.9" y="469.4" width="1.15" height="2.7" fill="url(#g2)"/>
<rect x="448.9" y="469.4" width="1.15" height="2.64" fill="url(#g2)"/>
<rect x="449.9" y="469.4" width="1.15" height="2.57" fill="url(#g2)"/>
<rect x="450.9" y="469.4" width="1.15" height="2.5" fill="url(#g2)"/>
<rect x="451.9" y="469.4" width="1.15" height="2.43" fill="url(#g2)"/>
<rect x="452.9" y="469.4" width="1.15" height="2.37" fill="url(#g2)"/>
<rect x="453.9" y="469.4" width="1.15" height="2.3" fill="url(#g2)"/>
<rect x="454.9" y="469.4" width="1.15" height="2.23" fill="url(#g2)"/>
<rect x="455.9" y="469.4" width="1.15" height="2.16" fill="url(#g2)"/>
<rect x="456.9" y="469.4" width="1.15" height="2.1" fill="url(#g2)"/>
<rect x="457.9" y="469.4" width="1.15" height="2.03" fill="url(#g2)"/>
<rect x="458.9" y="469.4" width="1.15" height="1.96" fill="url(#g2)"/>
<rect x="459.9" y="469.4" width="1.15" height="1.89" fill="url(#g2)"/>
<rect x="460.9" y="469.4" width="1.15" height="1.83" fill="url(#g2)"/>
<rect x="461.9" y="469.4" width="1.15" height="1.76" fill="url(#g2)"/>
<rect x="462.9" y="469.4" width="1.15" height="1.69" fill="url(#g2)"/>
<rect x="463.9" y="469.4" width="1.15" height="1.62" fill="url(#g2)"/>
<rect x="464.9" y="469.4" width="1.15" height="1.56" fill="url(#g2)"/>
<rect x="465.9" y="469.4" width="1.15" height="1.49" fill="url(#g2)"/>
<rect x="466.9" y="469.4" width="1.15" height="1.42" fill="url(#g2)"/>
<rect x="467.9" y="469.4" width="1.15" height="1.35" fill="url(#g2)"/>
<rect x="468.9" y="469.4" width="1.15" height="1.29" fill="url(#g2)"/>
<rect x="469.9" y="469.4" width="1.15" height="1.22" fill="url(#g2)"/>
<rect x="470.9" y="469.4" width="1.15" height="1.15" fill="url(#g2)"/>
<rect x="471.9" y="469.4" width="1.15" height="1.09" fill="url(#g2)"/>
<rect x="472.9" y="469.4" width="1.15" height="1.02" fill="url(#g2)"/>
<rect x="473.9" y="469.4" width="1.15" height="0.95" fill="url(#g2)"/>
<rect x="474.9" y="469.4" width="1.15" height="0.88" fill="url(#g2)"/>
<rect x="475.9" y="469.4" width="1.15" height="0.82" fill="url(#g2)"/>
<rect x="476.9" y="469.4" width="1.15" height="0.75" fill="url(#g2)"/>
<rect x="477.9" y="469.4" width="1.15" height="0.68" fill="url(#g2)"/>
<rect x="478.9" y="469.4" width="1.15" height="0.61" fill="url(#g2)"/>
<rect x="479.9" y="469.4" width="1.15" height="0.55" fill="url(#g2)"/>
<rect x="480.9" y="469.4" width="1.15" height="0.48" fill="url(#g2)"/>
<rect x="481.9" y="469.4" width="1.15" height="0.41" fill="url(#g2)"/>
<rect x="482.9" y="469.4" width="1.15" height="0.34" fill="url(#g2)"/>
<rect x="483.9" y="469.4" width="1.15" height="0.28" fill="url(#g2)"/>
<rect x="484.9" y="469.4" width="1.15" height="0.21" fill="url(#g2)"/>
<rect x="485.9" y="469.4" width="1.15" height="0.14" fill="url(#g2)"/>
<rect x="486.9" y="469.4" width="1.15" height="0.07" fill="url(#g2)"/>
<path d="M353.9,478.47 L356.59,478.29 L359.28,478.11 L361.98,477.93 L364.67,477.75 L367.36,477.57 L370.05,477.38 L372.74,477.2 L375.44,477.02 L378.13,476.84 L380.82,476.66 L383.51,476.48 L386.2,476.3 L388.9,476.11 L391.59,475.93 L394.28,475.75 L396.97,475.57 L399.66,475.39 L402.36,475.21 L405.05,475.02 L407.74,474.84 L410.43,474.66 L413.12,474.48 L415.82,474.3 L418.51,474.12 L421.2,473.94 L423.89,473.75 L426.58,473.57 L429.28,473.39 L431.97,473.21 L434.66,473.03 L437.35,472.85 L440.04,472.67 L442.74,472.48 L445.43,472.3 L448.12,472.12 L450.81,471.94 L453.5,471.76 L456.2,471.58 L458.89,471.4 L461.58,471.21 L464.27,471.03 L466.96,470.85 L469.66,470.67 L472.35,470.49 L475.04,470.31 L477.73,470.13 L480.42,469.94 L483.12,469.76 L485.81,469.58 L488.5,469.4" fill="none" stroke="#6a6a6a" stroke-width="0.55" stroke-linejoin="round" stroke-linecap="butt"/>
<path d="M353.9,469.4 L355.22,468.76 L356.54,468.13 L357.86,467.51 L359.18,466.91 L360.5,466.31 L361.82,465.72 L363.14,465.15 L364.46,464.58 L365.78,464.02 L367.1,463.48 L368.42,462.94 L369.74,462.41 L371.06,461.9 L372.38,461.39 L373.7,460.89 L375.02,460.41 L375.02,469.4 L353.9,469.4 Z" fill="#d94801"/>
<path d="M373.82,460.85 L375.38,460.27 L376.95,459.71 L378.51,459.16 L380.08,458.63 L381.64,458.11 L383.2,457.6 L384.77,457.1 L386.33,456.62 L387.9,456.14 L389.46,455.68 L391.02,455.24 L392.59,454.8 L394.15,454.38 L395.72,453.97 L397.28,453.57 L398.84,453.18 L398.84,469.4 L373.82,469.4 Z" fill="#ec620f"/>
<path d="M397.64,453.47 L398.95,453.15 L400.25,452.84 L401.55,452.53 L402.86,452.23 L404.16,451.94 L405.46,451.66 L406.77,451.38 L408.07,451.11 L409.37,450.85 L410.68,450.6 L411.98,450.35 L413.28,450.11 L414.59,449.87 L415.89,449.65 L417.19,449.43 L418.5,449.22 L418.5,469.4 L397.64,469.4 Z" fill="#f87f2c"/>
<path d="M417.3,449.41 L418.44,449.22 L419.58,449.04 L420.73,448.87 L421.87,448.7 L423.01,448.53 L424.16,448.37 L425.3,448.21 L426.44,448.06 L427.59,447.91 L428.73,447.77 L429.87,447.63 L431.02,447.5 L432.16,447.37 L433.3,447.24 L434.45,447.12 L435.59,447 L435.59,469.4 L417.3,469.4 Z" fill="#fd9a4e"/>
<path d="M434.39,447.13 L435.38,447.03 L436.37,446.93 L437.37,446.83 L438.36,446.74 L439.35,446.65 L440.34,446.57 L441.33,446.48 L442.33,446.4 L443.32,446.33 L444.31,446.25 L445.3,446.18 L446.29,446.11 L447.29,446.04 L448.28,445.98 L449.27,445.92 L450.26,445.86 L450.26,469.4 L434.39,469.4 Z" fill="#fdb576"/>
<path d="M449.06,445.93 L450,445.88 L450.95,445.82 L451.89,445.77 L452.83,445.72 L453.77,445.68 L454.71,445.63 L455.65,445.59 L456.59,445.55 L457.54,445.51 L458.48,445.47 L459.42,445.44 L460.36,445.4 L461.3,445.37 L462.24,445.34 L463.18,445.31 L464.13,445.29 L464.13,469.4 L449.06,469.4 Z" fill="#fdd1a3"/>
<path d="M462.93,445.32 L463.82,445.3 L464.71,445.27 L465.6,445.25 L466.49,445.23 L467.38,445.21 L468.27,445.19 L469.16,445.18 L470.05,445.16 L470.95,445.15 L471.84,445.13 L472.73,445.12 L473.62,445.11 L474.51,445.1 L475.4,445.09 L476.29,445.08 L477.18,445.08 L477.18,469.4 L462.93,469.4 Z" fill="#fee2c6"/>
<path d="M475.98,445.09 L476.76,445.08 L477.55,445.08 L478.33,445.07 L479.11,445.07 L479.89,445.06 L480.68,445.06 L481.46,445.06 L482.24,445.05 L483.02,445.05 L483.81,445.05 L484.59,445.05 L485.37,445.05 L486.15,445.05 L486.94,445.05 L487.72,445.05 L488.5,445.05 L488.5,469.4 L475.98,469.4 Z" fill="#ffefe0"/>
<path d="M353.9,469.4 L488.5,469.4" fill="none" stroke="#0000ff" stroke-width="1.0" stroke-linejoin="round" stroke-linecap="butt" opacity="0.82"/>
<path d="M353.9,469.4 L355.25,468.75 L356.59,468.11 L357.94,467.48 L359.28,466.86 L360.63,466.25 L361.98,465.65 L363.32,465.07 L364.67,464.49 L366.01,463.93 L367.36,463.37 L368.71,462.83 L370.05,462.29 L371.4,461.77 L372.74,461.25 L374.09,460.75 L375.44,460.26 L376.78,459.77 L378.13,459.3 L379.47,458.83 L380.82,458.38 L382.17,457.93 L383.51,457.5 L384.86,457.07 L386.2,456.66 L387.55,456.25 L388.9,455.85 L390.24,455.46 L391.59,455.08 L392.93,454.71 L394.28,454.34 L395.63,453.99 L396.97,453.64 L398.32,453.31 L399.66,452.98 L401.01,452.66 L402.36,452.35 L403.7,452.04 L405.05,451.75 L406.39,451.46 L407.74,451.18 L409.09,450.91 L410.43,450.64 L411.78,450.39 L413.12,450.14 L414.47,449.9 L415.82,449.66 L417.16,449.43 L418.51,449.21 L419.85,449 L421.2,448.8 L422.55,448.6 L423.89,448.4 L425.24,448.22 L426.58,448.04 L427.93,447.87 L429.28,447.7 L430.62,447.54 L431.97,447.39 L433.31,447.24 L434.66,447.1 L436.01,446.96 L437.35,446.83 L438.7,446.71 L440.04,446.59 L441.39,446.48 L442.74,446.37 L444.08,446.27 L445.43,446.17 L446.77,446.08 L448.12,445.99 L449.47,445.91 L450.81,445.83 L452.16,445.76 L453.5,445.69 L454.85,445.62 L456.2,445.56 L457.54,445.51 L458.89,445.46 L460.23,445.41 L461.58,445.36 L462.93,445.32 L464.27,445.29 L465.62,445.25 L466.96,445.22 L468.31,445.19 L469.66,445.17 L471,445.15 L472.35,445.13 L473.69,445.11 L475.04,445.1 L476.39,445.08 L477.73,445.07 L479.08,445.07 L480.42,445.06 L481.77,445.05 L483.12,445.05 L484.46,445.05 L485.81,445.05 L487.15,445.05 L488.5,445.05" fill="none" stroke="#000" stroke-width="1.0" stroke-linejoin="round" stroke-linecap="butt"/>
</g>
<path d="M353.9,490.4 v2.1 M380.82,490.4 v2.1 M407.74,490.4 v2.1 M434.66,490.4 v2.1 M461.58,490.4 v2.1 M488.5,490.4 v2.1 M353.9,488.5 h-2.1 M353.9,469.4 h-2.1 M353.9,450.3 h-2.1 M353.9,431.2 h-2.1" stroke="#000" stroke-width="0.6" fill="none"/>
<rect x="353.9" y="419.4" width="134.6" height="71" fill="none" stroke="#000" stroke-width="0.45"/>
<text x="353.9" y="498.75" font-size="5.83" text-anchor="middle" textLength="3.5" lengthAdjust="spacingAndGlyphs">0</text>
<text x="380.82" y="498.75" font-size="5.83" text-anchor="middle" textLength="10.5" lengthAdjust="spacingAndGlyphs">200</text>
<text x="407.74" y="498.75" font-size="5.83" text-anchor="middle" textLength="10.5" lengthAdjust="spacingAndGlyphs">400</text>
<text x="434.66" y="498.75" font-size="5.83" text-anchor="middle" textLength="10.5" lengthAdjust="spacingAndGlyphs">600</text>
<text x="461.58" y="498.75" font-size="5.83" text-anchor="middle" textLength="10.5" lengthAdjust="spacingAndGlyphs">800</text>
<text x="488.5" y="498.75" font-size="5.83" text-anchor="middle" textLength="14" lengthAdjust="spacingAndGlyphs">1000</text>
<text x="421.2" y="506.8" font-size="5.88" text-anchor="middle" textLength="35.77" lengthAdjust="spacingAndGlyphs">Distance (m)</text>
<text x="18.2" y="11.7" font-size="8.32" text-anchor="start" textLength="47.81" lengthAdjust="spacingAndGlyphs">a) Varying τ</text>
<text x="18.2" y="111.5" font-size="8.32" text-anchor="start" textLength="48.98" lengthAdjust="spacingAndGlyphs">b) Varying <tspan font-style="italic">U</tspan></text>
<text x="18.2" y="210.6" font-size="8.32" text-anchor="start" textLength="77.72" lengthAdjust="spacingAndGlyphs">c) Varying <tspan font-style="italic">U</tspan> and <tspan font-style="italic">K</tspan><tspan font-size="5.5" dy="1.3" font-style="italic">D</tspan></text>
<text x="18.2" y="310.7" font-size="8.32" text-anchor="start" textLength="47.96" lengthAdjust="spacingAndGlyphs">d) Varying <tspan font-style="italic">P</tspan></text>
<text x="18.2" y="409.7" font-size="8.32" text-anchor="start" textLength="53.38" lengthAdjust="spacingAndGlyphs">e) Varying τ<tspan font-size="5.5" dy="1.3">m</tspan></text>
<text x="98.45" y="18.3" font-size="6.97" text-anchor="middle" textLength="32.24" lengthAdjust="spacingAndGlyphs">τ = 1 Myr</text>
<text x="259.65" y="18.3" font-size="6.97" text-anchor="middle" textLength="32.24" lengthAdjust="spacingAndGlyphs">τ = 3 Myr</text>
<text x="421.2" y="18.3" font-size="6.97" text-anchor="middle" textLength="32.24" lengthAdjust="spacingAndGlyphs">τ = 5 Myr</text>
<text x="98.45" y="118.1" font-size="6.97" text-anchor="middle" textLength="45.93" lengthAdjust="spacingAndGlyphs"><tspan font-style="italic">U</tspan> = 10 m/Myr</text>
<text x="259.65" y="118.1" font-size="6.97" text-anchor="middle" textLength="45.93" lengthAdjust="spacingAndGlyphs"><tspan font-style="italic">U</tspan> = 30 m/Myr</text>
<text x="421.2" y="118.1" font-size="6.97" text-anchor="middle" textLength="45.93" lengthAdjust="spacingAndGlyphs"><tspan font-style="italic">U</tspan> = 80 m/Myr</text>
<text x="98.45" y="217.2" font-size="6.97" text-anchor="middle" textLength="121.01" lengthAdjust="spacingAndGlyphs"><tspan font-style="italic">U</tspan> = 10 m/Myr and <tspan font-style="italic">K</tspan><tspan font-size="4.6" dy="1.1" font-style="italic">D</tspan><tspan dy="-1.1"> = 0.03 m</tspan><tspan font-size="4.6" dy="-2.2">2</tspan><tspan dy="2.2">/Myr</tspan></text>
<text x="259.65" y="217.2" font-size="6.97" text-anchor="middle" textLength="121.01" lengthAdjust="spacingAndGlyphs"><tspan font-style="italic">U</tspan> = 30 m/Myr and <tspan font-style="italic">K</tspan><tspan font-size="4.6" dy="1.1" font-style="italic">D</tspan><tspan dy="-1.1"> = 0.10 m</tspan><tspan font-size="4.6" dy="-2.2">2</tspan><tspan dy="2.2">/Myr</tspan></text>
<text x="421.2" y="217.2" font-size="6.97" text-anchor="middle" textLength="120.68" lengthAdjust="spacingAndGlyphs"><tspan font-style="italic">U</tspan> = 80 m/Myr and <tspan font-style="italic">K</tspan><tspan font-size="4.6" dy="1.1" font-style="italic">D</tspan><tspan dy="-1.1"> = 0.27 m</tspan><tspan font-size="4.6" dy="-2.2">2</tspan><tspan dy="2.2">/Myr</tspan></text>
<text x="98.45" y="317.3" font-size="6.97" text-anchor="middle" textLength="41.12" lengthAdjust="spacingAndGlyphs"><tspan font-style="italic">P</tspan> = 1.2 m/yr</text>
<text x="259.65" y="317.3" font-size="6.97" text-anchor="middle" textLength="41.45" lengthAdjust="spacingAndGlyphs"><tspan font-style="italic">P</tspan> = 3.0 m/yr</text>
<text x="421.2" y="317.3" font-size="6.97" text-anchor="middle" textLength="41.32" lengthAdjust="spacingAndGlyphs"><tspan font-style="italic">P</tspan> = 4.8 m/yr</text>
<text x="98.45" y="416.3" font-size="6.97" text-anchor="middle" textLength="36.91" lengthAdjust="spacingAndGlyphs">τ<tspan font-size="4.6" dy="1.1" font-style="italic">m</tspan><tspan dy="-1.1"> = 1 Myr</tspan></text>
<text x="259.65" y="416.3" font-size="6.97" text-anchor="middle" textLength="36.91" lengthAdjust="spacingAndGlyphs">τ<tspan font-size="4.6" dy="1.1" font-style="italic">m</tspan><tspan dy="-1.1"> = 3 Myr</tspan></text>
<text x="421.2" y="416.3" font-size="6.97" text-anchor="middle" textLength="36.91" lengthAdjust="spacingAndGlyphs">τ<tspan font-size="4.6" dy="1.1" font-style="italic">m</tspan><tspan dy="-1.1"> = 5 Myr</tspan></text>
<rect x="193.4" y="514.5" width="12.56" height="6" fill="#8e2d04"/>
<rect x="205.16" y="514.5" width="12.56" height="6" fill="#b03903"/>
<rect x="216.92" y="514.5" width="12.56" height="6" fill="#d94801"/>
<rect x="228.68" y="514.5" width="12.56" height="6" fill="#ec620f"/>
<rect x="240.44" y="514.5" width="12.56" height="6" fill="#f87f2c"/>
<rect x="252.2" y="514.5" width="12.56" height="6" fill="#fd9a4e"/>
<rect x="263.96" y="514.5" width="12.56" height="6" fill="#fdb576"/>
<rect x="275.72" y="514.5" width="12.56" height="6" fill="#fdd1a3"/>
<rect x="287.48" y="514.5" width="12.56" height="6" fill="#fee2c6"/>
<rect x="299.24" y="514.5" width="11.76" height="6" fill="#ffefe0"/>
<rect x="193.4" y="514.5" width="117.6" height="6" fill="none" stroke="#000" stroke-width="0.45"/>
<path d="M193.4,520.5 v1.93 M216.92,520.5 v1.93 M240.44,520.5 v1.93 M263.96,520.5 v1.93 M287.48,520.5 v1.93 M311,520.5 v1.93" stroke="#000" stroke-width="0.45"/>
<text x="193.4" y="529" font-size="5.83" text-anchor="middle" textLength="8.75" lengthAdjust="spacingAndGlyphs">0.0</text>
<text x="216.92" y="529" font-size="5.83" text-anchor="middle" textLength="8.75" lengthAdjust="spacingAndGlyphs">0.2</text>
<text x="240.44" y="529" font-size="5.83" text-anchor="middle" textLength="8.75" lengthAdjust="spacingAndGlyphs">0.4</text>
<text x="263.96" y="529" font-size="5.83" text-anchor="middle" textLength="8.75" lengthAdjust="spacingAndGlyphs">0.6</text>
<text x="287.48" y="529" font-size="5.83" text-anchor="middle" textLength="8.75" lengthAdjust="spacingAndGlyphs">0.8</text>
<text x="311" y="529" font-size="5.83" text-anchor="middle" textLength="8.75" lengthAdjust="spacingAndGlyphs">1.0</text>
<text x="252.2" y="536.9" font-size="5.88" text-anchor="middle" textLength="53.72" lengthAdjust="spacingAndGlyphs">Hardening factor, <tspan font-style="italic">κ</tspan></text>
</svg>
<div class="yl" style="left:4.33px;top:71.82px;font-size:6.11px;transform:rotate(-90deg) scaleX(1.0475)">Height (m)</div>
<div class="yl" style="left:182.53px;top:71.82px;font-size:6.11px;transform:rotate(-90deg) scaleX(1.0475)">Height (m)</div>
<div class="yl" style="left:344.03px;top:71.82px;font-size:6.11px;transform:rotate(-90deg) scaleX(1.0475)">Height (m)</div>
<div class="yl" style="left:4.33px;top:171.62px;font-size:6.11px;transform:rotate(-90deg) scaleX(1.0475)">Height (m)</div>
<div class="yl" style="left:182.53px;top:171.62px;font-size:6.11px;transform:rotate(-90deg) scaleX(1.0475)">Height (m)</div>
<div class="yl" style="left:344.03px;top:171.62px;font-size:6.11px;transform:rotate(-90deg) scaleX(1.0475)">Height (m)</div>
<div class="yl" style="left:4.33px;top:270.72px;font-size:6.11px;transform:rotate(-90deg) scaleX(1.0475)">Height (m)</div>
<div class="yl" style="left:182.53px;top:270.72px;font-size:6.11px;transform:rotate(-90deg) scaleX(1.0475)">Height (m)</div>
<div class="yl" style="left:344.03px;top:270.72px;font-size:6.11px;transform:rotate(-90deg) scaleX(1.0475)">Height (m)</div>
<div class="yl" style="left:4.33px;top:370.82px;font-size:6.11px;transform:rotate(-90deg) scaleX(1.0475)">Height (m)</div>
<div class="yl" style="left:182.53px;top:370.82px;font-size:6.11px;transform:rotate(-90deg) scaleX(1.0475)">Height (m)</div>
<div class="yl" style="left:344.03px;top:370.82px;font-size:6.11px;transform:rotate(-90deg) scaleX(1.0475)">Height (m)</div>
<div class="yl" style="left:4.33px;top:469.82px;font-size:6.11px;transform:rotate(-90deg) scaleX(1.0475)">Height (m)</div>
<div class="yl" style="left:182.53px;top:469.82px;font-size:6.11px;transform:rotate(-90deg) scaleX(1.0475)">Height (m)</div>
<div class="yl" style="left:344.03px;top:469.82px;font-size:6.11px;transform:rotate(-90deg) scaleX(1.0475)">Height (m)</div>
</body></html>
